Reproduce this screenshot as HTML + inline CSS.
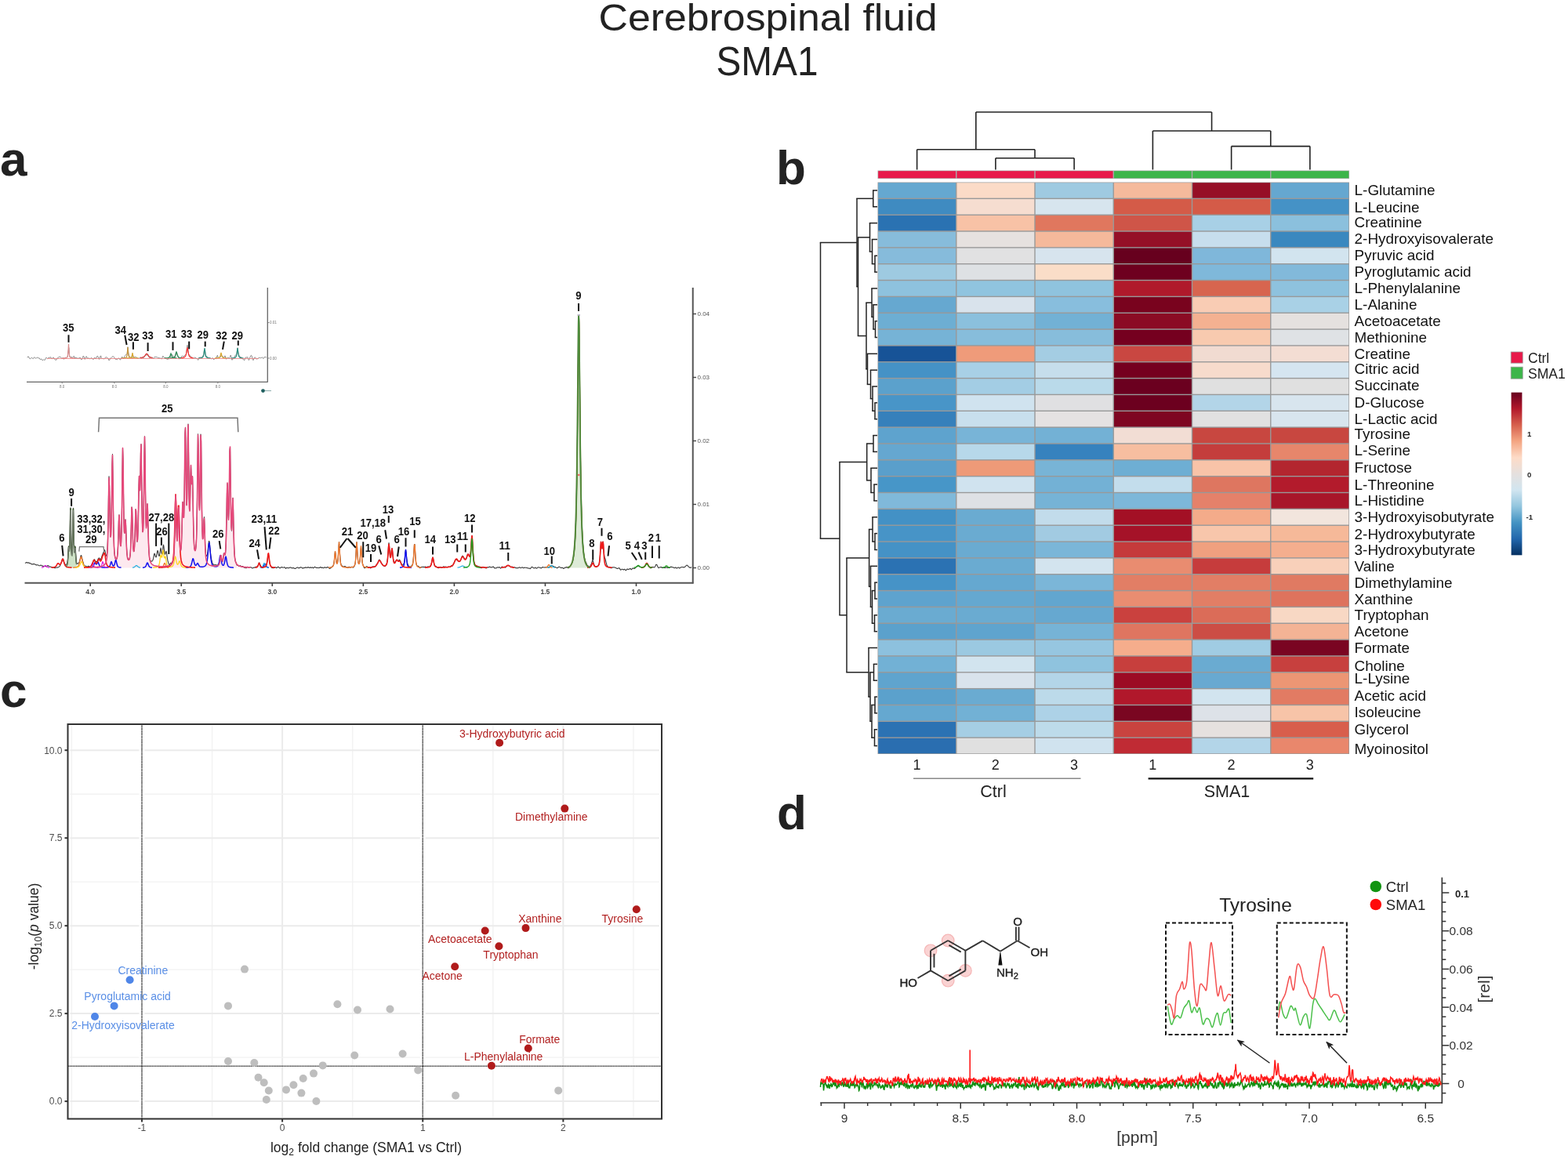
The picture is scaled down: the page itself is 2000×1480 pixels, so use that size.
<!DOCTYPE html>
<html><head><meta charset="utf-8"><title>Cerebrospinal fluid SMA1</title>
<style>html,body{margin:0;padding:0;background:#fff;}svg{display:block;}text{font-family:'Liberation Sans', Arial, Helvetica, sans-serif;}</style>
</head><body>
<svg width="2000" height="1480" viewBox="0 0 2000 1480">
<rect x="0" y="0" width="2000" height="1480" fill="#ffffff"/>
<text x="979.5" y="39" font-size="49" fill="#222" text-anchor="middle" textLength="432" lengthAdjust="spacingAndGlyphs">Cerebrospinal fluid</text>
<text x="978.5" y="95.5" font-size="51" fill="#222" text-anchor="middle" textLength="130" lengthAdjust="spacingAndGlyphs">SMA1</text>
<text x="0" y="224" font-size="62" fill="#222" font-weight="bold">a</text>
<text x="990" y="234.5" font-size="62" fill="#222" font-weight="bold">b</text>
<text x="0" y="902" font-size="62" fill="#222" font-weight="bold">c</text>
<text x="991" y="1057.5" font-size="62" fill="#222" font-weight="bold">d</text>
<rect x="1119.5" y="217.5" width="601.5" height="10.5" fill="#AAAAAA"/>
<rect x="1120.2" y="218.2" width="98.85" height="9.1" fill="#E8194A"/>
<rect x="1220.45" y="218.2" width="98.85" height="9.1" fill="#E8194A"/>
<rect x="1320.7" y="218.2" width="98.85" height="9.1" fill="#E8194A"/>
<rect x="1420.95" y="218.2" width="98.85" height="9.1" fill="#3DB54A"/>
<rect x="1521.2" y="218.2" width="98.85" height="9.1" fill="#3DB54A"/>
<rect x="1621.45" y="218.2" width="98.85" height="9.1" fill="#3DB54A"/>
<rect x="1119.5" y="232.5" width="601.5" height="729.5" fill="#999999"/>
<rect x="1120.2" y="233.2" width="98.85" height="19.44" fill="#65A8D0"/>
<rect x="1220.45" y="233.2" width="98.85" height="19.44" fill="#FBDBC7"/>
<rect x="1320.7" y="233.2" width="98.85" height="19.44" fill="#9FCAE1"/>
<rect x="1420.95" y="233.2" width="98.85" height="19.44" fill="#F5BA9C"/>
<rect x="1521.2" y="233.2" width="98.85" height="19.44" fill="#960F26"/>
<rect x="1621.45" y="233.2" width="98.85" height="19.44" fill="#65A7D0"/>
<rect x="1120.2" y="254.04" width="98.85" height="19.44" fill="#3F8BC1"/>
<rect x="1220.45" y="254.04" width="98.85" height="19.44" fill="#F6DDD0"/>
<rect x="1320.7" y="254.04" width="98.85" height="19.44" fill="#D7E5EE"/>
<rect x="1420.95" y="254.04" width="98.85" height="19.44" fill="#D45B48"/>
<rect x="1521.2" y="254.04" width="98.85" height="19.44" fill="#D45B48"/>
<rect x="1621.45" y="254.04" width="98.85" height="19.44" fill="#4592C6"/>
<rect x="1120.2" y="274.89" width="98.85" height="19.44" fill="#2A72B2"/>
<rect x="1220.45" y="274.89" width="98.85" height="19.44" fill="#F8C2A6"/>
<rect x="1320.7" y="274.89" width="98.85" height="19.44" fill="#E0775E"/>
<rect x="1420.95" y="274.89" width="98.85" height="19.44" fill="#CF5548"/>
<rect x="1521.2" y="274.89" width="98.85" height="19.44" fill="#A8D0E6"/>
<rect x="1621.45" y="274.89" width="98.85" height="19.44" fill="#8BC0DD"/>
<rect x="1120.2" y="295.73" width="98.85" height="19.44" fill="#87BCDB"/>
<rect x="1220.45" y="295.73" width="98.85" height="19.44" fill="#E6E1DF"/>
<rect x="1320.7" y="295.73" width="98.85" height="19.44" fill="#F5B99B"/>
<rect x="1420.95" y="295.73" width="98.85" height="19.44" fill="#951027"/>
<rect x="1521.2" y="295.73" width="98.85" height="19.44" fill="#C7DEED"/>
<rect x="1621.45" y="295.73" width="98.85" height="19.44" fill="#3A88BF"/>
<rect x="1120.2" y="316.57" width="98.85" height="19.44" fill="#86BBDB"/>
<rect x="1220.45" y="316.57" width="98.85" height="19.44" fill="#E1E1E2"/>
<rect x="1320.7" y="316.57" width="98.85" height="19.44" fill="#D7E4EE"/>
<rect x="1420.95" y="316.57" width="98.85" height="19.44" fill="#67001E"/>
<rect x="1521.2" y="316.57" width="98.85" height="19.44" fill="#7FB7DA"/>
<rect x="1621.45" y="316.57" width="98.85" height="19.44" fill="#D2E4EF"/>
<rect x="1120.2" y="337.41" width="98.85" height="19.44" fill="#9ECAE1"/>
<rect x="1220.45" y="337.41" width="98.85" height="19.44" fill="#DEE1E4"/>
<rect x="1320.7" y="337.41" width="98.85" height="19.44" fill="#FADDC8"/>
<rect x="1420.95" y="337.41" width="98.85" height="19.44" fill="#6E001F"/>
<rect x="1521.2" y="337.41" width="98.85" height="19.44" fill="#7FB8DA"/>
<rect x="1621.45" y="337.41" width="98.85" height="19.44" fill="#82B9DA"/>
<rect x="1120.2" y="358.26" width="98.85" height="19.44" fill="#8EC2DE"/>
<rect x="1220.45" y="358.26" width="98.85" height="19.44" fill="#90C4DF"/>
<rect x="1320.7" y="358.26" width="98.85" height="19.44" fill="#8FC3DE"/>
<rect x="1420.95" y="358.26" width="98.85" height="19.44" fill="#B0192B"/>
<rect x="1521.2" y="358.26" width="98.85" height="19.44" fill="#D7654F"/>
<rect x="1621.45" y="358.26" width="98.85" height="19.44" fill="#8EC2DE"/>
<rect x="1120.2" y="379.1" width="98.85" height="19.44" fill="#66A8D0"/>
<rect x="1220.45" y="379.1" width="98.85" height="19.44" fill="#D9E3EC"/>
<rect x="1320.7" y="379.1" width="98.85" height="19.44" fill="#88BEDD"/>
<rect x="1420.95" y="379.1" width="98.85" height="19.44" fill="#79031E"/>
<rect x="1521.2" y="379.1" width="98.85" height="19.44" fill="#F9CCB4"/>
<rect x="1621.45" y="379.1" width="98.85" height="19.44" fill="#A9D1E6"/>
<rect x="1120.2" y="399.94" width="98.85" height="19.44" fill="#6DAED3"/>
<rect x="1220.45" y="399.94" width="98.85" height="19.44" fill="#8BC0DD"/>
<rect x="1320.7" y="399.94" width="98.85" height="19.44" fill="#72B1D5"/>
<rect x="1420.95" y="399.94" width="98.85" height="19.44" fill="#8B0B24"/>
<rect x="1521.2" y="399.94" width="98.85" height="19.44" fill="#F4B191"/>
<rect x="1621.45" y="399.94" width="98.85" height="19.44" fill="#E5E1DF"/>
<rect x="1120.2" y="420.79" width="98.85" height="19.44" fill="#76B3D6"/>
<rect x="1220.45" y="420.79" width="98.85" height="19.44" fill="#87BDDB"/>
<rect x="1320.7" y="420.79" width="98.85" height="19.44" fill="#87BDDB"/>
<rect x="1420.95" y="420.79" width="98.85" height="19.44" fill="#75001F"/>
<rect x="1521.2" y="420.79" width="98.85" height="19.44" fill="#F8CAAF"/>
<rect x="1621.45" y="420.79" width="98.85" height="19.44" fill="#DFE2E5"/>
<rect x="1120.2" y="441.63" width="98.85" height="19.44" fill="#175397"/>
<rect x="1220.45" y="441.63" width="98.85" height="19.44" fill="#EF9B7A"/>
<rect x="1320.7" y="441.63" width="98.85" height="19.44" fill="#A4CDE3"/>
<rect x="1420.95" y="441.63" width="98.85" height="19.44" fill="#C94741"/>
<rect x="1521.2" y="441.63" width="98.85" height="19.44" fill="#F1DBD1"/>
<rect x="1621.45" y="441.63" width="98.85" height="19.44" fill="#F3DDD3"/>
<rect x="1120.2" y="462.47" width="98.85" height="19.44" fill="#4592C6"/>
<rect x="1220.45" y="462.47" width="98.85" height="19.44" fill="#A8D0E6"/>
<rect x="1320.7" y="462.47" width="98.85" height="19.44" fill="#C6DEEC"/>
<rect x="1420.95" y="462.47" width="98.85" height="19.44" fill="#75001F"/>
<rect x="1521.2" y="462.47" width="98.85" height="19.44" fill="#F7DBCC"/>
<rect x="1621.45" y="462.47" width="98.85" height="19.44" fill="#D5E5F0"/>
<rect x="1120.2" y="483.31" width="98.85" height="19.44" fill="#5BA1CC"/>
<rect x="1220.45" y="483.31" width="98.85" height="19.44" fill="#A3CDE4"/>
<rect x="1320.7" y="483.31" width="98.85" height="19.44" fill="#BADAEA"/>
<rect x="1420.95" y="483.31" width="98.85" height="19.44" fill="#6B001F"/>
<rect x="1521.2" y="483.31" width="98.85" height="19.44" fill="#E0E0E0"/>
<rect x="1621.45" y="483.31" width="98.85" height="19.44" fill="#E0E0E0"/>
<rect x="1120.2" y="504.16" width="98.85" height="19.44" fill="#4895C8"/>
<rect x="1220.45" y="504.16" width="98.85" height="19.44" fill="#D0E3EF"/>
<rect x="1320.7" y="504.16" width="98.85" height="19.44" fill="#E0E0E2"/>
<rect x="1420.95" y="504.16" width="98.85" height="19.44" fill="#6C001F"/>
<rect x="1521.2" y="504.16" width="98.85" height="19.44" fill="#B3D5E8"/>
<rect x="1621.45" y="504.16" width="98.85" height="19.44" fill="#D8E5EE"/>
<rect x="1120.2" y="525" width="98.85" height="19.44" fill="#3680BB"/>
<rect x="1220.45" y="525" width="98.85" height="19.44" fill="#C8DFED"/>
<rect x="1320.7" y="525" width="98.85" height="19.44" fill="#E5E2E2"/>
<rect x="1420.95" y="525" width="98.85" height="19.44" fill="#7E0621"/>
<rect x="1521.2" y="525" width="98.85" height="19.44" fill="#E1E1E1"/>
<rect x="1621.45" y="525" width="98.85" height="19.44" fill="#D8E5EE"/>
<rect x="1120.2" y="545.84" width="98.85" height="19.44" fill="#5EA3CE"/>
<rect x="1220.45" y="545.84" width="98.85" height="19.44" fill="#78B4D7"/>
<rect x="1320.7" y="545.84" width="98.85" height="19.44" fill="#73B1D5"/>
<rect x="1420.95" y="545.84" width="98.85" height="19.44" fill="#F2DDD4"/>
<rect x="1521.2" y="545.84" width="98.85" height="19.44" fill="#C84740"/>
<rect x="1621.45" y="545.84" width="98.85" height="19.44" fill="#C84740"/>
<rect x="1120.2" y="566.69" width="98.85" height="19.44" fill="#65A7D0"/>
<rect x="1220.45" y="566.69" width="98.85" height="19.44" fill="#B7D8EA"/>
<rect x="1320.7" y="566.69" width="98.85" height="19.44" fill="#3682BE"/>
<rect x="1420.95" y="566.69" width="98.85" height="19.44" fill="#F7BEA0"/>
<rect x="1521.2" y="566.69" width="98.85" height="19.44" fill="#C43D3C"/>
<rect x="1621.45" y="566.69" width="98.85" height="19.44" fill="#E7866B"/>
<rect x="1120.2" y="587.53" width="98.85" height="19.44" fill="#5A9FCB"/>
<rect x="1220.45" y="587.53" width="98.85" height="19.44" fill="#EE9A78"/>
<rect x="1320.7" y="587.53" width="98.85" height="19.44" fill="#78B4D6"/>
<rect x="1420.95" y="587.53" width="98.85" height="19.44" fill="#6EAED3"/>
<rect x="1521.2" y="587.53" width="98.85" height="19.44" fill="#F8C3A8"/>
<rect x="1621.45" y="587.53" width="98.85" height="19.44" fill="#B3262F"/>
<rect x="1120.2" y="608.37" width="98.85" height="19.44" fill="#4796C8"/>
<rect x="1220.45" y="608.37" width="98.85" height="19.44" fill="#D0E3EF"/>
<rect x="1320.7" y="608.37" width="98.85" height="19.44" fill="#73B1D5"/>
<rect x="1420.95" y="608.37" width="98.85" height="19.44" fill="#C3DDEC"/>
<rect x="1521.2" y="608.37" width="98.85" height="19.44" fill="#DE7660"/>
<rect x="1621.45" y="608.37" width="98.85" height="19.44" fill="#B31B2C"/>
<rect x="1120.2" y="629.21" width="98.85" height="19.44" fill="#80B9DA"/>
<rect x="1220.45" y="629.21" width="98.85" height="19.44" fill="#DEE1E5"/>
<rect x="1320.7" y="629.21" width="98.85" height="19.44" fill="#76B3D6"/>
<rect x="1420.95" y="629.21" width="98.85" height="19.44" fill="#7DB7D9"/>
<rect x="1521.2" y="629.21" width="98.85" height="19.44" fill="#E5816A"/>
<rect x="1621.45" y="629.21" width="98.85" height="19.44" fill="#A8162A"/>
<rect x="1120.2" y="650.06" width="98.85" height="19.44" fill="#4391C5"/>
<rect x="1220.45" y="650.06" width="98.85" height="19.44" fill="#6AABD1"/>
<rect x="1320.7" y="650.06" width="98.85" height="19.44" fill="#C2DCEB"/>
<rect x="1420.95" y="650.06" width="98.85" height="19.44" fill="#A31025"/>
<rect x="1521.2" y="650.06" width="98.85" height="19.44" fill="#F4AB8A"/>
<rect x="1621.45" y="650.06" width="98.85" height="19.44" fill="#F2E5DD"/>
<rect x="1120.2" y="670.9" width="98.85" height="19.44" fill="#4794C7"/>
<rect x="1220.45" y="670.9" width="98.85" height="19.44" fill="#6AABD1"/>
<rect x="1320.7" y="670.9" width="98.85" height="19.44" fill="#A2CBE2"/>
<rect x="1420.95" y="670.9" width="98.85" height="19.44" fill="#A51228"/>
<rect x="1521.2" y="670.9" width="98.85" height="19.44" fill="#F8C6AB"/>
<rect x="1621.45" y="670.9" width="98.85" height="19.44" fill="#F6B999"/>
<rect x="1120.2" y="691.74" width="98.85" height="19.44" fill="#4592C6"/>
<rect x="1220.45" y="691.74" width="98.85" height="19.44" fill="#6AABD1"/>
<rect x="1320.7" y="691.74" width="98.85" height="19.44" fill="#7BB6D8"/>
<rect x="1420.95" y="691.74" width="98.85" height="19.44" fill="#C53A3B"/>
<rect x="1521.2" y="691.74" width="98.85" height="19.44" fill="#F0A07F"/>
<rect x="1621.45" y="691.74" width="98.85" height="19.44" fill="#F4AE8E"/>
<rect x="1120.2" y="712.59" width="98.85" height="19.44" fill="#2B72B3"/>
<rect x="1220.45" y="712.59" width="98.85" height="19.44" fill="#6AABD1"/>
<rect x="1320.7" y="712.59" width="98.85" height="19.44" fill="#D3E4EF"/>
<rect x="1420.95" y="712.59" width="98.85" height="19.44" fill="#E98C70"/>
<rect x="1521.2" y="712.59" width="98.85" height="19.44" fill="#C63C3C"/>
<rect x="1621.45" y="712.59" width="98.85" height="19.44" fill="#F8D0BA"/>
<rect x="1120.2" y="733.43" width="98.85" height="19.44" fill="#4693C7"/>
<rect x="1220.45" y="733.43" width="98.85" height="19.44" fill="#65A8D0"/>
<rect x="1320.7" y="733.43" width="98.85" height="19.44" fill="#7BB6D8"/>
<rect x="1420.95" y="733.43" width="98.85" height="19.44" fill="#E27E65"/>
<rect x="1521.2" y="733.43" width="98.85" height="19.44" fill="#E27E65"/>
<rect x="1621.45" y="733.43" width="98.85" height="19.44" fill="#E07A62"/>
<rect x="1120.2" y="754.27" width="98.85" height="19.44" fill="#5EA3CE"/>
<rect x="1220.45" y="754.27" width="98.85" height="19.44" fill="#65A8D0"/>
<rect x="1320.7" y="754.27" width="98.85" height="19.44" fill="#62A6CF"/>
<rect x="1420.95" y="754.27" width="98.85" height="19.44" fill="#E98D71"/>
<rect x="1521.2" y="754.27" width="98.85" height="19.44" fill="#E27E65"/>
<rect x="1621.45" y="754.27" width="98.85" height="19.44" fill="#DE735D"/>
<rect x="1120.2" y="775.11" width="98.85" height="19.44" fill="#6AABD1"/>
<rect x="1220.45" y="775.11" width="98.85" height="19.44" fill="#6AABD1"/>
<rect x="1320.7" y="775.11" width="98.85" height="19.44" fill="#66A8D0"/>
<rect x="1420.95" y="775.11" width="98.85" height="19.44" fill="#CA413E"/>
<rect x="1521.2" y="775.11" width="98.85" height="19.44" fill="#DB6C58"/>
<rect x="1621.45" y="775.11" width="98.85" height="19.44" fill="#F8D8C4"/>
<rect x="1120.2" y="795.96" width="98.85" height="19.44" fill="#5BA1CC"/>
<rect x="1220.45" y="795.96" width="98.85" height="19.44" fill="#5FA4CE"/>
<rect x="1320.7" y="795.96" width="98.85" height="19.44" fill="#76B3D6"/>
<rect x="1420.95" y="795.96" width="98.85" height="19.44" fill="#DF7560"/>
<rect x="1521.2" y="795.96" width="98.85" height="19.44" fill="#CC4D45"/>
<rect x="1621.45" y="795.96" width="98.85" height="19.44" fill="#F4B395"/>
<rect x="1120.2" y="816.8" width="98.85" height="19.44" fill="#8DC1DE"/>
<rect x="1220.45" y="816.8" width="98.85" height="19.44" fill="#9BC9E1"/>
<rect x="1320.7" y="816.8" width="98.85" height="19.44" fill="#96C6E0"/>
<rect x="1420.95" y="816.8" width="98.85" height="19.44" fill="#F5AD8C"/>
<rect x="1521.2" y="816.8" width="98.85" height="19.44" fill="#A0CCE3"/>
<rect x="1621.45" y="816.8" width="98.85" height="19.44" fill="#7A0522"/>
<rect x="1120.2" y="837.64" width="98.85" height="19.44" fill="#72B1D5"/>
<rect x="1220.45" y="837.64" width="98.85" height="19.44" fill="#D2E4EF"/>
<rect x="1320.7" y="837.64" width="98.85" height="19.44" fill="#8FC3DE"/>
<rect x="1420.95" y="837.64" width="98.85" height="19.44" fill="#C73F3D"/>
<rect x="1521.2" y="837.64" width="98.85" height="19.44" fill="#6AABD1"/>
<rect x="1621.45" y="837.64" width="98.85" height="19.44" fill="#C7403E"/>
<rect x="1120.2" y="858.49" width="98.85" height="19.44" fill="#5FA4CE"/>
<rect x="1220.45" y="858.49" width="98.85" height="19.44" fill="#D9E3EC"/>
<rect x="1320.7" y="858.49" width="98.85" height="19.44" fill="#B3D5E8"/>
<rect x="1420.95" y="858.49" width="98.85" height="19.44" fill="#9C0B24"/>
<rect x="1521.2" y="858.49" width="98.85" height="19.44" fill="#68A9D1"/>
<rect x="1621.45" y="858.49" width="98.85" height="19.44" fill="#EC9674"/>
<rect x="1120.2" y="879.33" width="98.85" height="19.44" fill="#5BA1CC"/>
<rect x="1220.45" y="879.33" width="98.85" height="19.44" fill="#6AABD1"/>
<rect x="1320.7" y="879.33" width="98.85" height="19.44" fill="#BCDAEA"/>
<rect x="1420.95" y="879.33" width="98.85" height="19.44" fill="#B1182B"/>
<rect x="1521.2" y="879.33" width="98.85" height="19.44" fill="#D2E4EF"/>
<rect x="1621.45" y="879.33" width="98.85" height="19.44" fill="#E27B63"/>
<rect x="1120.2" y="900.17" width="98.85" height="19.44" fill="#65A8D0"/>
<rect x="1220.45" y="900.17" width="98.85" height="19.44" fill="#72B1D5"/>
<rect x="1320.7" y="900.17" width="98.85" height="19.44" fill="#ADD2E7"/>
<rect x="1420.95" y="900.17" width="98.85" height="19.44" fill="#7A0621"/>
<rect x="1521.2" y="900.17" width="98.85" height="19.44" fill="#DDE2E8"/>
<rect x="1621.45" y="900.17" width="98.85" height="19.44" fill="#F7C4A8"/>
<rect x="1120.2" y="921.01" width="98.85" height="19.44" fill="#2B72B3"/>
<rect x="1220.45" y="921.01" width="98.85" height="19.44" fill="#A5CEE4"/>
<rect x="1320.7" y="921.01" width="98.85" height="19.44" fill="#BDDBEA"/>
<rect x="1420.95" y="921.01" width="98.85" height="19.44" fill="#C9433F"/>
<rect x="1521.2" y="921.01" width="98.85" height="19.44" fill="#E6E1DF"/>
<rect x="1621.45" y="921.01" width="98.85" height="19.44" fill="#D85E4C"/>
<rect x="1120.2" y="941.86" width="98.85" height="19.44" fill="#2A6EB0"/>
<rect x="1220.45" y="941.86" width="98.85" height="19.44" fill="#E0E0E0"/>
<rect x="1320.7" y="941.86" width="98.85" height="19.44" fill="#D0E3EF"/>
<rect x="1420.95" y="941.86" width="98.85" height="19.44" fill="#C02B34"/>
<rect x="1521.2" y="941.86" width="98.85" height="19.44" fill="#B3D5E8"/>
<rect x="1621.45" y="941.86" width="98.85" height="19.44" fill="#E9876C"/>
<g transform="translate(1727.6,0) scale(1.05,1)">
<text x="0" y="248.6" font-size="18" fill="#111">L-Glutamine</text>
<text x="0" y="270.8" font-size="18" fill="#111">L-Leucine</text>
<text x="0" y="290.1" font-size="18" fill="#111">Creatinine</text>
<text x="0" y="310.9" font-size="18" fill="#111">2-Hydroxyisovalerate</text>
<text x="0" y="331.8" font-size="18" fill="#111">Pyruvic acid</text>
<text x="0" y="353.5" font-size="18" fill="#111">Pyroglutamic acid</text>
<text x="0" y="374.4" font-size="18" fill="#111">L-Phenylalanine</text>
<text x="0" y="395.3" font-size="18" fill="#111">L-Alanine</text>
<text x="0" y="416" font-size="18" fill="#111">Acetoacetate</text>
<text x="0" y="437" font-size="18" fill="#111">Methionine</text>
<text x="0" y="457.8" font-size="18" fill="#111">Creatine</text>
<text x="0" y="477" font-size="18" fill="#111">Citric acid</text>
<text x="0" y="497.9" font-size="18" fill="#111">Succinate</text>
<text x="0" y="520" font-size="18" fill="#111">D-Glucose</text>
<text x="0" y="540.9" font-size="18" fill="#111">L-Lactic acid</text>
<text x="0" y="559.9" font-size="18" fill="#111">Tyrosine</text>
<text x="0" y="581.1" font-size="18" fill="#111">L-Serine</text>
<text x="0" y="603.2" font-size="18" fill="#111">Fructose</text>
<text x="0" y="625.4" font-size="18" fill="#111">L-Threonine</text>
<text x="0" y="644.7" font-size="18" fill="#111">L-Histidine</text>
<text x="0" y="666.5" font-size="18" fill="#111">3-Hydroxyisobutyrate</text>
<text x="0" y="687.6" font-size="18" fill="#111">2-Hydroxybutyrate</text>
<text x="0" y="708.4" font-size="18" fill="#111">3-Hydroxybutyrate</text>
<text x="0" y="729.1" font-size="18" fill="#111">Valine</text>
<text x="0" y="749.8" font-size="18" fill="#111">Dimethylamine</text>
<text x="0" y="770.6" font-size="18" fill="#111">Xanthine</text>
<text x="0" y="791.2" font-size="18" fill="#111">Tryptophan</text>
<text x="0" y="811.9" font-size="18" fill="#111">Acetone</text>
<text x="0" y="833.3" font-size="18" fill="#111">Formate</text>
<text x="0" y="855.7" font-size="18" fill="#111">Choline</text>
<text x="0" y="872.4" font-size="18" fill="#111">L-Lysine</text>
<text x="0" y="894.2" font-size="18" fill="#111">Acetic acid</text>
<text x="0" y="914.9" font-size="18" fill="#111">Isoleucine</text>
<text x="0" y="937.3" font-size="18" fill="#111">Glycerol</text>
<text x="0" y="962" font-size="18" fill="#111">Myoinositol</text>
</g>
<text x="1169.62" y="981.5" font-size="18" fill="#222" text-anchor="middle">1</text>
<text x="1269.88" y="981.5" font-size="18" fill="#222" text-anchor="middle">2</text>
<text x="1370.12" y="981.5" font-size="18" fill="#222" text-anchor="middle">3</text>
<text x="1470.38" y="981.5" font-size="18" fill="#222" text-anchor="middle">1</text>
<text x="1570.62" y="981.5" font-size="18" fill="#222" text-anchor="middle">2</text>
<text x="1670.88" y="981.5" font-size="18" fill="#222" text-anchor="middle">3</text>
<line x1="1165" y1="993.3" x2="1378.5" y2="993.3" stroke="#888" stroke-width="1.6"/>
<line x1="1464.6" y1="993.3" x2="1675.2" y2="993.3" stroke="#111" stroke-width="2.2"/>
<text x="1267" y="1017" font-size="21.5" fill="#222" text-anchor="middle">Ctrl</text>
<text x="1565" y="1017" font-size="21.5" fill="#222" text-anchor="middle">SMA1</text>
<rect x="1927.2" y="449" width="15" height="14.2" fill="#E8194A" stroke="#9a9a9a" stroke-width="0.8"/>
<rect x="1927.2" y="468.2" width="15" height="15" fill="#3DB54A" stroke="#9a9a9a" stroke-width="0.8"/>
<text x="1949" y="463" font-size="17.5" fill="#222">Ctrl</text>
<text x="1949" y="483" font-size="17.5" fill="#222">SMA1</text>
<defs><linearGradient id="cb" x1="0" y1="1" x2="0" y2="0"><stop offset="0" stop-color="#053061"/><stop offset="0.1" stop-color="#2166AC"/><stop offset="0.2" stop-color="#4393C3"/><stop offset="0.3" stop-color="#92C5DE"/><stop offset="0.4" stop-color="#D1E5F0"/><stop offset="0.5" stop-color="#E5E0DE"/><stop offset="0.6" stop-color="#FDDBC7"/><stop offset="0.7" stop-color="#F4A582"/><stop offset="0.8" stop-color="#D6604D"/><stop offset="0.9" stop-color="#B2182B"/><stop offset="1" stop-color="#67001F"/></linearGradient></defs>
<rect x="1927.6" y="500.7" width="13.8" height="207.6" fill="url(#cb)"/>
<text x="1948" y="556.5" font-size="9.5" fill="#222" font-weight="bold">1</text>
<text x="1948" y="608.5" font-size="9.5" fill="#222" font-weight="bold">0</text>
<text x="1946.5" y="662.5" font-size="9.5" fill="#222" font-weight="bold">-1</text>
<line x1="1269.88" y1="201.75" x2="1370.12" y2="201.75" stroke="#222" stroke-width="1.6"/>
<line x1="1269.88" y1="201.75" x2="1269.88" y2="216.5" stroke="#222" stroke-width="1.6"/>
<line x1="1370.12" y1="201.75" x2="1370.12" y2="216.5" stroke="#222" stroke-width="1.6"/>
<line x1="1169.62" y1="190.75" x2="1320" y2="190.75" stroke="#222" stroke-width="1.6"/>
<line x1="1169.62" y1="190.75" x2="1169.62" y2="216.5" stroke="#222" stroke-width="1.6"/>
<line x1="1320" y1="190.75" x2="1320" y2="201.75" stroke="#222" stroke-width="1.6"/>
<line x1="1570.62" y1="186.6" x2="1670.88" y2="186.6" stroke="#222" stroke-width="1.6"/>
<line x1="1570.62" y1="186.6" x2="1570.62" y2="216.5" stroke="#222" stroke-width="1.6"/>
<line x1="1670.88" y1="186.6" x2="1670.88" y2="216.5" stroke="#222" stroke-width="1.6"/>
<line x1="1470.38" y1="167" x2="1620.75" y2="167" stroke="#222" stroke-width="1.6"/>
<line x1="1470.38" y1="167" x2="1470.38" y2="216.5" stroke="#222" stroke-width="1.6"/>
<line x1="1620.75" y1="167" x2="1620.75" y2="186.6" stroke="#222" stroke-width="1.6"/>
<line x1="1244.81" y1="143" x2="1545.56" y2="143" stroke="#222" stroke-width="1.6"/>
<line x1="1244.81" y1="143" x2="1244.81" y2="190.75" stroke="#222" stroke-width="1.6"/>
<line x1="1545.56" y1="143" x2="1545.56" y2="167" stroke="#222" stroke-width="1.6"/>
<line x1="1113.75" y1="242.92" x2="1113.75" y2="263.76" stroke="#222" stroke-width="1.5"/>
<line x1="1113" y1="242.92" x2="1119" y2="242.92" stroke="#222" stroke-width="1.5"/>
<line x1="1113" y1="263.76" x2="1119" y2="263.76" stroke="#222" stroke-width="1.5"/>
<line x1="1116" y1="326.29" x2="1116" y2="347.14" stroke="#222" stroke-width="1.5"/>
<line x1="1115.25" y1="326.29" x2="1119" y2="326.29" stroke="#222" stroke-width="1.5"/>
<line x1="1115.25" y1="347.14" x2="1119" y2="347.14" stroke="#222" stroke-width="1.5"/>
<line x1="1112.5" y1="305.45" x2="1112.5" y2="336.71" stroke="#222" stroke-width="1.5"/>
<line x1="1111.75" y1="305.45" x2="1119" y2="305.45" stroke="#222" stroke-width="1.5"/>
<line x1="1111.75" y1="336.71" x2="1116" y2="336.71" stroke="#222" stroke-width="1.5"/>
<line x1="1109.5" y1="284.61" x2="1109.5" y2="321.08" stroke="#222" stroke-width="1.5"/>
<line x1="1108.75" y1="284.61" x2="1119" y2="284.61" stroke="#222" stroke-width="1.5"/>
<line x1="1108.75" y1="321.08" x2="1112.5" y2="321.08" stroke="#222" stroke-width="1.5"/>
<line x1="1116.5" y1="409.66" x2="1116.5" y2="430.51" stroke="#222" stroke-width="1.5"/>
<line x1="1115.75" y1="409.66" x2="1119" y2="409.66" stroke="#222" stroke-width="1.5"/>
<line x1="1115.75" y1="430.51" x2="1119" y2="430.51" stroke="#222" stroke-width="1.5"/>
<line x1="1114" y1="388.82" x2="1114" y2="420.09" stroke="#222" stroke-width="1.5"/>
<line x1="1113.25" y1="388.82" x2="1119" y2="388.82" stroke="#222" stroke-width="1.5"/>
<line x1="1113.25" y1="420.09" x2="1116.5" y2="420.09" stroke="#222" stroke-width="1.5"/>
<line x1="1112" y1="367.98" x2="1112" y2="404.45" stroke="#222" stroke-width="1.5"/>
<line x1="1111.25" y1="367.98" x2="1119" y2="367.98" stroke="#222" stroke-width="1.5"/>
<line x1="1111.25" y1="404.45" x2="1114" y2="404.45" stroke="#222" stroke-width="1.5"/>
<line x1="1116" y1="513.88" x2="1116" y2="534.72" stroke="#222" stroke-width="1.5"/>
<line x1="1115.25" y1="513.88" x2="1119" y2="513.88" stroke="#222" stroke-width="1.5"/>
<line x1="1115.25" y1="534.72" x2="1119" y2="534.72" stroke="#222" stroke-width="1.5"/>
<line x1="1113" y1="493.04" x2="1113" y2="524.3" stroke="#222" stroke-width="1.5"/>
<line x1="1112.25" y1="493.04" x2="1119" y2="493.04" stroke="#222" stroke-width="1.5"/>
<line x1="1112.25" y1="524.3" x2="1116" y2="524.3" stroke="#222" stroke-width="1.5"/>
<line x1="1110.5" y1="472.19" x2="1110.5" y2="508.67" stroke="#222" stroke-width="1.5"/>
<line x1="1109.75" y1="472.19" x2="1119" y2="472.19" stroke="#222" stroke-width="1.5"/>
<line x1="1109.75" y1="508.67" x2="1113" y2="508.67" stroke="#222" stroke-width="1.5"/>
<line x1="1106.5" y1="451.35" x2="1106.5" y2="490.43" stroke="#222" stroke-width="1.5"/>
<line x1="1105.75" y1="451.35" x2="1119" y2="451.35" stroke="#222" stroke-width="1.5"/>
<line x1="1105.75" y1="490.43" x2="1110.5" y2="490.43" stroke="#222" stroke-width="1.5"/>
<line x1="1105" y1="386.22" x2="1105" y2="470.89" stroke="#222" stroke-width="1.5"/>
<line x1="1104.25" y1="386.22" x2="1112" y2="386.22" stroke="#222" stroke-width="1.5"/>
<line x1="1104.25" y1="470.89" x2="1106.5" y2="470.89" stroke="#222" stroke-width="1.5"/>
<line x1="1094.5" y1="302.84" x2="1094.5" y2="428.55" stroke="#222" stroke-width="1.5"/>
<line x1="1093.75" y1="302.84" x2="1109.5" y2="302.84" stroke="#222" stroke-width="1.5"/>
<line x1="1093.75" y1="428.55" x2="1105" y2="428.55" stroke="#222" stroke-width="1.5"/>
<line x1="1093" y1="253.34" x2="1093" y2="365.7" stroke="#222" stroke-width="1.5"/>
<line x1="1092.25" y1="253.34" x2="1113.75" y2="253.34" stroke="#222" stroke-width="1.5"/>
<line x1="1092.25" y1="365.7" x2="1094.5" y2="365.7" stroke="#222" stroke-width="1.5"/>
<line x1="1114" y1="555.56" x2="1114" y2="576.41" stroke="#222" stroke-width="1.5"/>
<line x1="1113.25" y1="555.56" x2="1119" y2="555.56" stroke="#222" stroke-width="1.5"/>
<line x1="1113.25" y1="576.41" x2="1119" y2="576.41" stroke="#222" stroke-width="1.5"/>
<line x1="1115" y1="618.09" x2="1115" y2="638.94" stroke="#222" stroke-width="1.5"/>
<line x1="1114.25" y1="618.09" x2="1119" y2="618.09" stroke="#222" stroke-width="1.5"/>
<line x1="1114.25" y1="638.94" x2="1119" y2="638.94" stroke="#222" stroke-width="1.5"/>
<line x1="1111" y1="597.25" x2="1111" y2="628.51" stroke="#222" stroke-width="1.5"/>
<line x1="1110.25" y1="597.25" x2="1119" y2="597.25" stroke="#222" stroke-width="1.5"/>
<line x1="1110.25" y1="628.51" x2="1115" y2="628.51" stroke="#222" stroke-width="1.5"/>
<line x1="1105.7" y1="565.99" x2="1105.7" y2="612.88" stroke="#222" stroke-width="1.5"/>
<line x1="1104.95" y1="565.99" x2="1114" y2="565.99" stroke="#222" stroke-width="1.5"/>
<line x1="1104.95" y1="612.88" x2="1111" y2="612.88" stroke="#222" stroke-width="1.5"/>
<line x1="1116" y1="680.62" x2="1116" y2="701.46" stroke="#222" stroke-width="1.5"/>
<line x1="1115.25" y1="680.62" x2="1119" y2="680.62" stroke="#222" stroke-width="1.5"/>
<line x1="1115.25" y1="701.46" x2="1119" y2="701.46" stroke="#222" stroke-width="1.5"/>
<line x1="1113" y1="659.78" x2="1113" y2="691.04" stroke="#222" stroke-width="1.5"/>
<line x1="1112.25" y1="659.78" x2="1119" y2="659.78" stroke="#222" stroke-width="1.5"/>
<line x1="1112.25" y1="691.04" x2="1116" y2="691.04" stroke="#222" stroke-width="1.5"/>
<line x1="1116" y1="743.15" x2="1116" y2="763.99" stroke="#222" stroke-width="1.5"/>
<line x1="1115.25" y1="743.15" x2="1119" y2="743.15" stroke="#222" stroke-width="1.5"/>
<line x1="1115.25" y1="763.99" x2="1119" y2="763.99" stroke="#222" stroke-width="1.5"/>
<line x1="1115.5" y1="784.84" x2="1115.5" y2="805.68" stroke="#222" stroke-width="1.5"/>
<line x1="1114.75" y1="784.84" x2="1119" y2="784.84" stroke="#222" stroke-width="1.5"/>
<line x1="1114.75" y1="805.68" x2="1119" y2="805.68" stroke="#222" stroke-width="1.5"/>
<line x1="1112.5" y1="753.57" x2="1112.5" y2="795.26" stroke="#222" stroke-width="1.5"/>
<line x1="1111.75" y1="753.57" x2="1116" y2="753.57" stroke="#222" stroke-width="1.5"/>
<line x1="1111.75" y1="795.26" x2="1115.5" y2="795.26" stroke="#222" stroke-width="1.5"/>
<line x1="1110.5" y1="722.31" x2="1110.5" y2="774.41" stroke="#222" stroke-width="1.5"/>
<line x1="1109.75" y1="722.31" x2="1119" y2="722.31" stroke="#222" stroke-width="1.5"/>
<line x1="1109.75" y1="774.41" x2="1112.5" y2="774.41" stroke="#222" stroke-width="1.5"/>
<line x1="1108.6" y1="675.41" x2="1108.6" y2="748.36" stroke="#222" stroke-width="1.5"/>
<line x1="1107.85" y1="675.41" x2="1113" y2="675.41" stroke="#222" stroke-width="1.5"/>
<line x1="1107.85" y1="748.36" x2="1110.5" y2="748.36" stroke="#222" stroke-width="1.5"/>
<line x1="1114.5" y1="847.36" x2="1114.5" y2="868.21" stroke="#222" stroke-width="1.5"/>
<line x1="1113.75" y1="847.36" x2="1119" y2="847.36" stroke="#222" stroke-width="1.5"/>
<line x1="1113.75" y1="868.21" x2="1119" y2="868.21" stroke="#222" stroke-width="1.5"/>
<line x1="1116" y1="889.05" x2="1116" y2="909.89" stroke="#222" stroke-width="1.5"/>
<line x1="1115.25" y1="889.05" x2="1119" y2="889.05" stroke="#222" stroke-width="1.5"/>
<line x1="1115.25" y1="909.89" x2="1119" y2="909.89" stroke="#222" stroke-width="1.5"/>
<line x1="1115.5" y1="930.74" x2="1115.5" y2="951.58" stroke="#222" stroke-width="1.5"/>
<line x1="1114.75" y1="930.74" x2="1119" y2="930.74" stroke="#222" stroke-width="1.5"/>
<line x1="1114.75" y1="951.58" x2="1119" y2="951.58" stroke="#222" stroke-width="1.5"/>
<line x1="1112" y1="899.47" x2="1112" y2="941.16" stroke="#222" stroke-width="1.5"/>
<line x1="1111.25" y1="899.47" x2="1116" y2="899.47" stroke="#222" stroke-width="1.5"/>
<line x1="1111.25" y1="941.16" x2="1115.5" y2="941.16" stroke="#222" stroke-width="1.5"/>
<line x1="1110" y1="857.79" x2="1110" y2="920.31" stroke="#222" stroke-width="1.5"/>
<line x1="1109.25" y1="857.79" x2="1114.5" y2="857.79" stroke="#222" stroke-width="1.5"/>
<line x1="1109.25" y1="920.31" x2="1112" y2="920.31" stroke="#222" stroke-width="1.5"/>
<line x1="1108" y1="826.52" x2="1108" y2="889.05" stroke="#222" stroke-width="1.5"/>
<line x1="1107.25" y1="826.52" x2="1119" y2="826.52" stroke="#222" stroke-width="1.5"/>
<line x1="1107.25" y1="889.05" x2="1110" y2="889.05" stroke="#222" stroke-width="1.5"/>
<line x1="1080" y1="711.89" x2="1080" y2="857.79" stroke="#222" stroke-width="1.5"/>
<line x1="1079.25" y1="711.89" x2="1108.6" y2="711.89" stroke="#222" stroke-width="1.5"/>
<line x1="1079.25" y1="857.79" x2="1108" y2="857.79" stroke="#222" stroke-width="1.5"/>
<line x1="1071" y1="589.43" x2="1071" y2="784.84" stroke="#222" stroke-width="1.5"/>
<line x1="1070.25" y1="589.43" x2="1105.7" y2="589.43" stroke="#222" stroke-width="1.5"/>
<line x1="1070.25" y1="784.84" x2="1080" y2="784.84" stroke="#222" stroke-width="1.5"/>
<line x1="1046.5" y1="309.52" x2="1046.5" y2="687.13" stroke="#222" stroke-width="1.5"/>
<line x1="1045.75" y1="309.52" x2="1093" y2="309.52" stroke="#222" stroke-width="1.5"/>
<line x1="1045.75" y1="687.13" x2="1071" y2="687.13" stroke="#222" stroke-width="1.5"/>
<line x1="91.41" y1="926" x2="91.41" y2="1425.5" stroke="#F2F2F2" stroke-width="1.4"/>
<line x1="270.54" y1="926" x2="270.54" y2="1425.5" stroke="#F2F2F2" stroke-width="1.4"/>
<line x1="449.67" y1="926" x2="449.67" y2="1425.5" stroke="#F2F2F2" stroke-width="1.4"/>
<line x1="628.8" y1="926" x2="628.8" y2="1425.5" stroke="#F2F2F2" stroke-width="1.4"/>
<line x1="807.92" y1="926" x2="807.92" y2="1425.5" stroke="#F2F2F2" stroke-width="1.4"/>
<line x1="180.97" y1="926" x2="180.97" y2="1425.5" stroke="#EBEBEB" stroke-width="2"/>
<line x1="360.1" y1="926" x2="360.1" y2="1425.5" stroke="#EBEBEB" stroke-width="2"/>
<line x1="539.23" y1="926" x2="539.23" y2="1425.5" stroke="#EBEBEB" stroke-width="2"/>
<line x1="718.36" y1="926" x2="718.36" y2="1425.5" stroke="#EBEBEB" stroke-width="2"/>
<line x1="89.5" y1="1349.11" x2="841" y2="1349.11" stroke="#F2F2F2" stroke-width="1.4"/>
<line x1="89.5" y1="1237.14" x2="841" y2="1237.14" stroke="#F2F2F2" stroke-width="1.4"/>
<line x1="89.5" y1="1125.16" x2="841" y2="1125.16" stroke="#F2F2F2" stroke-width="1.4"/>
<line x1="89.5" y1="1013.19" x2="841" y2="1013.19" stroke="#F2F2F2" stroke-width="1.4"/>
<line x1="89.5" y1="1405.1" x2="841" y2="1405.1" stroke="#EBEBEB" stroke-width="2"/>
<line x1="89.5" y1="1293.12" x2="841" y2="1293.12" stroke="#EBEBEB" stroke-width="2"/>
<line x1="89.5" y1="1181.15" x2="841" y2="1181.15" stroke="#EBEBEB" stroke-width="2"/>
<line x1="89.5" y1="1069.17" x2="841" y2="1069.17" stroke="#EBEBEB" stroke-width="2"/>
<line x1="89.5" y1="957.2" x2="841" y2="957.2" stroke="#EBEBEB" stroke-width="2"/>
<line x1="180.97" y1="926" x2="180.97" y2="1425.5" stroke="#FFFFFF" stroke-width="7"/>
<line x1="539.23" y1="926" x2="539.23" y2="1425.5" stroke="#FFFFFF" stroke-width="7"/>
<line x1="180.97" y1="924" x2="180.97" y2="1427.5" stroke="#444" stroke-width="1.6" stroke-dasharray="1.5 0.6"/>
<line x1="539.23" y1="924" x2="539.23" y2="1427.5" stroke="#444" stroke-width="1.6" stroke-dasharray="1.5 0.6"/>
<line x1="86.5" y1="1360.31" x2="844" y2="1360.31" stroke="#444" stroke-width="1.6" stroke-dasharray="1.5 0.6"/>
<rect x="86.5" y="924" width="757.5" height="503.5" fill="none" stroke="#333" stroke-width="2"/>
<line x1="82.5" y1="1405.1" x2="86.5" y2="1405.1" stroke="#333" stroke-width="2"/>
<text x="79.5" y="1409.4" font-size="12" fill="#4d4d4d" text-anchor="end">0.0</text>
<line x1="82.5" y1="1293.12" x2="86.5" y2="1293.12" stroke="#333" stroke-width="2"/>
<text x="79.5" y="1297.42" font-size="12" fill="#4d4d4d" text-anchor="end">2.5</text>
<line x1="82.5" y1="1181.15" x2="86.5" y2="1181.15" stroke="#333" stroke-width="2"/>
<text x="79.5" y="1185.45" font-size="12" fill="#4d4d4d" text-anchor="end">5.0</text>
<line x1="82.5" y1="1069.17" x2="86.5" y2="1069.17" stroke="#333" stroke-width="2"/>
<text x="79.5" y="1073.47" font-size="12" fill="#4d4d4d" text-anchor="end">7.5</text>
<line x1="82.5" y1="957.2" x2="86.5" y2="957.2" stroke="#333" stroke-width="2"/>
<text x="79.5" y="961.5" font-size="12" fill="#4d4d4d" text-anchor="end">10.0</text>
<line x1="180.97" y1="1427.5" x2="180.97" y2="1431.5" stroke="#333" stroke-width="2"/>
<text x="180.97" y="1443" font-size="12" fill="#4d4d4d" text-anchor="middle">-1</text>
<line x1="360.1" y1="1427.5" x2="360.1" y2="1431.5" stroke="#333" stroke-width="2"/>
<text x="360.1" y="1443" font-size="12" fill="#4d4d4d" text-anchor="middle">0</text>
<line x1="539.23" y1="1427.5" x2="539.23" y2="1431.5" stroke="#333" stroke-width="2"/>
<text x="539.23" y="1443" font-size="12" fill="#4d4d4d" text-anchor="middle">1</text>
<line x1="718.36" y1="1427.5" x2="718.36" y2="1431.5" stroke="#333" stroke-width="2"/>
<text x="718.36" y="1443" font-size="12" fill="#4d4d4d" text-anchor="middle">2</text>
<text x="467" y="1469.5" font-size="17.5" fill="#222" text-anchor="middle">log<tspan font-size="12" dy="4">2</tspan><tspan dy="-4"> fold change (SMA1 vs Ctrl)</tspan></text>
<text transform="translate(48.5,1182) rotate(-90)" font-size="17.5" fill="#222" text-anchor="middle">-log<tspan font-size="12" dy="4">10</tspan><tspan dy="-4">(</tspan><tspan font-style="italic">p</tspan> value)</text>
<circle cx="312" cy="1236.6" r="5" fill="#BEBEBE"/>
<circle cx="291" cy="1283.4" r="5" fill="#BEBEBE"/>
<circle cx="430.4" cy="1281.3" r="5" fill="#BEBEBE"/>
<circle cx="456" cy="1288.5" r="5" fill="#BEBEBE"/>
<circle cx="497.5" cy="1287.5" r="5" fill="#BEBEBE"/>
<circle cx="291" cy="1354" r="5" fill="#BEBEBE"/>
<circle cx="324.3" cy="1356" r="5" fill="#BEBEBE"/>
<circle cx="452.2" cy="1346.5" r="5" fill="#BEBEBE"/>
<circle cx="411.7" cy="1359.4" r="5" fill="#BEBEBE"/>
<circle cx="329.5" cy="1374.8" r="5" fill="#BEBEBE"/>
<circle cx="336.7" cy="1381.2" r="5" fill="#BEBEBE"/>
<circle cx="342.8" cy="1391.5" r="5" fill="#BEBEBE"/>
<circle cx="339.8" cy="1403" r="5" fill="#BEBEBE"/>
<circle cx="365" cy="1390.4" r="5" fill="#BEBEBE"/>
<circle cx="374.4" cy="1384.3" r="5" fill="#BEBEBE"/>
<circle cx="386.7" cy="1376" r="5" fill="#BEBEBE"/>
<circle cx="400" cy="1369.6" r="5" fill="#BEBEBE"/>
<circle cx="384.4" cy="1394.6" r="5" fill="#BEBEBE"/>
<circle cx="403.4" cy="1405" r="5" fill="#BEBEBE"/>
<circle cx="513.6" cy="1344.5" r="5" fill="#BEBEBE"/>
<circle cx="533.2" cy="1365.4" r="5" fill="#BEBEBE"/>
<circle cx="581.1" cy="1397.7" r="5" fill="#BEBEBE"/>
<circle cx="712.2" cy="1391.4" r="5" fill="#BEBEBE"/>
<circle cx="165.6" cy="1250.2" r="5" fill="#4F86E8"/>
<circle cx="145.6" cy="1283.4" r="5" fill="#4F86E8"/>
<circle cx="121" cy="1297" r="5" fill="#4F86E8"/>
<circle cx="637.1" cy="947.7" r="5" fill="#B01B1B"/>
<circle cx="720.3" cy="1031.6" r="5" fill="#B01B1B"/>
<circle cx="811.8" cy="1160.3" r="5" fill="#B01B1B"/>
<circle cx="670.5" cy="1184.1" r="5" fill="#B01B1B"/>
<circle cx="618.7" cy="1187.5" r="5" fill="#B01B1B"/>
<circle cx="636.4" cy="1207.2" r="5" fill="#B01B1B"/>
<circle cx="580.2" cy="1233.3" r="5" fill="#B01B1B"/>
<circle cx="673.8" cy="1337.5" r="5" fill="#B01B1B"/>
<circle cx="626.9" cy="1359.7" r="5" fill="#B01B1B"/>
<text x="182.3" y="1243" font-size="14" fill="#5A8FE6" text-anchor="middle">Creatinine</text>
<text x="162.6" y="1276.3" font-size="14" fill="#5A8FE6" text-anchor="middle">Pyroglutamic acid</text>
<text x="157" y="1313" font-size="14" fill="#5A8FE6" text-anchor="middle">2-Hydroxyisovalerate</text>
<text x="653.3" y="941" font-size="14" fill="#B22222" text-anchor="middle">3-Hydroxybutyric acid</text>
<text x="703.3" y="1047" font-size="14" fill="#B22222" text-anchor="middle">Dimethylamine</text>
<text x="793.9" y="1176.5" font-size="14" fill="#B22222" text-anchor="middle">Tyrosine</text>
<text x="688.8" y="1177" font-size="14" fill="#B22222" text-anchor="middle">Xanthine</text>
<text x="586.8" y="1203" font-size="14" fill="#B22222" text-anchor="middle">Acetoacetate</text>
<text x="651.5" y="1222.5" font-size="14" fill="#B22222" text-anchor="middle">Tryptophan</text>
<text x="564.2" y="1249.5" font-size="14" fill="#B22222" text-anchor="middle">Acetone</text>
<text x="688.2" y="1331" font-size="14" fill="#B22222" text-anchor="middle">Formate</text>
<text x="642.2" y="1352.5" font-size="14" fill="#B22222" text-anchor="middle">L-Phenylalanine</text>
<polyline points="35,456.21 35.8,454.81 36.6,455.18 37.4,457.05 38.2,457.89 39,457.43 39.8,456.69 40.6,456.33 41.4,457.22 42.2,457.75 43,456.34 43.8,455.86 44.6,456.37 45.4,456.98 46.2,457.23 47,456.24 47.8,455.94 48.6,456.85 49.4,456.9 50.2,456.8 51,458.41 51.8,458.92 52.6,457.76 53.4,458.57 54.2,459.92 55,459.2 55.8,458.61 56.6,459.38 57.4,459.27 58.2,457.28 59,456.11 59.8,457.16 60.6,457.72 61.4,456.58 62.2,456.15 63,456.62 63.8,455.98 64.6,455.65 65.4,457.09 66.2,457.8 67,456.91 67.8,455.92 68.6,456.34 69.4,458.15 70.2,458.87 71,459.22 71.8,459.28 72.6,457.5 73.4,456.73 74.2,456.73 75,455.4 75.8,454.95 76.6,455.59 77.4,455.64 78.2,456.4 79,457.53 79.8,456.64 80.6,456.87 81.4,458.3 82.2,457.56 83,456.43 83.8,456.19 84.6,456.54 85.4,456.1 86.2,454.79 87,448.44 87.8,443.64 88.6,453.43 89.4,455.63 90.2,456.1 91,455.39 91.8,455.59 92.6,456.34 93.4,455.57 94.2,454.17 95,455.11 95.8,457.19 96.6,456.58 97.4,456 98.2,457.35 99,457.42 99.8,456.83 100.6,457.35 101.4,456.32 102.2,456.11 103,458.18 103.8,458.91 104.6,458.45 105.4,456.59 106.2,454.06 107,454.9 107.8,458.14 108.6,458.2 109.4,455.65 110.2,454.62 111,456.06 111.8,457.41 112.6,457.07 113.4,456.95 114.2,457.62 115,457.69 115.8,456.79 116.6,456.48 117.4,457.04 118.2,457.98 119,458.78 119.8,457.56 120.6,456.03 121.4,457.32 122.2,457.93 123,456.01 123.8,454.5 124.6,454.33 125.4,456 126.2,458.25 127,458.1 127.8,454.9 128.6,453.87 129.4,456.82 130.2,457.81 131,457.13 131.8,457.71 132.6,457.92 133.4,457.4 134.2,456.35 135,455.65 135.8,455.84 136.6,456.18 137.4,456.74 138.2,458.01 139,459.94 139.8,459.3 140.6,457.21 141.4,456.85 142.2,456.35 143,455.32 143.8,454.76 144.6,454.77 145.4,455.45 146.2,456.9 147,458.18 147.8,458.4 148.6,458.5 149.4,458.75 150.2,458.2 151,457.19 151.8,456.88 152.6,458.2 153.4,459.24 154.2,457.9 155,456.06 155.8,455.21 156.6,455.94 157.4,457.56 158.2,456.76 159,454.38 159.8,453.49 160.6,452.48 161.4,452.27 162.2,451.36 163,442.63 163.8,450.77 164.6,453.9 165.4,454.89 166.2,455.51 167,456.54 167.8,456.93 168.6,453.3 169.4,452.75 170.2,455.9 171,456.3 171.8,455.59 172.6,455.17 173.4,455.66 174.2,456.08 175,456.62 175.8,457.17 176.6,457.31 177.4,456.99 178.2,456.35 179,455.89 179.8,456.42 180.6,456.86 181.4,456.19 182.2,456.51 183,456.72 183.8,455.76 184.6,454.61 185.4,453.29 186.2,452.94 187,453.32 187.8,452.68 188.6,451.98 189.4,453.92 190.2,456.09 191,456.87 191.8,456.49 192.6,455.75 193.4,456.64 194.2,456.37 195,456.39 195.8,457.66 196.6,456.51 197.4,455.12 198.2,455.47 199,455.64 199.8,455.46 200.6,455.87 201.4,456.38 202.2,456.39 203,456.68 203.8,457.05 204.6,456.73 205.4,457.52 206.2,458.08 207,456.07 207.8,454.2 208.6,455.08 209.4,456.43 210.2,456.52 211,456.91 211.8,457.03 212.6,457.88 213.4,458.95 214.2,458.06 215,457.61 215.8,457.9 216.6,457.56 217.4,455.3 218.2,452.32 219,452.29 219.8,452.81 220.6,454.09 221.4,454.58 222.2,456.07 223,456.7 223.8,453.35 224.6,449.2 225.4,449.61 226.2,452.35 227,454.32 227.8,456.96 228.6,458.16 229.4,457.33 230.2,456.82 231,456.29 231.8,454.49 232.6,454.07 233.4,455.31 234.2,454.96 235,453.91 235.8,453.31 236.6,452.83 237.4,451.46 238.2,445.83 239,440.32 239.8,445.9 240.6,451.95 241.4,453.18 242.2,453.32 243,455.01 243.8,455.69 244.6,455.62 245.4,456.7 246.2,456.69 247,457.01 247.8,457.31 248.6,455.82 249.4,456.31 250.2,457.5 251,456.96 251.8,457.94 252.6,459.45 253.4,458.39 254.2,456.44 255,455.73 255.8,456.04 256.6,456.09 257.4,455.87 258.2,455.26 259,453.86 259.8,451.95 260.6,445.82 261.4,446.35 262.2,454.18 263,455.66 263.8,454.48 264.6,455.27 265.4,456.46 266.2,456.68 267,456.9 267.8,457.08 268.6,457.22 269.4,457.74 270.2,457.68 271,456.53 271.8,457.55 272.6,458.99 273.4,458.17 274.2,457.29 275,457.5 275.8,457.77 276.6,454.98 277.4,453.23 278.2,455.87 279,456.98 279.8,456.17 280.6,456.17 281.4,454.98 282.2,452.36 283,454.36 283.8,454.68 284.6,454.95 285.4,456.35 286.2,455.29 287,453.88 287.8,456.54 288.6,458.27 289.4,457.41 290.2,456.46 291,455.89 291.8,456.67 292.6,457.51 293.4,455.59 294.2,453.12 295,455.5 295.8,459.24 296.6,458.93 297.4,457.4 298.2,456.51 299,455.25 299.8,453.66 300.6,453.09 301.4,452.78 302.2,449.8 303,443.73 303.8,449.41 304.6,452.47 305.4,454.57 306.2,455.6 307,455.16 307.8,455.76 308.6,457.14 309.4,458.01 310.2,458.23 311,459.4 311.8,459.74 312.6,457 313.4,455.84 314.2,456.27 315,455.65 315.8,455.67 316.6,457.65 317.4,459.59 318.2,458.28 319,455.61 319.8,453.88 320.6,453.27 321.4,455.02 322.2,458.67 323,459.71 323.8,457.54 324.6,456.1 325.4,455.97 326.2,456.46 327,457.63 327.8,458.26 328.6,457.55 329.4,457.03 330.2,456.59 331,456.35 331.8,456.68 332.6,456.7 333.4,456.41 334.2,455.88 335,456.31 335.8,457.63 336.6,456.97 337.4,455.45 338.2,455.59 339,455.73 339.8,456.01" fill="none" stroke="#8a8a8a" stroke-width="1"/>
<polyline points="79.5,456.93 80,456.92 80.5,456.91 81,456.89 81.5,456.88 82,456.85 82.5,456.82 83,456.78 83.5,456.72 84,456.64 84.5,456.51 85,456.31 85.5,455.94 86,455.2 86.5,453.4 87,448 87.5,439 88,448 88.5,453.4 89,455.2 89.5,455.94 90,456.31 90.5,456.51 91,456.64 91.5,456.72 92,456.78 92.5,456.82 93,456.85 93.5,456.88 94,456.89 94.5,456.91 95,456.92" fill="none" stroke="#d98c8c" stroke-width="1.2"/>
<polyline points="155,456.92 155.5,456.91 156,456.9 156.5,456.88 157,456.86 157.5,456.84 158,456.8 158.5,456.76 159,456.69 159.5,456.6 160,456.46 160.5,456.24 161,455.84 161.5,455.07 162,453.29 162.5,448.74 163,443 163.5,448.74 164,453.29 164.5,455.07 165,455.84 165.5,456.24 166,456.46 166.5,456.6 167,456.69 167.5,456.76 168,456.8 168.5,456.84 169,456.86 169.5,456.88 170,456.9 170.5,456.91" fill="none" stroke="#c8963c" stroke-width="1.2"/>
<polyline points="161,456.96 161.5,456.96 162,456.95 162.5,456.94 163,456.93 163.5,456.92 164,456.9 164.5,456.88 165,456.85 165.5,456.8 166,456.73 166.5,456.62 167,456.42 167.5,456.03 168,455.15 168.5,452.87 169,450 169.5,452.87 170,455.15 170.5,456.03 171,456.42 171.5,456.62 172,456.73 172.5,456.8 173,456.85 173.5,456.88 174,456.9 174.5,456.92 175,456.93 175.5,456.94 176,456.95 176.5,456.96" fill="none" stroke="#d8a830" stroke-width="1.2"/>
<polyline points="179,456.5 179.5,456.44 180,456.37 180.5,456.28 181,456.17 181.5,456.04 182,455.88 182.5,455.68 183,455.43 183.5,455.11 184,454.7 184.5,454.2 185,453.59 185.5,452.88 186,452.17 186.5,451.62 187,451.4 187.5,451.62 188,452.17 188.5,452.88 189,453.59 189.5,454.2 190,454.7 190.5,455.11 191,455.43 191.5,455.68 192,455.88 192.5,456.04 193,456.17 193.5,456.28 194,456.37 194.5,456.44" fill="none" stroke="#e03030" stroke-width="1.2"/>
<polyline points="210,456.91 210.5,456.9 211,456.88 211.5,456.86 212,456.84 212.5,456.81 213,456.77 213.5,456.72 214,456.65 214.5,456.55 215,456.4 215.5,456.17 216,455.8 216.5,455.15 217,454 217.5,452.2 218,451 218.5,452.2 219,454 219.5,455.15 220,455.8 220.5,456.17 221,456.4 221.5,456.55 222,456.65 222.5,456.72 223,456.77 223.5,456.81 224,456.84 224.5,456.86 225,456.88 225.5,456.9" fill="none" stroke="#2e8b57" stroke-width="1.2"/>
<polyline points="217,456.82 217.5,456.8 218,456.77 218.5,456.74 219,456.69 219.5,456.64 220,456.56 220.5,456.47 221,456.34 221.5,456.16 222,455.9 222.5,455.5 223,454.88 223.5,453.88 224,452.28 224.5,450.18 225,449 225.5,450.18 226,452.28 226.5,453.88 227,454.88 227.5,455.5 228,455.9 228.5,456.16 229,456.34 229.5,456.47 230,456.56 230.5,456.64 231,456.69 231.5,456.74 232,456.77 232.5,456.8" fill="none" stroke="#2e8b57" stroke-width="1.2"/>
<polyline points="231,456.7 231.5,456.66 232,456.61 232.5,456.56 233,456.48 233.5,456.39 234,456.26 234.5,456.1 235,455.89 235.5,455.58 236,455.14 236.5,454.47 237,453.43 237.5,451.73 238,449.03 238.5,445.5 239,443.5 239.5,445.5 240,449.03 240.5,451.73 241,453.43 241.5,454.47 242,455.14 242.5,455.58 243,455.89 243.5,456.1 244,456.26 244.5,456.39 245,456.48 245.5,456.56 246,456.61 246.5,456.66" fill="none" stroke="#ff3030" stroke-width="1.2"/>
<polyline points="253,456.87 253.5,456.85 254,456.83 254.5,456.81 255,456.77 255.5,456.73 256,456.68 256.5,456.6 257,456.5 257.5,456.35 258,456.14 258.5,455.79 259,455.21 259.5,454.12 260,451.93 260.5,447.65 261,444 261.5,447.65 262,451.93 262.5,454.12 263,455.21 263.5,455.79 264,456.14 264.5,456.35 265,456.5 265.5,456.6 266,456.68 266.5,456.73 267,456.77 267.5,456.81 268,456.83 268.5,456.85" fill="none" stroke="#2a9080" stroke-width="1.2"/>
<polyline points="274,456.93 274.5,456.92 275,456.91 275.5,456.9 276,456.88 276.5,456.85 277,456.83 277.5,456.79 278,456.73 278.5,456.65 279,456.54 279.5,456.35 280,456.03 280.5,455.45 281,454.27 281.5,451.97 282,450 282.5,451.97 283,454.27 283.5,455.45 284,456.03 284.5,456.35 285,456.54 285.5,456.65 286,456.73 286.5,456.79 287,456.83 287.5,456.85 288,456.88 288.5,456.9 289,456.91 289.5,456.92" fill="none" stroke="#d8a830" stroke-width="1.2"/>
<polyline points="295,456.87 295.5,456.85 296,456.83 296.5,456.81 297,456.77 297.5,456.73 298,456.68 298.5,456.6 299,456.5 299.5,456.35 300,456.14 300.5,455.79 301,455.21 301.5,454.12 302,451.93 302.5,447.65 303,444 303.5,447.65 304,451.93 304.5,454.12 305,455.21 305.5,455.79 306,456.14 306.5,456.35 307,456.5 307.5,456.6 308,456.68 308.5,456.73 309,456.77 309.5,456.81 310,456.83 310.5,456.85" fill="none" stroke="#2a9080" stroke-width="1.2"/>
<line x1="60" y1="457.5" x2="330" y2="457.5" stroke="#f08080" stroke-width="0.8"/>
<line x1="341.3" y1="367" x2="341.3" y2="487.8" stroke="#666" stroke-width="1.3"/>
<line x1="34" y1="487.4" x2="341.3" y2="487.4" stroke="#666" stroke-width="1.3"/>
<line x1="341.3" y1="411.6" x2="343.5" y2="411.6" stroke="#666" stroke-width="0.8"/>
<text x="344" y="413.1" font-size="4.5" fill="#777">0.01</text>
<line x1="341.3" y1="457" x2="343.5" y2="457" stroke="#666" stroke-width="0.8"/>
<text x="344" y="458.5" font-size="4.5" fill="#777">0.00</text>
<line x1="79.2" y1="487.4" x2="79.2" y2="489.5" stroke="#666" stroke-width="0.8"/>
<text x="79.2" y="494.5" font-size="4.5" fill="#777" text-anchor="middle">8.0</text>
<line x1="145.8" y1="487.4" x2="145.8" y2="489.5" stroke="#666" stroke-width="0.8"/>
<text x="145.8" y="494.5" font-size="4.5" fill="#777" text-anchor="middle">8.0</text>
<line x1="211.5" y1="487.4" x2="211.5" y2="489.5" stroke="#666" stroke-width="0.8"/>
<text x="211.5" y="494.5" font-size="4.5" fill="#777" text-anchor="middle">8.0</text>
<line x1="277.9" y1="487.4" x2="277.9" y2="489.5" stroke="#666" stroke-width="0.8"/>
<text x="277.9" y="494.5" font-size="4.5" fill="#777" text-anchor="middle">8.0</text>
<circle cx="335.5" cy="498.6" r="2.4" fill="#1f5f5f"/>
<line x1="338" y1="498.6" x2="346" y2="498.6" stroke="#8aa" stroke-width="1"/>
<line x1="31.5" y1="743.8" x2="884.5" y2="743.8" stroke="#555" stroke-width="2"/>
<line x1="883.75" y1="367" x2="883.75" y2="744.5" stroke="#555" stroke-width="2"/>
<line x1="883.75" y1="724.5" x2="888" y2="724.5" stroke="#444" stroke-width="1.4"/>
<text x="889.5" y="727.3" font-size="8" fill="#555">0.00</text>
<line x1="883.75" y1="643.5" x2="888" y2="643.5" stroke="#444" stroke-width="1.4"/>
<text x="889.5" y="646.3" font-size="8" fill="#555">0.01</text>
<line x1="883.75" y1="562.5" x2="888" y2="562.5" stroke="#444" stroke-width="1.4"/>
<text x="889.5" y="565.3" font-size="8" fill="#555">0.02</text>
<line x1="883.75" y1="481.5" x2="888" y2="481.5" stroke="#444" stroke-width="1.4"/>
<text x="889.5" y="484.3" font-size="8" fill="#555">0.03</text>
<line x1="883.75" y1="400.5" x2="888" y2="400.5" stroke="#444" stroke-width="1.4"/>
<text x="889.5" y="403.3" font-size="8" fill="#555">0.04</text>
<line x1="115.2" y1="743.8" x2="115.2" y2="748" stroke="#444" stroke-width="1.6"/>
<text x="115.2" y="757.5" font-size="8.5" fill="#444" text-anchor="middle" font-weight="bold">4.0</text>
<line x1="231.25" y1="743.8" x2="231.25" y2="748" stroke="#444" stroke-width="1.6"/>
<text x="231.25" y="757.5" font-size="8.5" fill="#444" text-anchor="middle" font-weight="bold">3.5</text>
<line x1="347.3" y1="743.8" x2="347.3" y2="748" stroke="#444" stroke-width="1.6"/>
<text x="347.3" y="757.5" font-size="8.5" fill="#444" text-anchor="middle" font-weight="bold">3.0</text>
<line x1="463.35" y1="743.8" x2="463.35" y2="748" stroke="#444" stroke-width="1.6"/>
<text x="463.35" y="757.5" font-size="8.5" fill="#444" text-anchor="middle" font-weight="bold">2.5</text>
<line x1="579.4" y1="743.8" x2="579.4" y2="748" stroke="#444" stroke-width="1.6"/>
<text x="579.4" y="757.5" font-size="8.5" fill="#444" text-anchor="middle" font-weight="bold">2.0</text>
<line x1="695.45" y1="743.8" x2="695.45" y2="748" stroke="#444" stroke-width="1.6"/>
<text x="695.45" y="757.5" font-size="8.5" fill="#444" text-anchor="middle" font-weight="bold">1.5</text>
<line x1="811.5" y1="743.8" x2="811.5" y2="748" stroke="#444" stroke-width="1.6"/>
<text x="811.5" y="757.5" font-size="8.5" fill="#444" text-anchor="middle" font-weight="bold">1.0</text>
<path d="M133.5,724.5 L133.5,720.11 L134,719.45 L134.5,718.61 L135,717.5 L135.5,715.98 L136,713.78 L136.5,710.22 L137,703.68 L137.5,690.98 L138,668.19 L138.5,635.42 L139,609.84 L139.5,620.38 L140,651.02 L140.5,674.65 L141,685.13 L141.5,682.86 L142,666.82 L142.5,635.17 L143,595.13 L143.5,580.89 L144,612.69 L144.5,653.71 L145,682.12 L145.5,697.74 L146,705.53 L146.5,709.49 L147,711.68 L147.5,712.89 L148,713.42 L148.5,713.33 L149,712.53 L149.5,710.54 L150,706.2 L150.5,697.5 L151,682.71 L151.5,664.47 L152,657.2 L152.5,669.38 L153,685.05 L153.5,694.47 L154,696.69 L154.5,691.63 L155,676.73 L155.5,647.62 L156,604.83 L156.5,571.67 L157,587.21 L157.5,629.93 L158,663.26 L158.5,679.13 L159,680.08 L159.5,671.2 L160,663.24 L160.5,670.6 L161,686.65 L161.5,699.58 L162,707.27 L162.5,711.25 L163,713.2 L163.5,714.13 L164,714.44 L164.5,714.24 L165,713.46 L165.5,711.78 L166,708.31 L166.5,701.16 L167,687.67 L167.5,666.91 L168,647.3 L168.5,649.62 L169,670.12 L169.5,688.61 L170,699.33 L170.5,703.58 L171,703.15 L171.5,697.98 L172,686.43 L172.5,667.92 L173,650.11 L173.5,651.68 L174,669.16 L174.5,684.15 L175,690.73 L175.5,688.43 L176,676.29 L176.5,652.87 L177,622.61 L177.5,607.48 L178,618.34 L178.5,625.48 L179,610 L179.5,578.05 L180,567.13 L180.5,600.13 L181,640.91 L181.5,667.45 L182,678.64 L182.5,676.88 L183,661.35 L183.5,628.91 L184,583.55 L184.5,557.2 L185,584.03 L185.5,629.56 L186,661.2 L186.5,673.8 L187,670.09 L187.5,655.15 L188,642.75 L188.5,652.66 L189,675.2 L189.5,693.52 L190,704.59 L190.5,710.53 L191,713.77 L191.5,715.76 L192,717.13 L192.5,718.14 L193,718.91 L193.5,719.52 L194,720.01 L194.5,720.42 L195,720.75 L195.5,721.03 L196,721.27 L196.5,721.47 L197,721.65 L197.5,721.8 L198,721.93 L198.5,722.05 L199,722.15 L199.5,722.24 L200,722.32 L200.5,722.39 L201,722.45 L201.5,722.5 L202,722.55 L202.5,722.59 L203,722.62 L203.5,722.65 L204,722.67 L204.5,722.69 L205,722.71 L205.5,722.72 L206,722.72 L206.5,722.72 L207,722.72 L207.5,722.71 L208,722.7 L208.5,722.68 L209,722.66 L209.5,722.63 L210,722.6 L210.5,722.56 L211,722.52 L211.5,722.47 L212,722.41 L212.5,722.35 L213,722.27 L213.5,722.18 L214,722.08 L214.5,721.97 L215,721.84 L215.5,721.69 L216,721.51 L216.5,721.3 L217,721.05 L217.5,720.76 L218,720.4 L218.5,719.96 L219,719.4 L219.5,718.68 L220,717.74 L220.5,716.43 L221,714.52 L221.5,711.36 L222,705.46 L222.5,694.06 L223,674.27 L223.5,647.78 L224,632 L224.5,645.64 L225,669.56 L225.5,685.56 L226,690.28 L226.5,684.1 L227,668.16 L227.5,649.29 L228,647.15 L228.5,665.47 L229,684.57 L229.5,696.39 L230,701.65 L230.5,702.39 L231,699.25 L231.5,690.96 L232,675.58 L232.5,654.42 L233,640.6 L233.5,647.9 L234,660.17 L234.5,660.22 L235,640.79 L235.5,600.27 L236,553.29 L236.5,545.92 L237,586.43 L237.5,626.76 L238,644.73 L238.5,636.87 L239,604.36 L239.5,558.8 L240,542.01 L240.5,578.07 L241,622.92 L241.5,648.81 L242,652.06 L242.5,635.35 L243,607.38 L243.5,593.63 L244,606.83 L244.5,617.51 L245,611.79 L245.5,608 L246,629.65 L246.5,659.86 L247,681.72 L247.5,693.98 L248,699.85 L248.5,702.22 L249,702.54 L249.5,701.11 L250,697.26 L250.5,688.79 L251,671.18 L251.5,638.8 L252,591.82 L252.5,554.97 L253,569.85 L253.5,612.89 L254,643.64 L254.5,650.83 L255,633.22 L255.5,594.16 L256,555.18 L256.5,562.97 L257,609.89 L257.5,652.18 L258,677.22 L258.5,687.62 L259,687.3 L259.5,678.41 L260,665.1 L260.5,661.19 L261,674.77 L261.5,691.68 L262,703.5 L262.5,710.24 L263,713.84 L263.5,715.91 L264,717.26 L264.5,718.23 L265,718.97 L265.5,719.54 L266,720 L266.5,720.38 L267,720.69 L267.5,720.95 L268,721.16 L268.5,721.35 L269,721.51 L269.5,721.64 L270,721.76 L270.5,721.85 L271,721.94 L271.5,722 L272,722.06 L272.5,722.1 L273,722.13 L273.5,722.14 L274,722.15 L274.5,722.14 L275,722.12 L275.5,722.08 L276,722.02 L276.5,721.94 L277,721.83 L277.5,721.68 L278,721.48 L278.5,721.2 L279,720.76 L279.5,720.01 L280,718.6 L280.5,716.06 L281,712.21 L281.5,708.54 L282,708.7 L282.5,712.01 L283,714.85 L283.5,716.07 L284,715.66 L284.5,713.65 L285,710.16 L285.5,706.54 L286,705.87 L286.5,707.44 L287,707.9 L287.5,705.53 L288,698.59 L288.5,684.11 L289,659.4 L289.5,628.84 L290,615.97 L290.5,634.25 L291,656.24 L291.5,663.12 L292,649.43 L292.5,615.28 L293,574.82 L293.5,570.01 L294,608.75 L294.5,648.6 L295,671.28 L295.5,676.2 L296,666.15 L296.5,646.64 L297,635.6 L297.5,651.14 L298,676.23 L298.5,694.97 L299,705.86 L299.5,711.59 L300,714.73 L300.5,716.68 L301,718.03 L301.5,719.02 L302,719.78 L302.5,720.38 L302.5,724.5Z" fill="#FDE9EF" stroke="none" stroke-width="1"/>
<path d="M726,724.5 L726,723.21 L726.25,723.06 L726.5,722.88 L726.75,722.69 L727,722.47 L727.25,722.23 L727.5,721.96 L727.75,721.66 L728,721.33 L728.25,720.96 L728.5,720.55 L728.75,720.1 L729,719.59 L729.25,719.03 L729.5,718.4 L729.75,717.7 L730,716.93 L730.25,716.06 L730.5,715.1 L730.75,714.02 L731,712.82 L731.25,711.47 L731.5,709.97 L731.75,708.28 L732,706.38 L732.25,704.25 L732.5,701.84 L732.75,699.12 L733,696.04 L733.25,692.54 L733.5,688.55 L733.75,683.99 L734,678.78 L734.25,672.78 L734.5,665.88 L734.75,657.89 L735,648.65 L735.25,637.91 L735.5,625.45 L735.75,610.97 L736,594.22 L736.25,574.95 L736.5,553.04 L736.75,528.6 L737,502.12 L737.25,474.71 L737.5,448.24 L737.75,425.33 L738,408.96 L738.25,401.71 L738.5,404.86 L738.75,417.83 L739,438.48 L739.25,463.88 L739.5,491.18 L739.75,518.21 L740,543.55 L740.25,566.51 L740.5,586.82 L740.75,604.56 L741,619.91 L741.25,633.15 L741.5,644.54 L741.75,654.36 L742,662.82 L742.25,670.14 L742.5,676.48 L742.75,681.99 L743,686.8 L743.25,691 L743.5,694.69 L743.75,697.93 L744,700.79 L744.25,703.32 L744.5,705.56 L744.75,707.55 L745,709.32 L745.25,710.89 L745.5,712.3 L745.75,713.56 L746,714.68 L746.25,715.69 L746.5,716.59 L746.75,717.4 L747,718.13 L747.25,718.79 L747.5,719.37 L747.75,719.9 L748,720.38 L748.25,720.81 L748.5,721.19 L748.75,721.54 L749,721.85 L749.25,722.13 L749.5,722.38 L749.75,722.6 L750,722.81 L750.25,722.99 L750.5,723.15 L750.75,723.3 L751,724.5Z" fill="#DDEBD7" stroke="none" stroke-width="1"/>
<path d="M84,724.5 L84,722.71 L84.25,722.52 L84.5,722.3 L84.75,722.03 L85,721.7 L85.25,721.28 L85.5,720.73 L85.75,719.97 L86,718.85 L86.25,717.16 L86.5,714.67 L86.75,711.15 L87,706.61 L87.25,701.65 L87.5,697.92 L87.75,697.29 L88,699.34 L88.25,701.63 L88.5,702.08 L88.75,699.27 L89,692.04 L89.25,679.82 L89.5,663.84 L89.75,649.95 L90,648.42 L90.25,660.78 L90.5,677.34 L90.75,691.12 L91,700.44 L91.25,705.81 L91.5,708.25 L91.75,708.46 L92,706.53 L92.25,701.84 L92.5,693.41 L92.75,680.52 L93,664.21 L93.25,650.2 L93.5,648.63 L93.75,660.98 L94,677.44 L94.25,690.98 L94.5,699.74 L94.75,704.09 L95,704.97 L95.25,703.4 L95.5,700.49 L95.75,698.11 L96,698.52 L96.25,702.12 L96.5,706.98 L96.75,711.45 L97,714.91 L97.25,717.37 L97.5,719.02 L97.75,720.11 L98,724.5Z" fill="#CFE3C8" stroke="none" stroke-width="1"/>
<polyline points="32,717.97 32.5,718.24 33,718.2 33.5,717.73 34,717.4 34.5,717.59 35,718.09 35.5,718.35 36,718.01 36.5,717.7 37,717.93 37.5,718.65 38,718.88 38.5,718.7 39,718.78 39.5,719.03 40,719.71 40.5,719.91 41,719.81 41.5,719.96 42,719.72 42.5,719.6 43,719.65 43.5,719.63 44,719.62 44.5,719.89 45,720.12 45.5,720.6 46,720.83 46.5,720.84 47,720.91 47.5,720.8 48,720.79 48.5,720.87 49,721.14 49.5,721.46 50,721.76 50.5,721.7 51,721.8 51.5,721.42 52,721 52.5,721.35 53,721.48 53.5,722.08 54,722.21 54.5,721.92 55,722.35 55.5,722.47 56,722.64 56.5,722.38 57,722.19 57.5,722.18 58,722.46 58.5,722.8 59,722.92 59.5,722.84 60,722.42 60.5,721.81 61,721.51 61.5,721.71 62,721.9 62.5,722.57 63,722.94 63.5,723.02 64,723.15 64.5,723.11 65,723.3 65.5,723.49 66,723.52 66.5,723.7 67,723.8 67.5,723.91 68,724.06 68.5,723.93 69,724.13 69.5,724.4 70,724.66 70.5,724.6 71,724.15 71.5,723.96 72,724.06 72.5,724.17 73,724.09 73.5,724.04 74,723.73 74.5,723.73 75,723.36 75.5,722.92 76,722.61 76.5,721.82 77,720.69 77.5,719.52 78,718.32 78.5,717.23 79,715.85 79.5,714.18 80,713.08 80.5,713.28 81,714.73 81.5,716.55 82,718.28 82.5,719.39 83,720.15 83.5,720.51 84,720.27 84.5,719.94 85,719.79 85.5,719.03 86,717.46 86.5,713.46 87,705.25 87.5,696.9 88,698.47 88.5,701.33 89,691.76 89.5,663.61 90,647.79 90.5,676.45 91,699.31 91.5,706.81 92,705.32 92.5,692.23 93,663.32 93.5,648.21 94,677.08 94.5,699.46 95,704.39 95.5,699.59 96,697.38 96.5,705.64 97,713.36 97.5,717.02 98,718.58 98.5,719.3 99,719.27 99.5,719.09 100,718.74 100.5,718.09 101,717.44 101.5,716.11 102,714.06 102.5,711.73 103,709.33 103.5,708.48 104,709.78 104.5,711.73 105,713.9 105.5,715.99 106,717.49 106.5,719.2 107,720.66 107.5,721.54 108,722.43 108.5,722.31 109,722.13 109.5,722.28 110,722.53 110.5,722.95 111,723.04 111.5,723.03 112,722.71 112.5,722.29 113,722.22 113.5,722.64 114,722.93 114.5,722.97 115,722.7 115.5,722.65 116,722.05 116.5,720.99 117,720.12 117.5,718.98 118,717.91 118.5,716.91 119,715.61 119.5,714.75 120,714.07 120.5,713.82 121,714.72 121.5,715.91 122,716.64 122.5,716.58 123,716.55 123.5,716.61 124,715.94 124.5,715.04 125,713.63 125.5,712.48 126,712.16 126.5,711.84 127,712.31 127.5,713.3 128,713.92 128.5,713.94 129,712.75 129.5,711.06 130,709.62 130.5,708.27 131,706.91 131.5,705.71 132,704.88 132.5,703.8 133,702.58 133.5,701.66 134,703.02 134.5,705.69 135,707.94 135.5,709.28 136,708.88 136.5,706.4 137,700.21 137.5,687.51 138,665.06 138.5,632.83 139,607.8 139.5,618.74 140,649.88 140.5,673.93 141,684.48 141.5,681.63 142,665.26 142.5,633.43 143,593.3 143.5,579.55 144,611.26 144.5,653.03 145,681.92 145.5,697.47 146,705.68 146.5,709.72 147,711.94 147.5,713.05 148,713.24 148.5,713.23 149,712.77 149.5,710.54 150,705.79 150.5,696.99 151,682.33 151.5,664.37 152,656.92 152.5,668.78 153,684.15 153.5,693.67 154,696.47 154.5,691.82 155,676.98 155.5,647.63 156,604.69 156.5,571.87 157,587.69 157.5,630.41 158,663.5 158.5,679.16 159,680.08 159.5,671.01 160,662.73 160.5,669.77 161,685.55 161.5,698.34 162,706.31 162.5,710.65 163,712.85 163.5,713.93 164,714.09 164.5,713.64 165,712.97 165.5,711.72 166,708.42 166.5,701.29 167,687.32 167.5,666.52 168,646.94 168.5,649.01 169,669.46 169.5,687.95 170,699.1 170.5,703.5 171,703.08 171.5,698.11 172,686.41 172.5,667.72 173,649.73 173.5,651.18 174,669.37 174.5,684.48 175,691.09 175.5,688.66 176,676.11 176.5,652.94 177,622.52 177.5,607.38 178,618.4 178.5,625.69 179,610.35 179.5,578 180,566.85 180.5,600.04 181,640.86 181.5,667.58 182,678.36 182.5,676.28 183,660.98 183.5,628.63 184,583.46 184.5,556.78 185,583.33 185.5,628.59 186,659.87 186.5,672.42 187,668.99 187.5,654.73 188,643.07 188.5,653.03 189,675.38 189.5,693.62 190,704.29 190.5,710.4 191,713.77 191.5,715.14 192,715.76 192.5,715.67 193,715.93 193.5,716.19 194,715.96 194.5,715.35 195,714.51 195.5,712.93 196,710.37 196.5,707.59 197,706.08 197.5,707.01 198,709.05 198.5,710.46 199,710.94 199.5,709.97 200,707.22 200.5,704.24 201,702.34 201.5,703.44 202,706.17 202.5,708.26 203,709.48 203.5,708.63 204,705.62 204.5,701.54 205,699.05 205.5,701.15 206,705.07 206.5,707.03 207,706.17 207.5,702.41 208,697.43 208.5,695.06 209,697.72 209.5,702.58 210,706.09 210.5,707.3 211,706.22 211.5,704.11 212,703.25 212.5,705.26 213,709.13 213.5,712.73 214,715.42 214.5,717.09 215,718.65 215.5,720.17 216,720.68 216.5,720.48 217,719.43 217.5,718.56 218,718.35 218.5,718.23 219,718.42 219.5,717.94 220,717.15 220.5,715.74 221,713.6 221.5,710.53 222,704.4 222.5,693.17 223,673.61 223.5,647.51 224,632.05 224.5,645.28 225,668.97 225.5,684.58 226,689.13 226.5,683.03 227,666.93 227.5,648.51 228,646.65 228.5,664.85 229,684 229.5,695.75 230,701.39 230.5,702.39 231,699.3 231.5,690.73 232,675.16 232.5,654.3 233,640.23 233.5,647.45 234,659.3 234.5,659.07 235,640.11 235.5,599.92 236,552.97 236.5,545.42 237,585.56 237.5,625.78 238,644.07 238.5,636.57 239,604.06 239.5,558.11 240,541.12 240.5,577.39 241,622.4 241.5,648.27 242,651.19 242.5,634.7 243,607.25 243.5,593.86 244,607.07 244.5,617.77 245,611.83 245.5,607.77 246,629.17 246.5,659.35 247,681.62 247.5,693.71 248,699.72 248.5,701.94 249,702.21 249.5,700.94 250,696.71 250.5,688.34 251,670.57 251.5,637.89 252,590.92 252.5,553.68 253,568.47 253.5,611.27 254,642.35 254.5,650.24 255,632.79 255.5,593.57 256,554.15 256.5,561.69 257,608.95 257.5,651.4 258,676.64 258.5,687.03 259,686.46 259.5,677.55 260,663.92 260.5,659.44 261,672.62 261.5,689.29 262,700.69 262.5,707.02 263,709.09 263.5,709.5 264,708.85 264.5,706.77 265,703.38 265.5,698.63 266,693.66 266.5,690.31 267,690.91 267.5,695.01 268,700.34 268.5,705.31 269,709.22 269.5,712.41 270,715.25 270.5,717.1 271,718.53 271.5,719.38 272,719.96 272.5,720.45 273,720.55 273.5,720.81 274,720.74 274.5,720.72 275,720.76 275.5,720.53 276,720.9 276.5,721.48 277,721.68 277.5,721.46 278,720.35 278.5,719.5 279,719.08 279.5,718.85 280,717.88 280.5,715.39 281,711.79 281.5,708.32 282,708.83 282.5,712.15 283,715.26 283.5,716.59 284,716.14 284.5,713.92 285,709.83 285.5,706.13 286,705.65 286.5,707.25 287,707.82 287.5,705.67 288,698.63 288.5,683.89 289,659.19 289.5,628.95 290,616.76 290.5,634.97 291,656.36 291.5,662.79 292,649.13 292.5,615.62 293,575.6 293.5,570.88 294,609.3 294.5,649.13 295,671.84 295.5,677.08 296,666.96 296.5,646.9 297,635.33 297.5,650.34 298,675.1 298.5,693.63 299,704.98 299.5,711.32 300,714.64 300.5,716.57 301,717.59 301.5,718.99 302,720.57 302.5,721.27 303,721.41 303.5,721.25 304,721.39 304.5,722.23 305,722.59 305.5,722.45 306,721.93 306.5,721.6 307,721.95 307.5,722.68 308,722.98 308.5,722.6 309,722.49 309.5,722.47 310,722.9 310.5,723.35 311,723.87 311.5,724.31 312,724.24 312.5,724.14 313,723.96 313.5,724.73 314,724.81 314.5,724.24 315,723.71 315.5,723.26 316,723.75 316.5,723.95 317,724.03 317.5,724.01 318,723.92 318.5,723.87 319,723.47 319.5,723.57 320,723.68 320.5,723.96 321,724.43 321.5,724.76 322,724.86 322.5,724.76 323,724.55 323.5,724.11 324,724.3 324.5,724.11 325,724 325.5,723.8 326,723.26 326.5,723.26 327,723.14 327.5,723.17 328,723 328.5,722.45 329,721.62 329.5,720.43 330,718.92 330.5,717.86 331,718.66 331.5,719.64 332,721.09 332.5,722.19 333,722.9 333.5,723.66 334,723.96 334.5,724.26 335,724.21 335.5,724.17 336,723.8 336.5,723.28 337,723.3 337.5,723.14 338,723.23 338.5,723.12 339,722.04 339.5,721.11 340,719.82 340.5,717.96 341,715.67 341.5,711.59 342,707.76 342.5,707.24 343,710.56 343.5,715.15 344,718.26 344.5,720.36 345,721.58 345.5,722.7 346,723.6 346.5,724 347,724.6 347.5,724.42 348,724.56 348.5,724.9 349,724.59 349.5,724.3 350,723.91 350.5,723.95 351,723.87 351.5,723.84 352,723.97 352.5,724.43 353,724.69 353.5,724.15 354,723.45 354.5,723.18 355,723.38 355.5,723.57 356,724.19 356.5,724.57 357,724.85 357.5,724.75 358,724.13 358.5,723.82 359,723.53 359.5,723.68 360,723.94 360.5,723.8 361,724 361.5,724.18 362,724.06 362.5,723.8 363,723.63 363.5,724.06 364,724.96 364.5,725.4 365,724.94 365.5,724.46 366,724.15 366.5,724.35 367,724.75 367.5,724.69 368,724.54 368.5,724.61 369,724.52 369.5,724.1 370,723.91 370.5,723.99 371,724.09 371.5,724.52 372,724.61 372.5,724.76 373,724.86 373.5,724.55 374,724.6 374.5,724.57 375,724.78 375.5,725.11 376,725.54 376.5,725.54 377,725.4 377.5,724.93 378,724.42 378.5,724.17 379,723.83 379.5,724.11 380,724.36 380.5,724.62 381,724.85 381.5,724.62 382,724.64 382.5,724.12 383,723.71 383.5,723.91 384,723.87 384.5,723.99 385,724.2 385.5,724.48 386,724.99 386.5,725.17 387,724.7 387.5,724.37 388,724.32 388.5,724.57 389,724.47 389.5,724.06 390,723.72 390.5,723.99 391,724.34 391.5,724.46 392,724.27 392.5,723.7 393,723.52 393.5,723.71 394,724.23 394.5,724.48 395,724.36 395.5,723.87 396,723.75 396.5,724.25 397,724.41 397.5,724.22 398,723.86 398.5,723.87 399,724.25 399.5,724.73 400,724.69 400.5,724.21 401,723.59 401.5,723.26 402,723.46 402.5,723.88 403,724.28 403.5,724.36 404,724.32 404.5,724.33 405,724.53 405.5,724.45 406,724.47 406.5,724.58 407,724.4 407.5,724.52 408,724.04 408.5,723.62 409,723.61 409.5,723.82 410,724.38 410.5,724.35 411,724.33 411.5,724.06 412,724.4 412.5,724.66 413,724.41 413.5,724.2 414,723.76 414.5,723.67 415,723.93 415.5,724.26 416,724.43 416.5,724.28 417,723.78 417.5,723.57 418,723.65 418.5,723.79 419,724.03 419.5,724.68 420,725.23 420.5,725.55 421,725.22 421.5,724.78 422,724.63 422.5,724.17 423,723.72 423.5,723.19 424,722.47 424.5,722.09 425,721.58 425.5,720.3 426,718.22 426.5,714 427,707.6 427.5,703.64 428,706.66 428.5,712.25 429,716.35 429.5,718.31 430,718.76 430.5,717.94 431,714.67 431.5,707.65 432,697.76 432.5,691.57 433,697.06 433.5,707.05 434,714.11 434.5,718.14 435,720.2 435.5,721.09 436,721.77 436.5,722.2 437,722.57 437.5,722.81 438,723.24 438.5,723.26 439,723.02 439.5,722.5 440,722.53 440.5,722.76 441,723.22 441.5,723.55 442,723.46 442.5,723.66 443,723.98 443.5,724.44 444,724.43 444.5,723.85 445,723.2 445.5,723.21 446,723.6 446.5,723.99 447,724.01 447.5,723.68 448,723.38 448.5,723.19 449,723.2 449.5,723.64 450,723.93 450.5,724.08 451,723.67 451.5,722.82 452,722.24 452.5,721.07 453,719.26 453.5,714.97 454,707.27 454.5,697.49 455,691.62 455.5,697.81 456,707.54 456.5,714.18 457,717.74 457.5,719 458,718.92 458.5,718.06 459,715.54 459.5,710.33 460,702.54 460.5,697.65 461,702.89 461.5,711.14 462,716.38 462.5,719.1 463,720.59 463.5,722.12 464,723.56 464.5,724.28 465,724.71 465.5,724.45 466,724.3 466.5,723.85 467,722.9 467.5,722.69 468,722.63 468.5,722.98 469,723.67 469.5,723.94 470,724.14 470.5,723.97 471,723.78 471.5,723.88 472,724.32 472.5,724.84 473,724.72 473.5,724.19 474,723.65 474.5,723.11 475,723.02 475.5,722.94 476,722.92 476.5,722.84 477,723.04 477.5,723 478,723.09 478.5,723.13 479,722.48 479.5,722.12 480,720.82 480.5,719.78 481,719.29 481.5,718.56 482,718.02 482.5,716.69 483,715.14 483.5,714.19 484,714.03 484.5,714.72 485,715.47 485.5,716.46 486,717.55 486.5,718.5 487,719.23 487.5,719.68 488,720.28 488.5,721.4 489,721.83 489.5,721.9 490,722.08 490.5,722.21 491,722.66 491.5,722.08 492,721.08 492.5,720.49 493,719.46 493.5,718.02 494,715.54 494.5,711.63 495,705.35 495.5,697.42 496,692.61 496.5,695.98 497,703.13 497.5,708.08 498,709.97 498.5,709.02 499,705.87 499.5,701.49 500,699.67 500.5,702.43 501,707.9 501.5,712.65 502,715.62 502.5,717.39 503,717.72 503.5,717.18 504,716.56 504.5,716.11 505,715.44 505.5,714.92 506,714.12 506.5,714.23 507,714.91 507.5,715.34 508,715.51 508.5,715.2 509,714.68 509.5,714.2 510,714.64 510.5,715.55 511,716.98 511.5,718.31 512,719.24 512.5,720.21 513,720.7 513.5,720.79 514,720.4 514.5,719.82 515,719.14 515.5,717.86 516,715.05 516.5,710.41 517,704.51 517.5,701.35 518,704.27 518.5,709.77 519,714.45 519.5,717.81 520,719.81 520.5,721.11 521,721.93 521.5,722.19 522,722.63 522.5,723.24 523,723.4 523.5,723.14 524,722.54 524.5,722.06 525,722.13 525.5,721.69 526,720.78 526.5,718.83 527,715.65 527.5,710.41 528,702.23 528.5,694.51 529,694.49 529.5,702.8 530,711.41 530.5,716.76 531,719.77 531.5,721.04 532,721.78 532.5,722.3 533,722.17 533.5,722.36 534,722.74 534.5,723.14 535,724 535.5,724.52 536,724.59 536.5,724.44 537,723.69 537.5,723.36 538,723.51 538.5,723.42 539,723.55 539.5,723.19 540,723.32 540.5,723.58 541,723.62 541.5,723.66 542,723.2 542.5,723.03 543,723.1 543.5,723.41 544,723.58 544.5,723.65 545,723.36 545.5,722.93 546,722.89 546.5,723.07 547,723.43 547.5,723.45 548,723.16 548.5,722.44 549,721.86 549.5,721.15 550,719.99 550.5,718.25 551,715.3 551.5,712.34 552,710.95 552.5,712.58 553,715.57 553.5,718.46 554,720.65 554.5,721.8 555,722.24 555.5,722.25 556,722.34 556.5,723.16 557,723.61 557.5,723.64 558,723.93 558.5,724.15 559,724.65 559.5,724.62 560,724.13 560.5,723.69 561,723.46 561.5,723.35 562,723.65 562.5,723.97 563,724.33 563.5,724.18 564,723.86 564.5,723.57 565,723.44 565.5,723.11 566,722.87 566.5,723.07 567,723.33 567.5,723.75 568,723.22 568.5,723.04 569,723.23 569.5,723.59 570,723.87 570.5,723.77 571,723.47 571.5,723.21 572,723.14 572.5,723.01 573,723.35 573.5,723.52 574,723.53 574.5,723.09 575,722.28 575.5,721.82 576,721.55 576.5,722 577,722.16 577.5,721.55 578,720.61 578.5,719.34 579,718.16 579.5,717.1 580,716.1 580.5,714.77 581,714.12 581.5,713.73 582,713.69 582.5,714.12 583,714.32 583.5,714.84 584,715.53 584.5,716.06 585,716.24 585.5,716.3 586,716.08 586.5,715.97 587,715.8 587.5,715.13 588,713.86 588.5,712.26 589,710.68 589.5,709.61 590,709.17 590.5,709.6 591,710.39 591.5,711.3 592,711.87 592.5,712.25 593,712.91 593.5,713.36 594,713.48 594.5,713.18 595,712.28 595.5,710.86 596,709.03 596.5,707.5 597,706.96 597.5,707 598,708.01 598.5,708.9 599,709.85 599.5,709.95 600,707.79 600.5,703.1 601,695.65 601.5,687.51 602,683.53 602.5,688.45 603,697.6 603.5,705.88 604,712 604.5,715.83 605,718.32 605.5,720.2 606,721.29 606.5,721.9 607,722.21 607.5,721.9 608,721.84 608.5,721.89 609,722.52 609.5,723.1 610,723 610.5,723 611,722.9 611.5,723.34 612,723.72 612.5,723.75 613,724.19 613.5,724.39 614,724.74 614.5,724.44 615,723.77 615.5,723.43 616,723.22 616.5,723.58 617,723.77 617.5,723.78 618,723.89 618.5,724 619,724.35 619.5,724.72 620,724.89 620.5,724.76 621,724.46 621.5,723.88 622,723.64 622.5,723.75 623,723.82 623.5,723.94 624,723.41 624.5,723.02 625,723.23 625.5,723.72 626,723.99 626.5,723.98 627,723.67 627.5,723.68 628,723.61 628.5,723.3 629,723.09 629.5,723.09 630,723.85 630.5,724.67 631,724.97 631.5,724.69 632,724.75 632.5,724.89 633,724.84 633.5,724.38 634,723.77 634.5,723.71 635,723.95 635.5,724.13 636,723.89 636.5,723.67 637,723.64 637.5,723.93 638,724.6 638.5,725.16 639,724.83 639.5,724 640,723.35 640.5,722.94 641,723.37 641.5,723.78 642,723.68 642.5,723.58 643,723.3 643.5,723.56 644,724.03 644.5,724.09 645,723.81 645.5,723.12 646,722.61 646.5,722.26 647,721.87 647.5,721.49 648,721.21 648.5,721.34 649,721.72 649.5,721.96 650,722.2 650.5,722.6 651,723.22 651.5,723.68 652,723.63 652.5,723.24 653,723.16 653.5,723.15 654,723.41 654.5,723.77 655,724.03 655.5,724.27 656,723.96 656.5,723.79 657,723.86 657.5,724.43 658,724.78 658.5,724.79 659,724.63 659.5,724.5 660,724.74 660.5,724.83 661,724.7 661.5,724.27 662,723.97 662.5,723.88 663,724.07 663.5,724.31 664,724.62 664.5,724.63 665,724.38 665.5,723.89 666,723.69 666.5,723.96 667,724.38 667.5,724.65 668,724.55 668.5,724.37 669,724.18 669.5,724.1 670,724.18 670.5,724.23 671,724.27 671.5,724.46 672,724.45 672.5,724.46 673,724.6 673.5,724.95 674,725.11 674.5,725.04 675,725.02 675.5,725.28 676,725.62 676.5,725.43 677,724.8 677.5,724.18 678,723.74 678.5,723.25 679,723.43 679.5,723.89 680,724.14 680.5,724.6 681,724.71 681.5,724.91 682,724.76 682.5,724.03 683,724 683.5,724.55 684,725.02 684.5,725.2 685,724.73 685.5,724.43 686,724 686.5,723.77 687,723.82 687.5,723.98 688,724.09 688.5,724.2 689,724.28 689.5,724.51 690,724.96 690.5,724.69 691,724.47 691.5,723.85 692,723.5 692.5,723.63 693,723.77 693.5,723.93 694,724.06 694.5,723.9 695,723.98 695.5,723.79 696,723.73 696.5,723.81 697,723.67 697.5,723.86 698,723.55 698.5,723.52 699,723.7 699.5,723.91 700,723.96 700.5,724.16 701,723.84 701.5,723.35 702,723.1 702.5,722.47 703,722.14 703.5,721.92 704,721.59 704.5,721.91 705,722.29 705.5,722.23 706,722.46 706.5,722.82 707,723.14 707.5,723.37 708,723.48 708.5,723.44 709,723.89 709.5,724.15 710,724.36 710.5,724.65 711,724.43 711.5,724.41 712,723.8 712.5,723.37 713,723.29 713.5,723.19 714,723.38 714.5,723.82 715,724.21 715.5,724.48 716,724.55 716.5,724.2 717,724.36 717.5,724.41 718,724.61 718.5,725.16 719,725.4 719.5,725.32 720,724.51 720.5,723.98 721,724.04 721.5,724.08 722,724.18 722.5,723.64 723,723.35 723.5,723.84 724,724.27 724.5,724.75 725,724.74 725.5,724.35 726,724.05 726.5,723.51 727,722.89 727.5,722.13 728,721.22 728.5,720.25 729,719.16 729.5,718.45 730,717.59 730.5,716.15 731,713.76 731.5,710.64 732,706.86 732.5,702.16 733,695.84 733.5,687.77 734,678.02 734.5,665.2 735,648.24 735.5,625.07 736,593.66 736.5,552.79 737,501.93 737.5,448.06 738,408.72 738.5,404.59 739,438.63 739.5,491.64 740,544.16 740.5,587.09 741,619.95 741.5,644.42 742,662.46 742.5,675.97 743,686.44 743.5,694.35 744,700.79 744.5,705.68 745,709.17 745.5,712.25 746,714.1 746.5,715.53 747,716.66 747.5,717.64 748,718.82 748.5,720.14 749,721.08 749.5,721.61 750,722.06 750.5,722.23 751,722.56 751.5,723.17 752,723.33 752.5,723.12 753,722.15 753.5,720.9 754,719.98 754.5,718.66 755,717.1 755.5,715.37 756,714.71 756.5,716.09 757,718.13 757.5,719.57 758,720.95 758.5,721.99 759,722.68 759.5,723 760,722.57 760.5,722.82 761,723.24 761.5,723.16 762,722.68 762.5,721.84 763,721.47 763.5,720.93 764,720.14 764.5,718.37 765,714.74 765.5,708.01 766,698.55 766.5,691.1 767,692.79 767.5,698.35 768,699.66 768.5,695.94 769,690.94 769.5,692.98 770,701.1 770.5,707.42 771,710.77 771.5,712.44 772,712.97 772.5,715.11 773,717.29 773.5,719.15 774,721 774.5,721.9 775,722.61 775.5,723.32 776,723.64 776.5,723.98 777,723.58 777.5,723.37 778,723.73 778.5,723.92 779,724.7 779.5,724.64 780,724.6 780.5,724.48 781,723.91 781.5,723.97 782,723.69 782.5,723.7 783,723.88 783.5,723.92 784,723.94 784.5,724.08 785,724.26 785.5,724.6 786,724.73 786.5,725.13 787,725.42 787.5,725.4 788,725.42 788.5,725.07 789,724.98 789.5,724.64 790,724.72 790.5,725.41 791,726.41 791.5,727.15 792,727.06 792.5,726.7 793,726.3 793.5,726.19 794,726.3 794.5,726.47 795,726.88 795.5,727.01 796,726.54 796.5,726.26 797,726.29 797.5,727.05 798,727.61 798.5,727.45 799,727.18 799.5,726.39 800,725.99 800.5,726.01 801,726.3 801.5,726.69 802,726.45 802.5,726.12 803,725.81 803.5,725.44 804,725.42 804.5,725.72 805,726.6 805.5,726.75 806,725.95 806.5,725.19 807,724.95 807.5,725.15 808,725.16 808.5,725.19 809,725.38 809.5,725.45 810,725.03 810.5,724.23 811,723.55 811.5,723.42 812,723.13 812.5,722.93 813,722.56 813.5,722.19 814,722.09 814.5,722.06 815,722.3 815.5,722.55 816,722.97 816.5,723.15 817,723.5 817.5,723.7 818,723.91 818.5,723.95 819,724.01 819.5,723.95 820,723.92 820.5,723.83 821,723.44 821.5,722.67 822,722.38 822.5,721.91 823,721.29 823.5,720.43 824,719.39 824.5,718.63 825,718.57 825.5,718.95 826,719.38 826.5,720.39 827,721.24 827.5,722.41 828,723.15 828.5,723.64 829,724.17 829.5,724.77 830,724.86 830.5,724.36 831,723.66 831.5,723.34 832,723.52 832.5,723.58 833,723.55 833.5,723.65 834,723.85 834.5,724.02 835,723.65 835.5,722.97 836,722.04 836.5,720.77 837,720.29 837.5,720.3 838,720.8 838.5,722.07 839,723.21 839.5,724.05 840,724.56 840.5,724.19 841,723.87 841.5,724 842,723.85 842.5,723.64 843,723.39 843.5,723.48 844,723.95 844.5,724.54 845,724.4 845.5,724.1 846,724.18 846.5,724.3 847,724.49 847.5,724.42 848,724.3 848.5,724.36 849,724.28 849.5,723.95 850,723.82 850.5,723.96 851,724.18 851.5,724.54 852,724.42 852.5,724.19 853,724.1 853.5,724.49 854,724.51 854.5,724.08 855,723.48 855.5,723.08 856,723.55 856.5,723.33 857,723.45 857.5,723.46 858,723.68 858.5,724.09 859,723.94 859.5,724.31 860,724.41 860.5,724.67 861,724.4 861.5,723.92 862,724 862.5,724.42 863,725.05 863.5,725.01 864,724.77 864.5,724.12 865,723.97 865.5,724.03 866,724.31 866.5,724.83 867,724.88 867.5,724.52 868,723.94 868.5,723.77 869,723.68 869.5,723.56 870,723.48 870.5,723.48 871,723.57 871.5,723.89 872,723.84 872.5,723.65 873,723.73 873.5,723.37 874,723.01 874.5,722.3 875,721.85 875.5,721.49 876,721.08 876.5,721.21 877,721.51 877.5,722.34 878,722.99 878.5,723.12 879,723.45 879.5,723.97 880,724.37 880.5,724.21 881,723.92 881.5,723.96 882,724.25" fill="none" stroke="#3a3a3a" stroke-width="1.1" stroke-linejoin="round"/>
<polyline points="114.5,724.16 115,724.11 115.5,724.06 116,723.99 116.5,723.89 117,723.77 117.5,723.58 118,723.3 118.5,722.84 119,722.14 119.5,721.12 120,719.82 120.5,718.52 121,717.84 121.5,718.2 122,719.11 122.5,719.85 123,720.03 123.5,719.57 124,718.55 124.5,717.39 125,716.91 125.5,717.66 126,719.15 126.5,720.64 127,721.8 127.5,722.6 128,723.12 128.5,723.44 129,723.64 129.5,723.78 130,723.87 130.5,723.94 131,723.99 131.5,724.03 132,724.06 132.5,724.08 133,724.1 133.5,724.1 134,724.1" fill="none" stroke="#1010F0" stroke-width="1.5" stroke-linejoin="round"/>
<polyline points="133.5,724.1 134,724.1 134.5,724.1 135,724.09 135.5,724.07 136,724.04 136.5,724 137,723.94 137.5,723.87 138,723.76 138.5,723.61 139,723.36 139.5,722.95 140,722.22 140.5,721.05 141,719.37 141.5,717.52 142,716.58 142.5,717.41 143,719.14 143.5,720.67 144,721.66 144.5,722.11 145,722.09 145.5,721.57 146,720.44 146.5,718.6 147,716.23 147.5,714.38 148,714.68 148.5,716.86 149,719.28 149.5,721.11 150,722.28 150.5,722.97 151,723.37 151.5,723.62 152,723.78 152.5,723.9 153,723.99 153.5,724.06 154,724.11 154.5,724.16" fill="none" stroke="#1010F0" stroke-width="1.5" stroke-linejoin="round"/>
<polyline points="182,724.19 182.5,724.14 183,724.08 183.5,724 184,723.88 184.5,723.71 185,723.43 185.5,722.97 186,722.25 186.5,721.21 187,719.88 187.5,718.56 188,717.96 188.5,718.56 189,719.88 189.5,721.21 190,722.25 190.5,722.97 191,723.43 191.5,723.71 192,723.89 192.5,724 193,724.08 193.5,724.14 194,724.19" fill="none" stroke="#1010F0" stroke-width="1.5" stroke-linejoin="round"/>
<polyline points="236.5,724.16 237,724.13 237.5,724.1 238,724.06 238.5,724.02 239,723.96 239.5,723.9 240,723.82 240.5,723.73 241,723.61 241.5,723.45 242,723.24 242.5,722.92 243,722.43 243.5,721.67 244,720.51 244.5,718.84 245,716.69 245.5,714.37 246,712.77 246.5,712.92 247,714.67 247.5,716.9 248,718.85 248.5,720.24 249,721.07 249.5,721.39 250,721.25 250.5,720.71 251,719.86 251.5,718.97 252,718.59 252.5,719.11 253,720.17 253.5,721.22 254,722.04 254.5,722.59 255,722.94 255.5,723.14 256,723.25 256.5,723.3 257,723.32 257.5,723.31 258,723.28 258.5,723.22 259,723.14 259.5,723.02 260,722.88 260.5,722.69 261,722.45 261.5,722.14 262,721.72 262.5,721.12 263,720.23 263.5,718.87 264,716.77 264.5,713.66 265,709.3 265.5,703.74 266,697.7 266.5,693.15 267,692.66 267.5,696.57 268,702.51 268.5,708.24 269,712.85 269.5,716.19 270,718.45 270.5,719.93 271,720.88 271.5,721.51 272,721.94 272.5,722.26 273,722.48 273.5,722.65 274,722.77 274.5,722.84 275,722.88 275.5,722.87 276,722.82 276.5,722.72 277,722.54 277.5,722.23 278,721.71 278.5,720.79 279,719.26 279.5,716.89 280,713.7 280.5,710.37 281,708.77 281.5,710.31 282,713.57 282.5,716.69 283,718.97 283.5,720.37 284,721.11 284.5,721.35 285,721.19 285.5,720.56 286,719.29 286.5,717.21 287,714.34 287.5,711.32 288,709.93 288.5,711.45 289,714.6 289.5,717.62 290,719.87 290.5,721.34 291,722.24 291.5,722.78 292,723.13 292.5,723.36 293,723.53 293.5,723.66 294,723.77 294.5,723.85 295,723.92 295.5,723.97 296,724.02 296.5,724.06 297,724.1 297.5,724.13 298,724.16" fill="none" stroke="#1010F0" stroke-width="1.5" stroke-linejoin="round"/>
<polyline points="333,724.17 333.5,724.11 334,724.02 334.5,723.89 335,723.67 335.5,723.32 336,722.77 336.5,721.97 337,720.94 337.5,719.93 338,719.47 338.5,719.93 339,720.94 339.5,721.97 340,722.77 340.5,723.32 341,723.68 341.5,723.89 342,724.03 342.5,724.12 343,724.18" fill="none" stroke="#1010F0" stroke-width="1.5" stroke-linejoin="round"/>
<polyline points="510,724.16 510.5,724.11 511,724.05 511.5,723.97 512,723.88 512.5,723.75 513,723.59 513.5,723.36 514,723.04 514.5,722.55 515,721.69 515.5,720.06 516,716.97 516.5,711.79 517,705.17 517.5,701.5 518,705.17 518.5,711.79 519,716.97 519.5,720.06 520,721.69 520.5,722.55 521,723.04 521.5,723.36 522,723.59 522.5,723.75 523,723.88 523.5,723.97 524,724.05 524.5,724.11 525,724.16" fill="none" stroke="#1010F0" stroke-width="1.5" stroke-linejoin="round"/>
<polyline points="93,724.16 93.5,724.12 94,724.08 94.5,724.04 95,723.98 95.5,723.92 96,723.85 96.5,723.76 97,723.65 97.5,723.51 98,723.33 98.5,723.09 99,722.76 99.5,722.28 100,721.58 100.5,720.6 101,719.25 101.5,717.5 102,715.38 102.5,713.13 103,711.25 103.5,710.5 104,711.25 104.5,713.13 105,715.38 105.5,717.5 106,719.25 106.5,720.6 107,721.58 107.5,722.28 108,722.76 108.5,723.09 109,723.33 109.5,723.51 110,723.65 110.5,723.76 111,723.85 111.5,723.92 112,723.98 112.5,724.04 113,724.08 113.5,724.12 114,724.15" fill="none" stroke="#F07A30" stroke-width="1.4" stroke-linejoin="round"/>
<polyline points="204.5,724.2 205,724.15 205.5,724.07 206,723.96 206.5,723.8 207,723.54 207.5,723.12 208,722.46 208.5,721.49 209,720.26 209.5,719.05 210,718.49 210.5,719.05 211,720.26 211.5,721.49 212,722.46 212.5,723.12 213,723.54 213.5,723.8 214,723.96 214.5,724.07 215,724.15 215.5,724.2" fill="none" stroke="#F07A30" stroke-width="1.4" stroke-linejoin="round"/>
<polyline points="419,724.16 419.5,724.12 420,724.08 420.5,724.03 421,723.97 421.5,723.9 422,723.81 422.5,723.7 423,723.56 423.5,723.36 424,723.1 424.5,722.7 425,722.06 425.5,720.83 426,718.37 426.5,713.85 427,707.49 427.5,703.59 428,707.15 428.5,713.13 429,717.18 429.5,719.01 430,719.21 430.5,717.95 431,714.47 431.5,707.61 432,697.78 432.5,691.89 433,697.98 433.5,708.04 434,715.18 434.5,719.06 435,720.95 435.5,721.93 436,722.52 436.5,722.91 437,723.19 437.5,723.39 438,723.54 438.5,723.66 439,723.75 439.5,723.82 440,723.87 440.5,723.92 441,723.95 441.5,723.98 442,724 442.5,724.01 443,724.02 443.5,724.02 444,724.02 444.5,724.02 445,724.01 445.5,723.99 446,723.97 446.5,723.94 447,723.9 447.5,723.86 448,723.8 448.5,723.73 449,723.64 449.5,723.52 450,723.36 450.5,723.16 451,722.88 451.5,722.49 452,721.9 452.5,720.91 453,719.01 453.5,715.13 454,707.99 454.5,697.93 455,691.83 455.5,697.71 456,707.55 456.5,714.42 457,717.93 457.5,719.32 458,719.47 458.5,718.47 459,715.61 459.5,709.9 460,701.66 460.5,696.74 461,701.92 461.5,710.44 462,716.49 462.5,719.78 463,721.4 463.5,722.25 464,722.76 464.5,723.1 465,723.35 465.5,723.53 466,723.67 466.5,723.79 467,723.87 467.5,723.94 468,724 468.5,724.05 469,724.1 469.5,724.13 470,724.16" fill="none" stroke="#F07A30" stroke-width="1.4" stroke-linejoin="round"/>
<polyline points="520,724.15 520.5,724.11 521,724.06 521.5,724 522,723.92 522.5,723.83 523,723.72 523.5,723.57 524,723.38 524.5,723.12 525,722.76 525.5,722.23 526,721.37 526.5,719.79 527,716.73 527.5,711.22 528,702.94 528.5,694.88 529,694.88 529.5,702.94 530,711.22 530.5,716.73 531,719.79 531.5,721.37 532,722.24 532.5,722.77 533,723.13 533.5,723.38 534,723.58 534.5,723.72 535,723.84 535.5,723.93 536,724 536.5,724.06 537,724.11 537.5,724.15" fill="none" stroke="#F07A30" stroke-width="1.4" stroke-linejoin="round"/>
<polyline points="695.5,724.22 696,724.14 696.5,724.04 697,723.86 697.5,723.58 698,723.14 698.5,722.5 699,721.68 699.5,720.87 700,720.5 700.5,720.87 701,721.68 701.5,722.5 702,723.14 702.5,723.58 703,723.86 703.5,724.04 704,724.14 704.5,724.22" fill="none" stroke="#F07A30" stroke-width="1.4" stroke-linejoin="round"/>
<polyline points="96,724.16 96.5,724.12 97,724.07 97.5,724.01 98,723.93 98.5,723.83 99,723.69 99.5,723.5 100,723.22 100.5,722.83 101,722.27 101.5,721.5 102,720.49 102.5,719.28 103,718 103.5,716.92 104,716.49 104.5,716.92 105,718 105.5,719.28 106,720.49 106.5,721.5 107,722.27 107.5,722.83 108,723.22 108.5,723.5 109,723.69 109.5,723.83 110,723.93 110.5,724.01 111,724.07 111.5,724.12 112,724.16" fill="none" stroke="#FFD21F" stroke-width="1.3" stroke-linejoin="round"/>
<polyline points="195,724.15 195.5,724.13 196,724.09 196.5,724.06 197,724.01 197.5,723.96 198,723.9 198.5,723.83 199,723.74 199.5,723.64 200,723.5 200.5,723.33 201,723.11 201.5,722.8 202,722.34 202.5,721.59 203,720.27 203.5,718.04 204,714.64 204.5,710.58 205,708.08 205.5,709.03 206,710.99 206.5,711.1 207,708.52 207.5,704.2 208,701.77 208.5,704.33 209,708.83 209.5,711.71 210,712.05 210.5,710.62 211,709.93 211.5,712.15 212,715.67 212.5,718.6 213,720.53 213.5,721.65 214,722.29 214.5,722.67 215,722.9 215.5,723.06 216,723.17 216.5,723.23 217,723.25 217.5,723.24 218,723.2 218.5,723.11 219,722.97 219.5,722.74 220,722.38 220.5,721.79 221,720.81 221.5,719.26 222,717 222.5,714.11 223,711.24 223.5,709.91 224,711.14 224.5,713.89 225,716.62 225.5,718.67 226,719.87 226.5,720.3 227,720.03 227.5,719.14 228,717.75 228.5,716.31 229,715.71 229.5,716.56 230,718.27 230.5,719.98 231,721.32 231.5,722.25 232,722.85 232.5,723.23 233,723.48 233.5,723.65 234,723.77 234.5,723.87 235,723.94 235.5,724 236,724.05 236.5,724.1 237,724.13 237.5,724.16" fill="none" stroke="#FFD21F" stroke-width="1.3" stroke-linejoin="round"/>
<polyline points="169,724.2 169.5,724.13 170,724.02 170.5,723.87 171,723.66 171.5,723.38 172,723 172.5,722.55 173,722.06 173.5,721.66 174,721.5 174.5,721.66 175,722.06 175.5,722.55 176,723 176.5,723.38 177,723.66 177.5,723.87 178,724.02 178.5,724.13 179,724.2" fill="none" stroke="#20B0E0" stroke-width="1.2" stroke-linejoin="round"/>
<polyline points="331.5,724.21 332,724.15 332.5,724.08 333,723.97 333.5,723.81 334,723.55 334.5,723.13 335,722.46 335.5,721.5 336,720.27 336.5,719.05 337,718.5 337.5,719.05 338,720.27 338.5,721.5 339,722.46 339.5,723.13 340,723.55 340.5,723.81 341,723.97 341.5,724.08 342,724.15 342.5,724.21" fill="none" stroke="#20B0E0" stroke-width="1.2" stroke-linejoin="round"/>
<polyline points="583.5,724.16 584,724.1 584.5,724.02 585,723.93 585.5,723.8 586,723.65 586.5,723.47 587,723.25 587.5,723 588,722.74 588.5,722.47 589,722.23 589.5,722.06 590,722 590.5,722.06 591,722.23 591.5,722.47 592,722.74 592.5,723 593,723.25 593.5,723.47 594,723.65 594.5,723.8 595,723.93 595.5,724.02 596,724.1 596.5,724.16" fill="none" stroke="#20B0E0" stroke-width="1.2" stroke-linejoin="round"/>
<polyline points="698,724.2 698.5,724.13 699,724.02 699.5,723.87 700,723.66 700.5,723.37 701,723 701.5,722.55 702,722.06 702.5,721.66 703,721.5 703.5,721.66 704,722.06 704.5,722.55 705,723 705.5,723.37 706,723.66 706.5,723.87 707,724.02 707.5,724.13 708,724.2" fill="none" stroke="#20B0E0" stroke-width="1.2" stroke-linejoin="round"/>
<polyline points="53,724.19 53.5,724.12 54,724.02 54.5,723.87 55,723.66 55.5,723.37 56,723 56.5,722.54 57,722.06 57.5,721.66 58,721.5 58.5,721.66 59,722.06 59.5,722.54 60,723 60.5,723.37 61,723.66 61.5,723.87 62,724.02 62.5,724.12 63,724.19" fill="none" stroke="#E020E0" stroke-width="1.2" stroke-linejoin="round"/>
<polyline points="112.5,724.18 113,724.12 113.5,724.05 114,723.94 114.5,723.77 115,723.51 115.5,723.09 116,722.42 116.5,721.46 117,720.23 117.5,719.01 118,718.45 118.5,719 119,720.21 119.5,721.44 120,722.39 120.5,723.05 121,723.47 121.5,723.72 122,723.87 122.5,723.97 123,724.03 123.5,724.07 124,724.09 124.5,724.1 125,724.1" fill="none" stroke="#E020E0" stroke-width="1.2" stroke-linejoin="round"/>
<polyline points="124,724.09 124.5,724.1 125,724.1 125.5,724.08 126,724.05 126.5,724 127,723.92 127.5,723.8 128,723.6 128.5,723.25 129,722.59 129.5,721.43 130,719.65 130.5,717.54 131,716.44 131.5,717.55 132,719.66 132.5,721.46 133,722.62 133.5,723.29 134,723.66 134.5,723.87 135,724 135.5,724.1 136,724.16 136.5,724.22" fill="none" stroke="#E020E0" stroke-width="1.2" stroke-linejoin="round"/>
<polyline points="65.5,724.14 66,724.1 66.5,724.06 67,724.02 67.5,723.96 68,723.9 68.5,723.82 69,723.71 69.5,723.57 70,723.37 70.5,723.09 71,722.7 71.5,722.18 72,721.5 72.5,720.69 73,719.81 73.5,719.05 74,718.68 74.5,718.8 75,719.28 75.5,719.83 76,720.2 76.5,720.28 77,719.99 77.5,719.28 78,718.15 78.5,716.66 79,715.01 79.5,713.62 80,713.09 80.5,713.73 81,715.24 81.5,717.04 82,718.73 82.5,720.13 83,721.21 83.5,721.99 84,722.55 84.5,722.94 85,723.21 85.5,723.41 86,723.55 86.5,723.67 87,723.76 87.5,723.83 88,723.9 88.5,723.95 89,723.99 89.5,724.03 90,724.06 90.5,724.09 91,724.11 91.5,724.13" fill="none" stroke="#F01818" stroke-width="1.6" stroke-linejoin="round"/>
<polyline points="107,724.13 107.5,724.11 108,724.09 108.5,724.07 109,724.05 109.5,724.02 110,723.99 110.5,723.95 111,723.91 111.5,723.87 112,723.81 112.5,723.75 113,723.68 113.5,723.59 114,723.48 114.5,723.34 115,723.16 115.5,722.91 116,722.57 116.5,722.09 117,721.41 117.5,720.5 118,719.31 118.5,717.88 119,716.35 119.5,715.05 120,714.45 120.5,714.79 121,715.8 121.5,717 122,718 122.5,718.63 123,718.79 123.5,718.48 124,717.71 124.5,716.54 125,715.17 125.5,713.94 126,713.34 126.5,713.6 127,714.43 127.5,715.31 128,715.85 128.5,715.82 129,715.17 129.5,713.92 130,712.24 130.5,710.49 131,709.15 131.5,708.36 132,707.72 132.5,706.72 133,705.63 133.5,705.78 134,708.19 134.5,711.85 135,715.31 135.5,717.97 136,719.81 136.5,721.01 137,721.78 137.5,722.29 138,722.64 138.5,722.91 139,723.11 139.5,723.28 140,723.41 140.5,723.52 141,723.62 141.5,723.7 142,723.77 142.5,723.83 143,723.88 143.5,723.92 144,723.96 144.5,724 145,724.03 145.5,724.06 146,724.08 146.5,724.11 147,724.13" fill="none" stroke="#F01818" stroke-width="1.6" stroke-linejoin="round"/>
<polyline points="202,724.13 202.5,724.11 203,724.09 203.5,724.08 204,724.06 204.5,724.04 205,724.02 205.5,723.99 206,723.97 206.5,723.94 207,723.91 207.5,723.88 208,723.85 208.5,723.81 209,723.77 209.5,723.72 210,723.67 210.5,723.62 211,723.55 211.5,723.49 212,723.41 212.5,723.32 213,723.23 213.5,723.12 214,722.99 214.5,722.85 215,722.68 215.5,722.49 216,722.26 216.5,722 217,721.67 217.5,721.29 218,720.81 218.5,720.21 219,719.46 219.5,718.47 220,717.14 220.5,715.22 221,712.23 221.5,707.19 222,698.55 222.5,684.59 223,664.67 223.5,642.58 224,630.92 224.5,639.68 225,658.05 225.5,672.28 226,677.11 226.5,671.83 227,658.7 227.5,645.31 228,645.14 228.5,660.63 229,679.77 229.5,694.97 230,705.04 230.5,711.1 231,714.65 231.5,716.83 232,718.29 232.5,719.34 233,720.13 233.5,720.75 234,721.25 234.5,721.65 235,721.98 235.5,722.25 236,722.48 236.5,722.68 237,722.84 237.5,722.99 238,723.12 238.5,723.23 239,723.33 239.5,723.41 240,723.49 240.5,723.56 241,723.62 241.5,723.68 242,723.73 242.5,723.77 243,723.81 243.5,723.85 244,723.89 244.5,723.92 245,723.95 245.5,723.98 246,724 246.5,724.03 247,724.05 247.5,724.07 248,724.09 248.5,724.1 249,724.12" fill="none" stroke="#F01818" stroke-width="1.6" stroke-linejoin="round"/>
<polyline points="325.5,724.16 326,724.1 326.5,724.03 327,723.93 327.5,723.76 328,723.48 328.5,722.98 329,722.09 329.5,720.74 330,719.15 330.5,718.31 331,719.12 331.5,720.69 332,722.01 332.5,722.87 333,723.34 333.5,723.58 334,723.7 334.5,723.76 335,723.78 335.5,723.77 336,723.74 336.5,723.67 337,723.58 337.5,723.44 338,723.25 338.5,722.97 339,722.54 339.5,721.81 340,720.53 340.5,718.34 341,714.92 341.5,710.39 342,706.31 342.5,705.83 343,709.46 343.5,714.1 344,717.79 344.5,720.22 345,721.65 345.5,722.48 346,722.96 346.5,723.28 347,723.5 347.5,723.67 348,723.79 348.5,723.89 349,723.97 349.5,724.04 350,724.09 350.5,724.13 351,724.17" fill="none" stroke="#F01818" stroke-width="1.6" stroke-linejoin="round"/>
<polyline points="469,724.14 469.5,724.12 470,724.1 470.5,724.07 471,724.05 471.5,724.02 472,723.99 472.5,723.95 473,723.91 473.5,723.87 474,723.82 474.5,723.76 475,723.69 475.5,723.61 476,723.52 476.5,723.4 477,723.26 477.5,723.08 478,722.85 478.5,722.57 479,722.2 479.5,721.75 480,721.19 480.5,720.51 481,719.71 481.5,718.81 482,717.84 482.5,716.85 483,715.97 483.5,715.34 484,715.1 484.5,715.29 485,715.87 485.5,716.7 486,717.62 486.5,718.54 487,719.37 487.5,720.1 488,720.69 488.5,721.16 489,721.51 489.5,721.75 490,721.89 490.5,721.94 491,721.89 491.5,721.74 492,721.48 492.5,721.04 493,720.3 493.5,719 494,716.61 494.5,712.43 495,706.03 495.5,698.44 496,694.3 496.5,697.72 497,704.41 497.5,709.47 498,711.45 498.5,710.37 499,706.77 499.5,702.12 500,699.87 500.5,702.71 501,708.11 501.5,712.9 502,716.12 502.5,717.87 503,718.54 503.5,718.49 504,717.91 504.5,716.96 505,715.81 505.5,714.77 506,714.26 506.5,714.47 507,715.15 507.5,715.86 508,716.26 508.5,716.27 509,715.96 509.5,715.64 510,715.69 510.5,716.38 511,717.54 511.5,718.83 512,720.02 512.5,721 513,721.75 513.5,722.31 514,722.72 514.5,723.01 515,723.22 515.5,723.38 516,723.5 516.5,723.6 517,723.68 517.5,723.75 518,723.81 518.5,723.86 519,723.9 519.5,723.94 520,723.97 520.5,724 521,724.03 521.5,724.05 522,724.07 522.5,724.09 523,724.1 523.5,724.12" fill="none" stroke="#F01818" stroke-width="1.6" stroke-linejoin="round"/>
<polyline points="542,724.13 542.5,724.11 543,724.09 543.5,724.07 544,724.04 544.5,724 545,723.95 545.5,723.9 546,723.83 546.5,723.75 547,723.64 547.5,723.49 548,723.29 548.5,722.99 549,722.5 549.5,721.69 550,720.34 550.5,718.28 551,715.51 551.5,712.63 552,711.27 552.5,712.63 553,715.5 553.5,718.26 554,720.31 554.5,721.65 555,722.46 555.5,722.93 556,723.23 556.5,723.42 557,723.56 557.5,723.66 558,723.74 558.5,723.8 559,723.84 559.5,723.88 560,723.9 560.5,723.92 561,723.94 561.5,723.95 562,723.95 562.5,723.96 563,723.96 563.5,723.95 564,723.95 564.5,723.94 565,723.93 565.5,723.92 566,723.9 566.5,723.89 567,723.87 567.5,723.85 568,723.82 568.5,723.79 569,723.76 569.5,723.72 570,723.68 570.5,723.64 571,723.59 571.5,723.53 572,723.47 572.5,723.39 573,723.31 573.5,723.21 574,723.09 574.5,722.94 575,722.77 575.5,722.55 576,722.28 576.5,721.93 577,721.5 577.5,720.97 578,720.31 578.5,719.52 579,718.59 579.5,717.54 580,716.4 580.5,715.24 581,714.19 581.5,713.4 582,713.01 582.5,713.09 583,713.56 583.5,714.26 584,715.01 584.5,715.67 585,716.14 585.5,716.37 586,716.33 586.5,716 587,715.39 587.5,714.53 588,713.48 588.5,712.34 589,711.27 589.5,710.48 590,710.14 590.5,710.33 591,710.97 591.5,711.85 592,712.76 592.5,713.51 593,713.97 593.5,714.06 594,713.73 594.5,712.96 595,711.8 595.5,710.36 596,708.85 596.5,707.65 597,707.12 597.5,707.45 598,708.4 598.5,709.52 599,710.25 599.5,709.96 600,707.91 600.5,703.32 601,695.97 601.5,687.55 602,683.59 602.5,688.57 603,698.1 603.5,706.69 604,712.73 604.5,716.47 605,718.66 605.5,719.97 606,720.81 606.5,721.41 607,721.85 607.5,722.2 608,722.47 608.5,722.7 609,722.88 609.5,723.04 610,723.17 610.5,723.28 611,723.38 611.5,723.46 612,723.53 612.5,723.6 613,723.66 613.5,723.71 614,723.76 614.5,723.8 615,723.84 615.5,723.87 616,723.9 616.5,723.93 617,723.96 617.5,723.98 618,724 618.5,724.02 619,724.04 619.5,724.06 620,724.08 620.5,724.09 621,724.11 621.5,724.12" fill="none" stroke="#F01818" stroke-width="1.6" stroke-linejoin="round"/>
<polyline points="639.5,724.13 640,724.11 640.5,724.07 641,724.03 641.5,723.97 642,723.9 642.5,723.81 643,723.7 643.5,723.55 644,723.37 644.5,723.15 645,722.89 645.5,722.6 646,722.28 646.5,721.96 647,721.68 647.5,721.48 648,721.4 648.5,721.48 649,721.68 649.5,721.97 650,722.29 650.5,722.61 651,722.91 651.5,723.17 652,723.4 652.5,723.58 653,723.73 653.5,723.85 654,723.94 654.5,724.02 655,724.07 655.5,724.12 656,724.16" fill="none" stroke="#F01818" stroke-width="1.6" stroke-linejoin="round"/>
<polyline points="749,724.15 749.5,724.12 750,724.07 750.5,724.02 751,723.95 751.5,723.87 752,723.75 752.5,723.57 753,723.3 753.5,722.86 754,722.18 754.5,721.19 755,719.94 755.5,718.7 756,718.11 756.5,718.63 757,719.81 757.5,721 758,721.91 758.5,722.51 759,722.86 759.5,723.03 760,723.09 760.5,723.07 761,722.98 761.5,722.84 762,722.62 762.5,722.31 763,721.86 763.5,721.18 764,720.06 764.5,718.02 765,714.2 765.5,707.67 766,698.64 766.5,691.49 767,692.88 767.5,698.26 768,699.94 768.5,696.27 769,691.32 769.5,693.62 770,702.46 770.5,710.71 771,716.09 771.5,719.09 772,720.7 772.5,721.62 773,722.22 773.5,722.64 774,722.95 774.5,723.19 775,723.37 775.5,723.52 776,723.64 776.5,723.74 777,723.82 777.5,723.89 778,723.94 778.5,723.99 779,724.04 779.5,724.08 780,724.11 780.5,724.14" fill="none" stroke="#F01818" stroke-width="1.6" stroke-linejoin="round"/>
<polyline points="818,724.15 818.5,724.11 819,724.05 819.5,723.97 820,723.87 820.5,723.72 821,723.52 821.5,723.22 822,722.8 822.5,722.22 823,721.47 823.5,720.57 824,719.6 824.5,718.8 825,718.47 825.5,718.8 826,719.6 826.5,720.57 827,721.48 827.5,722.23 828,722.81 828.5,723.23 829,723.52 829.5,723.73 830,723.87 830.5,723.98 831,724.05 831.5,724.11 832,724.16" fill="none" stroke="#F01818" stroke-width="1.6" stroke-linejoin="round"/>
<polyline points="115,723.93 115.5,723.91 116,723.89 116.5,723.88 117,723.86 117.5,723.84 118,723.82 118.5,723.79 119,723.77 119.5,723.75 120,723.72 120.5,723.69 121,723.66 121.5,723.63 122,723.59 122.5,723.56 123,723.52 123.5,723.47 124,723.43 124.5,723.38 125,723.32 125.5,723.26 126,723.2 126.5,723.12 127,723.04 127.5,722.96 128,722.86 128.5,722.75 129,722.63 129.5,722.49 130,722.33 130.5,722.15 131,721.94 131.5,721.69 132,721.4 132.5,721.05 133,720.63 133.5,720.11 134,719.45 134.5,718.61 135,717.5 135.5,715.98 136,713.78 136.5,710.22 137,703.68 137.5,690.98 138,668.19 138.5,635.42 139,609.84 139.5,620.38 140,651.02 140.5,674.65 141,685.13 141.5,682.86 142,666.82 142.5,635.17 143,595.13 143.5,580.89 144,612.69 144.5,653.71 145,682.12 145.5,697.74 146,705.53 146.5,709.49 147,711.68 147.5,712.89 148,713.42 148.5,713.33 149,712.53 149.5,710.54 150,706.2 150.5,697.5 151,682.71 151.5,664.47 152,657.2 152.5,669.38 153,685.05 153.5,694.47 154,696.69 154.5,691.63 155,676.73 155.5,647.62 156,604.83 156.5,571.67 157,587.21 157.5,629.93 158,663.26 158.5,679.13 159,680.08 159.5,671.2 160,663.24 160.5,670.6 161,686.65 161.5,699.58 162,707.27 162.5,711.25 163,713.2 163.5,714.13 164,714.44 164.5,714.24 165,713.46 165.5,711.78 166,708.31 166.5,701.16 167,687.67 167.5,666.91 168,647.3 168.5,649.62 169,670.12 169.5,688.61 170,699.33 170.5,703.58 171,703.15 171.5,697.98 172,686.43 172.5,667.92 173,650.11 173.5,651.68 174,669.16 174.5,684.15 175,690.73 175.5,688.43 176,676.29 176.5,652.87 177,622.61 177.5,607.48 178,618.34 178.5,625.48 179,610 179.5,578.05 180,567.13 180.5,600.13 181,640.91 181.5,667.45 182,678.64 182.5,676.88 183,661.35 183.5,628.91 184,583.55 184.5,557.2 185,584.03 185.5,629.56 186,661.2 186.5,673.8 187,670.09 187.5,655.15 188,642.75 188.5,652.66 189,675.2 189.5,693.52 190,704.59 190.5,710.53 191,713.77 191.5,715.76 192,717.13 192.5,718.14 193,718.91 193.5,719.52 194,720.01 194.5,720.42 195,720.75 195.5,721.03 196,721.27 196.5,721.47 197,721.65 197.5,721.8 198,721.93 198.5,722.05 199,722.15 199.5,722.24 200,722.32 200.5,722.39 201,722.45 201.5,722.5 202,722.55 202.5,722.59 203,722.62 203.5,722.65 204,722.67 204.5,722.69 205,722.71 205.5,722.72 206,722.72 206.5,722.72 207,722.72 207.5,722.71 208,722.7 208.5,722.68 209,722.66 209.5,722.63 210,722.6 210.5,722.56 211,722.52 211.5,722.47 212,722.41 212.5,722.35 213,722.27 213.5,722.18 214,722.08 214.5,721.97 215,721.84 215.5,721.69 216,721.51 216.5,721.3 217,721.05 217.5,720.76 218,720.4 218.5,719.96 219,719.4 219.5,718.68 220,717.74 220.5,716.43 221,714.52 221.5,711.36 222,705.46 222.5,694.06 223,674.27 223.5,647.78 224,632 224.5,645.64 225,669.56 225.5,685.56 226,690.28 226.5,684.1 227,668.16 227.5,649.29 228,647.15 228.5,665.47 229,684.57 229.5,696.39 230,701.65 230.5,702.39 231,699.25 231.5,690.96 232,675.58 232.5,654.42 233,640.6 233.5,647.9 234,660.17 234.5,660.22 235,640.79 235.5,600.27 236,553.29 236.5,545.92 237,586.43 237.5,626.76 238,644.73 238.5,636.87 239,604.36 239.5,558.8 240,542.01 240.5,578.07 241,622.92 241.5,648.81 242,652.06 242.5,635.35 243,607.38 243.5,593.63 244,606.83 244.5,617.51 245,611.79 245.5,608 246,629.65 246.5,659.86 247,681.72 247.5,693.98 248,699.85 248.5,702.22 249,702.54 249.5,701.11 250,697.26 250.5,688.79 251,671.18 251.5,638.8 252,591.82 252.5,554.97 253,569.85 253.5,612.89 254,643.64 254.5,650.83 255,633.22 255.5,594.16 256,555.18 256.5,562.97 257,609.89 257.5,652.18 258,677.22 258.5,687.62 259,687.3 259.5,678.41 260,665.1 260.5,661.19 261,674.77 261.5,691.68 262,703.5 262.5,710.24 263,713.84 263.5,715.91 264,717.26 264.5,718.23 265,718.97 265.5,719.54 266,720 266.5,720.38 267,720.69 267.5,720.95 268,721.16 268.5,721.35 269,721.51 269.5,721.64 270,721.76 270.5,721.85 271,721.94 271.5,722 272,722.06 272.5,722.1 273,722.13 273.5,722.14 274,722.15 274.5,722.14 275,722.12 275.5,722.08 276,722.02 276.5,721.94 277,721.83 277.5,721.68 278,721.48 278.5,721.2 279,720.76 279.5,720.01 280,718.6 280.5,716.06 281,712.21 281.5,708.54 282,708.7 282.5,712.01 283,714.85 283.5,716.07 284,715.66 284.5,713.65 285,710.16 285.5,706.54 286,705.87 286.5,707.44 287,707.9 287.5,705.53 288,698.59 288.5,684.11 289,659.4 289.5,628.84 290,615.97 290.5,634.25 291,656.24 291.5,663.12 292,649.43 292.5,615.28 293,574.82 293.5,570.01 294,608.75 294.5,648.6 295,671.28 295.5,676.2 296,666.15 296.5,646.64 297,635.6 297.5,651.14 298,676.23 298.5,694.97 299,705.86 299.5,711.59 300,714.73 300.5,716.68 301,718.03 301.5,719.02 302,719.78 302.5,720.38 303,720.85 303.5,721.24 304,721.57 304.5,721.84 305,722.07 305.5,722.27 306,722.44 306.5,722.59 307,722.73 307.5,722.84 308,722.95 308.5,723.04 309,723.13 309.5,723.2 310,723.27 310.5,723.33 311,723.39 311.5,723.44 312,723.49 312.5,723.54 313,723.58 313.5,723.62 314,723.65 314.5,723.68 315,723.72 315.5,723.74 316,723.77 316.5,723.8 317,723.82 317.5,723.84 318,723.86 318.5,723.88 319,723.9 319.5,723.92" fill="none" stroke="#E6487A" stroke-width="1.6" stroke-linejoin="round"/>
<polyline points="591,724.14 591.5,724.11 592,724.07 592.5,724.02 593,723.97 593.5,723.91 594,723.83 594.5,723.74 595,723.64 595.5,723.5 596,723.34 596.5,723.13 597,722.86 597.5,722.5 598,722.01 598.5,721.29 599,720.13 599.5,718.13 600,714.65 600.5,708.98 601,700.86 601.5,691.92 602,687.5 602.5,691.92 603,700.86 603.5,708.98 604,714.65 604.5,718.13 605,720.13 605.5,721.29 606,722.01 606.5,722.5 607,722.86 607.5,723.13 608,723.34 608.5,723.5 609,723.64 609.5,723.74 610,723.83 610.5,723.91 611,723.97 611.5,724.02 612,724.07 612.5,724.11 613,724.14" fill="none" stroke="#20A020" stroke-width="1.4" stroke-linejoin="round"/>
<polyline points="808.5,724.19 809,724.14 809.5,724.06 810,723.96 810.5,723.8 811,723.59 811.5,723.29 812,722.91 812.5,722.45 813,721.96 813.5,721.55 814,721.38 814.5,721.53 815,721.92 815.5,722.39 816,722.83 816.5,723.18 817,723.45 817.5,723.64 818,723.75 818.5,723.82 819,723.84 819.5,723.82 820,723.78 820.5,723.69 821,723.54 821.5,723.31 822,722.97 822.5,722.51 823,721.89 823.5,721.14 824,720.35 824.5,719.68 825,719.42 825.5,719.7 826,720.37 826.5,721.18 827,721.94 827.5,722.57 828,723.05 828.5,723.4 829,723.65 829.5,723.83 830,723.95 830.5,724.03 831,724.1 831.5,724.15 832,724.19" fill="none" stroke="#20A020" stroke-width="1.4" stroke-linejoin="round"/>
<polyline points="845,724.2 845.5,724.15 846,724.06 846.5,723.94 847,723.77 847.5,723.53 848,723.22 848.5,722.84 849,722.44 849.5,722.1 850,721.97 850.5,722.11 851,722.44 851.5,722.85 852,723.22 852.5,723.54 853,723.78 853.5,723.96 854,724.08 854.5,724.17 855,724.23" fill="none" stroke="#20A020" stroke-width="1.4" stroke-linejoin="round"/>
<polyline points="724,723.95 724.25,723.88 724.5,723.8 724.75,723.71 725,723.62 725.25,723.51 725.5,723.38 725.75,723.24 726,723.09 726.25,722.92 726.5,722.73 726.75,722.52 727,722.28 727.25,722.02 727.5,721.73 727.75,721.4 728,721.04 728.25,720.64 728.5,720.19 728.75,719.7 729,719.15 729.25,718.53 729.5,717.85 729.75,717.09 730,716.24 730.25,715.3 730.5,714.25 730.75,713.07 731,711.76 731.25,710.28 731.5,708.63 731.75,706.78 732,704.7 732.25,702.35 732.5,699.69 732.75,696.68 733,693.27 733.25,689.39 733.5,684.95 733.75,679.88 734,674.05 734.25,667.34 734.5,659.58 734.75,650.61 735,640.19 735.25,628.09 735.5,614.04 735.75,597.76 736,579.01 736.25,557.64 736.5,533.68 736.75,507.54 737,480.19 737.25,453.35 737.5,429.48 737.75,411.57 738,402.35 738.25,403.4 738.5,414.54 738.75,433.88 739,458.57 739.25,485.69 739.5,512.9 739.75,538.66 740,562.12 740.25,582.97 740.5,601.21 740.75,617.02 741,630.66 741.25,642.4 741.5,652.51 741.75,661.23 742,668.76 742.25,675.28 742.5,680.95 742.75,685.89 743,690.21 743.25,693.99 743.5,697.32 743.75,700.25 744,702.84 744.25,705.13 744.5,707.17 744.75,708.98 745,710.59 745.25,712.03 745.5,713.32 745.75,714.47 746,715.5 746.25,716.42 746.5,717.25 746.75,717.99 747,718.66 747.25,719.26 747.5,719.8 747.75,720.29 748,720.72 748.25,721.12 748.5,721.47 748.75,721.79 749,722.07 749.25,722.33 749.5,722.56 749.75,722.77 750,722.96 750.25,723.12 750.5,723.27 750.75,723.41 751,723.53 751.25,723.64 751.5,723.73 751.75,723.82 752,723.9 752.25,723.97 752.5,724.03 752.75,724.08" fill="none" stroke="#5E7F38" stroke-width="1.8"/>
<polyline points="724,724.06 724.25,724 724.5,723.93 724.75,723.86 725,723.78 725.25,723.69 725.5,723.59 725.75,723.47 726,723.35 726.25,723.21 726.5,723.05 726.75,722.87 727,722.68 727.25,722.46 727.5,722.22 727.75,721.95 728,721.65 728.25,721.31 728.5,720.94 728.75,720.53 729,720.07 729.25,719.56 729.5,718.99 729.75,718.36 730,717.66 730.25,716.88 730.5,716.01 730.75,715.04 731,713.96 731.25,712.75 731.5,711.39 731.75,709.88 732,708.18 732.25,706.26 732.5,704.11 732.75,701.68 733,698.94 733.25,695.82 733.5,692.29 733.75,688.26 734,683.65 734.25,678.37 734.5,672.3 734.75,665.3 735,657.21 735.25,647.83 735.5,636.94 735.75,624.3 736,609.62 736.25,592.65 736.5,573.16 736.75,551.08 737,526.56 737.25,500.19 737.5,473.22 737.75,447.63 738,426.13 738.25,411.63 738.5,406.5 738.75,411.63 739,426.13 739.25,447.63 739.5,473.22 739.75,500.19 740,526.56 740.25,551.08 740.5,573.16 740.75,592.65 741,609.62 741.25,624.3 741.5,636.94 741.75,647.83 742,657.21 742.25,665.3 742.5,672.3 742.75,678.37 743,683.65 743.25,688.26 743.5,692.29 743.75,695.82 744,698.94 744.25,701.68 744.5,704.11 744.75,706.26 745,708.18 745.25,709.88 745.5,711.39 745.75,712.75 746,713.96 746.25,715.04 746.5,716.01 746.75,716.88 747,717.66 747.25,718.36 747.5,718.99 747.75,719.56 748,720.07 748.25,720.53 748.5,720.94 748.75,721.31 749,721.65 749.25,721.95 749.5,722.22 749.75,722.46 750,722.68 750.25,722.87 750.5,723.05 750.75,723.21 751,723.35 751.25,723.47 751.5,723.59 751.75,723.69 752,723.78 752.25,723.86 752.5,723.93 752.75,724" fill="none" stroke="#7A8A3A" stroke-width="1.3"/>
<polyline points="724,724.01 724.25,723.94 724.5,723.87 724.75,723.79 725,723.7 725.25,723.6 725.5,723.49 725.75,723.36 726,723.22 726.25,723.07 726.5,722.89 726.75,722.7 727,722.48 727.25,722.24 727.5,721.98 727.75,721.68 728,721.35 728.25,720.99 728.5,720.58 728.75,720.13 729,719.62 729.25,719.06 729.5,718.44 729.75,717.75 730,716.97 730.25,716.11 730.5,715.16 730.75,714.09 731,712.89 731.25,711.56 731.5,710.06 731.75,708.38 732,706.5 732.25,704.37 732.5,701.98 732.75,699.28 733,696.21 733.25,692.73 733.5,688.77 733.75,684.24 734,679.06 734.25,673.1 734.5,666.24 734.75,658.31 735,649.12 735.25,638.45 735.5,626.06 735.75,611.67 736,595.02 736.25,575.88 736.5,554.11 736.75,529.81 737,503.5 737.25,476.26 737.5,449.95 737.75,427.18 738,410.91 738.25,403.71 738.5,406.84 738.75,419.73 739,440.26 739.25,465.49 739.5,492.63 739.75,519.49 740,544.67 740.25,567.48 740.5,587.68 740.75,605.3 741,620.56 741.25,633.71 741.5,645.04 741.75,654.79 742,663.2 742.25,670.47 742.5,676.78 742.75,682.26 743,687.03 743.25,691.21 743.5,694.87 743.75,698.1 744,700.94 744.25,703.45 744.5,705.68 744.75,707.65 745,709.41 745.25,710.98 745.5,712.38 745.75,713.62 746,714.74 746.25,715.74 746.5,716.64 746.75,717.45 747,718.17 747.25,718.82 747.5,719.41 747.75,719.93 748,720.4 748.25,720.83 748.5,721.21 748.75,721.55 749,721.86 749.25,722.14 749.5,722.39 749.75,722.62 750,722.82 750.25,723 750.5,723.16 750.75,723.31 751,723.44 751.25,723.56 751.5,723.66 751.75,723.76 752,723.84 752.25,723.91 752.5,723.98 752.75,724.04" fill="none" stroke="#3E8E3E" stroke-width="1"/>
<line x1="736.5" y1="402" x2="740" y2="402" stroke="#aab" stroke-width="1.5"/>
<circle cx="738.3" cy="606" r="1.3" fill="#f06060"/>
<polyline points="84,722.71 84.25,722.52 84.5,722.3 84.75,722.03 85,721.7 85.25,721.28 85.5,720.73 85.75,719.97 86,718.85 86.25,717.16 86.5,714.67 86.75,711.15 87,706.61 87.25,701.65 87.5,697.92 87.75,697.29 88,699.34 88.25,701.63 88.5,702.08 88.75,699.27 89,692.04 89.25,679.82 89.5,663.84 89.75,649.95 90,648.42 90.25,660.78 90.5,677.34 90.75,691.12 91,700.44 91.25,705.81 91.5,708.25 91.75,708.46 92,706.53 92.25,701.84 92.5,693.41 92.75,680.52 93,664.21 93.25,650.2 93.5,648.63 93.75,660.98 94,677.44 94.25,690.98 94.5,699.74 94.75,704.09 95,704.97 95.25,703.4 95.5,700.49 95.75,698.11 96,698.52 96.25,702.12 96.5,706.98 96.75,711.45 97,714.91 97.25,717.37 97.5,719.02 97.75,720.11" fill="none" stroke="#3A5A2A" stroke-width="1.5"/>
<polyline points="84,722.76 84.25,722.58 84.5,722.36 84.75,722.1 85,721.78 85.25,721.38 85.5,720.84 85.75,720.1 86,719.02 86.25,717.38 86.5,714.96 86.75,711.55 87,707.15 87.25,702.33 87.5,698.71 87.75,698.11 88,700.1 88.25,702.32 88.5,702.75 88.75,700.02 89,693.01 89.25,681.16 89.5,665.66 89.75,652.19 90,650.7 90.25,662.7 90.5,678.75 90.75,692.12 91,701.16 91.25,706.37 91.5,708.73 91.75,708.94 92,707.07 92.25,702.52 92.5,694.34 92.75,681.84 93,666.02 93.25,652.43 93.5,650.91 93.75,662.88 94,678.86 94.25,691.98 94.5,700.48 94.75,704.7 95,705.56 95.25,704.03 95.5,701.21 95.75,698.9 96,699.3 96.25,702.79 96.5,707.51 96.75,711.84 97,715.2 97.25,717.58 97.5,719.18 97.75,720.24" fill="none" stroke="#8A8A8A" stroke-width="0.8"/>
<text x="738" y="381.7" font-size="14.5" fill="#111" text-anchor="middle" font-weight="bold" textLength="7.3" lengthAdjust="spacingAndGlyphs">9</text>
<text x="213.3" y="525.9" font-size="14.5" fill="#111" text-anchor="middle" font-weight="bold" textLength="14.5" lengthAdjust="spacingAndGlyphs">25</text>
<text x="91.1" y="633" font-size="14.5" fill="#111" text-anchor="middle" font-weight="bold" textLength="7.3" lengthAdjust="spacingAndGlyphs">9</text>
<text x="78.8" y="690.8" font-size="14.5" fill="#111" text-anchor="middle" font-weight="bold" textLength="7.3" lengthAdjust="spacingAndGlyphs">6</text>
<text x="116.3" y="666.5" font-size="14.5" fill="#111" text-anchor="middle" font-weight="bold" textLength="36.3" lengthAdjust="spacingAndGlyphs">33,32,</text>
<text x="116.3" y="680" font-size="14.5" fill="#111" text-anchor="middle" font-weight="bold" textLength="36.3" lengthAdjust="spacingAndGlyphs">31,30,</text>
<text x="116.3" y="693.1" font-size="14.5" fill="#111" text-anchor="middle" font-weight="bold" textLength="14.5" lengthAdjust="spacingAndGlyphs">29</text>
<text x="205.9" y="665" font-size="14.5" fill="#111" text-anchor="middle" font-weight="bold" textLength="32.7" lengthAdjust="spacingAndGlyphs">27,28</text>
<text x="206.6" y="683" font-size="14.5" fill="#111" text-anchor="middle" font-weight="bold" textLength="14.5" lengthAdjust="spacingAndGlyphs">26</text>
<text x="278.3" y="686.3" font-size="14.5" fill="#111" text-anchor="middle" font-weight="bold" textLength="14.5" lengthAdjust="spacingAndGlyphs">26</text>
<text x="324.7" y="698.2" font-size="14.5" fill="#111" text-anchor="middle" font-weight="bold" textLength="14.5" lengthAdjust="spacingAndGlyphs">24</text>
<text x="336.9" y="667.2" font-size="14.5" fill="#111" text-anchor="middle" font-weight="bold" textLength="32.7" lengthAdjust="spacingAndGlyphs">23,11</text>
<text x="349.5" y="681.8" font-size="14.5" fill="#111" text-anchor="middle" font-weight="bold" textLength="14.5" lengthAdjust="spacingAndGlyphs">22</text>
<text x="443" y="683.2" font-size="14.5" fill="#111" text-anchor="middle" font-weight="bold" textLength="14.5" lengthAdjust="spacingAndGlyphs">21</text>
<text x="462.5" y="688.2" font-size="14.5" fill="#111" text-anchor="middle" font-weight="bold" textLength="14.5" lengthAdjust="spacingAndGlyphs">20</text>
<text x="473" y="704.45" font-size="14.5" fill="#111" text-anchor="middle" font-weight="bold" textLength="14.5" lengthAdjust="spacingAndGlyphs">19</text>
<text x="475.75" y="672.2" font-size="14.5" fill="#111" text-anchor="middle" font-weight="bold" textLength="32.7" lengthAdjust="spacingAndGlyphs">17,18</text>
<text x="495" y="654.7" font-size="14.5" fill="#111" text-anchor="middle" font-weight="bold" textLength="14.5" lengthAdjust="spacingAndGlyphs">13</text>
<text x="483.25" y="692.7" font-size="14.5" fill="#111" text-anchor="middle" font-weight="bold" textLength="7.3" lengthAdjust="spacingAndGlyphs">6</text>
<text x="506.25" y="692.7" font-size="14.5" fill="#111" text-anchor="middle" font-weight="bold" textLength="7.3" lengthAdjust="spacingAndGlyphs">6</text>
<text x="515" y="682.7" font-size="14.5" fill="#111" text-anchor="middle" font-weight="bold" textLength="14.5" lengthAdjust="spacingAndGlyphs">16</text>
<text x="529.5" y="669.7" font-size="14.5" fill="#111" text-anchor="middle" font-weight="bold" textLength="14.5" lengthAdjust="spacingAndGlyphs">15</text>
<text x="548.75" y="693.2" font-size="14.5" fill="#111" text-anchor="middle" font-weight="bold" textLength="14.5" lengthAdjust="spacingAndGlyphs">14</text>
<text x="574.25" y="693.2" font-size="14.5" fill="#111" text-anchor="middle" font-weight="bold" textLength="14.5" lengthAdjust="spacingAndGlyphs">13</text>
<text x="590" y="688.95" font-size="14.5" fill="#111" text-anchor="middle" font-weight="bold" textLength="14.5" lengthAdjust="spacingAndGlyphs">11</text>
<text x="599.25" y="665.7" font-size="14.5" fill="#111" text-anchor="middle" font-weight="bold" textLength="14.5" lengthAdjust="spacingAndGlyphs">12</text>
<text x="643.75" y="700.7" font-size="14.5" fill="#111" text-anchor="middle" font-weight="bold" textLength="14.5" lengthAdjust="spacingAndGlyphs">11</text>
<text x="700.75" y="707.7" font-size="14.5" fill="#111" text-anchor="middle" font-weight="bold" textLength="14.5" lengthAdjust="spacingAndGlyphs">10</text>
<text x="755" y="697.7" font-size="14.5" fill="#111" text-anchor="middle" font-weight="bold" textLength="7.3" lengthAdjust="spacingAndGlyphs">8</text>
<text x="765.5" y="670.7" font-size="14.5" fill="#111" text-anchor="middle" font-weight="bold" textLength="7.3" lengthAdjust="spacingAndGlyphs">7</text>
<text x="778" y="689.45" font-size="14.5" fill="#111" text-anchor="middle" font-weight="bold" textLength="7.3" lengthAdjust="spacingAndGlyphs">6</text>
<text x="801.25" y="701.45" font-size="14.5" fill="#111" text-anchor="middle" font-weight="bold" textLength="7.3" lengthAdjust="spacingAndGlyphs">5</text>
<text x="812.5" y="701.45" font-size="14.5" fill="#111" text-anchor="middle" font-weight="bold" textLength="7.3" lengthAdjust="spacingAndGlyphs">4</text>
<text x="822" y="701.45" font-size="14.5" fill="#111" text-anchor="middle" font-weight="bold" textLength="7.3" lengthAdjust="spacingAndGlyphs">3</text>
<text x="830.5" y="691.45" font-size="14.5" fill="#111" text-anchor="middle" font-weight="bold" textLength="7.3" lengthAdjust="spacingAndGlyphs">2</text>
<text x="839.5" y="691.45" font-size="14.5" fill="#111" text-anchor="middle" font-weight="bold" textLength="7.3" lengthAdjust="spacingAndGlyphs">1</text>
<text x="87.3" y="422.8" font-size="14.5" fill="#111" text-anchor="middle" font-weight="bold" textLength="14.5" lengthAdjust="spacingAndGlyphs">35</text>
<text x="153.7" y="425.5" font-size="14.5" fill="#111" text-anchor="middle" font-weight="bold" textLength="14.5" lengthAdjust="spacingAndGlyphs">34</text>
<text x="170.3" y="434.8" font-size="14.5" fill="#111" text-anchor="middle" font-weight="bold" textLength="14.5" lengthAdjust="spacingAndGlyphs">32</text>
<text x="188.6" y="432.5" font-size="14.5" fill="#111" text-anchor="middle" font-weight="bold" textLength="14.5" lengthAdjust="spacingAndGlyphs">33</text>
<text x="218.3" y="431.4" font-size="14.5" fill="#111" text-anchor="middle" font-weight="bold" textLength="14.5" lengthAdjust="spacingAndGlyphs">31</text>
<text x="238" y="430.7" font-size="14.5" fill="#111" text-anchor="middle" font-weight="bold" textLength="14.5" lengthAdjust="spacingAndGlyphs">33</text>
<text x="258.8" y="431.8" font-size="14.5" fill="#111" text-anchor="middle" font-weight="bold" textLength="14.5" lengthAdjust="spacingAndGlyphs">29</text>
<text x="282.4" y="433" font-size="14.5" fill="#111" text-anchor="middle" font-weight="bold" textLength="14.5" lengthAdjust="spacingAndGlyphs">32</text>
<text x="302.7" y="433" font-size="14.5" fill="#111" text-anchor="middle" font-weight="bold" textLength="14.5" lengthAdjust="spacingAndGlyphs">29</text>
<line x1="738" y1="387" x2="738" y2="397" stroke="#111" stroke-width="2"/>
<line x1="91.1" y1="636" x2="91.1" y2="645.8" stroke="#111" stroke-width="2"/>
<line x1="79.2" y1="695.8" x2="80.6" y2="709.3" stroke="#111" stroke-width="2"/>
<line x1="199.1" y1="667.6" x2="199.1" y2="696.9" stroke="#111" stroke-width="2"/>
<line x1="215.3" y1="667.6" x2="215.3" y2="707" stroke="#111" stroke-width="2"/>
<line x1="205.9" y1="685.6" x2="205.9" y2="695.8" stroke="#111" stroke-width="2"/>
<line x1="279.7" y1="690.1" x2="281.3" y2="700.3" stroke="#111" stroke-width="2"/>
<line x1="328" y1="701.4" x2="330.1" y2="713.3" stroke="#111" stroke-width="2"/>
<line x1="337.5" y1="672.1" x2="339.8" y2="701.4" stroke="#111" stroke-width="2"/>
<line x1="345.4" y1="685.6" x2="343.6" y2="700.3" stroke="#111" stroke-width="2"/>
<line x1="442.5" y1="687" x2="433.75" y2="698.75" stroke="#111" stroke-width="2"/>
<line x1="443.5" y1="687" x2="453.75" y2="698.75" stroke="#111" stroke-width="2"/>
<line x1="463.25" y1="691.25" x2="463.25" y2="711.25" stroke="#111" stroke-width="2"/>
<line x1="473" y1="707" x2="473" y2="717" stroke="#111" stroke-width="2"/>
<line x1="491.25" y1="676.25" x2="493" y2="687.5" stroke="#111" stroke-width="2"/>
<line x1="495.75" y1="658" x2="495.75" y2="667" stroke="#111" stroke-width="2"/>
<line x1="483.25" y1="696.25" x2="486.25" y2="707.5" stroke="#111" stroke-width="2"/>
<line x1="508.75" y1="697.5" x2="507" y2="710" stroke="#111" stroke-width="2"/>
<line x1="517.5" y1="686.25" x2="517.5" y2="697.5" stroke="#111" stroke-width="2"/>
<line x1="528.75" y1="676.25" x2="528.75" y2="686.25" stroke="#111" stroke-width="2"/>
<line x1="552" y1="697.5" x2="552" y2="707.5" stroke="#111" stroke-width="2"/>
<line x1="583.25" y1="694.5" x2="583.25" y2="704.5" stroke="#111" stroke-width="2"/>
<line x1="593.75" y1="694.5" x2="593.75" y2="704.5" stroke="#111" stroke-width="2"/>
<line x1="602" y1="669.5" x2="602" y2="679.5" stroke="#111" stroke-width="2"/>
<line x1="648.25" y1="705" x2="648.25" y2="715.5" stroke="#111" stroke-width="2"/>
<line x1="703.75" y1="709.5" x2="703.75" y2="719.5" stroke="#111" stroke-width="2"/>
<line x1="756.25" y1="701.25" x2="756.25" y2="714.5" stroke="#111" stroke-width="2"/>
<line x1="767.5" y1="673.75" x2="767.5" y2="683.75" stroke="#111" stroke-width="2"/>
<line x1="777" y1="696.25" x2="775.5" y2="709.5" stroke="#111" stroke-width="2"/>
<line x1="805.75" y1="705" x2="812" y2="714.5" stroke="#111" stroke-width="2"/>
<line x1="814.5" y1="704.5" x2="818.75" y2="713.75" stroke="#111" stroke-width="2"/>
<line x1="823.25" y1="704.5" x2="823.25" y2="714" stroke="#111" stroke-width="2"/>
<line x1="832" y1="696.5" x2="832" y2="712" stroke="#111" stroke-width="2"/>
<line x1="840.75" y1="696.25" x2="840.75" y2="712.5" stroke="#111" stroke-width="2"/>
<line x1="87.5" y1="427.3" x2="87.5" y2="436.8" stroke="#111" stroke-width="2"/>
<line x1="159.3" y1="427.8" x2="161.6" y2="440" stroke="#111" stroke-width="2"/>
<line x1="169.9" y1="436.3" x2="169.9" y2="445.8" stroke="#111" stroke-width="2"/>
<line x1="188.6" y1="437.2" x2="188.6" y2="448" stroke="#111" stroke-width="2"/>
<line x1="220.5" y1="436.3" x2="220.5" y2="446.9" stroke="#111" stroke-width="2"/>
<line x1="241.2" y1="435.6" x2="241.2" y2="445.3" stroke="#111" stroke-width="2"/>
<line x1="261.7" y1="435.6" x2="261.7" y2="442.3" stroke="#111" stroke-width="2"/>
<line x1="285.8" y1="435.6" x2="284" y2="445.8" stroke="#111" stroke-width="2"/>
<line x1="303.8" y1="434.5" x2="303.8" y2="440.8" stroke="#111" stroke-width="2"/>
<path d="M125.6,551.3 L126.5,533.3 L303,533.3 L303.8,551.3" fill="none" stroke="#777" stroke-width="1.5"/>
<path d="M100.8,703.6 L101.5,697.6 L132,697.6 L132.8,703.6" fill="none" stroke="#777" stroke-width="1.3"/>
<line x1="1046.25" y1="1407" x2="1840" y2="1407" stroke="#333" stroke-width="1.6"/>
<line x1="1839.3" y1="1119.5" x2="1839.3" y2="1407.8" stroke="#333" stroke-width="1.6"/>
<line x1="1047.35" y1="1407" x2="1047.35" y2="1411" stroke="#333" stroke-width="1.5"/>
<line x1="1077" y1="1407" x2="1077" y2="1414.5" stroke="#333" stroke-width="1.5"/>
<line x1="1106.65" y1="1407" x2="1106.65" y2="1411" stroke="#333" stroke-width="1.5"/>
<line x1="1136.3" y1="1407" x2="1136.3" y2="1411" stroke="#333" stroke-width="1.5"/>
<line x1="1165.95" y1="1407" x2="1165.95" y2="1411" stroke="#333" stroke-width="1.5"/>
<line x1="1195.6" y1="1407" x2="1195.6" y2="1411" stroke="#333" stroke-width="1.5"/>
<line x1="1225.25" y1="1407" x2="1225.25" y2="1414.5" stroke="#333" stroke-width="1.5"/>
<line x1="1254.9" y1="1407" x2="1254.9" y2="1411" stroke="#333" stroke-width="1.5"/>
<line x1="1284.55" y1="1407" x2="1284.55" y2="1411" stroke="#333" stroke-width="1.5"/>
<line x1="1314.2" y1="1407" x2="1314.2" y2="1411" stroke="#333" stroke-width="1.5"/>
<line x1="1343.85" y1="1407" x2="1343.85" y2="1411" stroke="#333" stroke-width="1.5"/>
<line x1="1373.5" y1="1407" x2="1373.5" y2="1414.5" stroke="#333" stroke-width="1.5"/>
<line x1="1403.15" y1="1407" x2="1403.15" y2="1411" stroke="#333" stroke-width="1.5"/>
<line x1="1432.8" y1="1407" x2="1432.8" y2="1411" stroke="#333" stroke-width="1.5"/>
<line x1="1462.45" y1="1407" x2="1462.45" y2="1411" stroke="#333" stroke-width="1.5"/>
<line x1="1492.1" y1="1407" x2="1492.1" y2="1411" stroke="#333" stroke-width="1.5"/>
<line x1="1521.75" y1="1407" x2="1521.75" y2="1414.5" stroke="#333" stroke-width="1.5"/>
<line x1="1551.4" y1="1407" x2="1551.4" y2="1411" stroke="#333" stroke-width="1.5"/>
<line x1="1581.05" y1="1407" x2="1581.05" y2="1411" stroke="#333" stroke-width="1.5"/>
<line x1="1610.7" y1="1407" x2="1610.7" y2="1411" stroke="#333" stroke-width="1.5"/>
<line x1="1640.35" y1="1407" x2="1640.35" y2="1411" stroke="#333" stroke-width="1.5"/>
<line x1="1670" y1="1407" x2="1670" y2="1414.5" stroke="#333" stroke-width="1.5"/>
<line x1="1699.65" y1="1407" x2="1699.65" y2="1411" stroke="#333" stroke-width="1.5"/>
<line x1="1729.3" y1="1407" x2="1729.3" y2="1411" stroke="#333" stroke-width="1.5"/>
<line x1="1758.95" y1="1407" x2="1758.95" y2="1411" stroke="#333" stroke-width="1.5"/>
<line x1="1788.6" y1="1407" x2="1788.6" y2="1411" stroke="#333" stroke-width="1.5"/>
<line x1="1818.25" y1="1407" x2="1818.25" y2="1414.5" stroke="#333" stroke-width="1.5"/>
<text x="1077" y="1432" font-size="15.5" fill="#333" text-anchor="middle">9</text>
<text x="1225.25" y="1432" font-size="15.5" fill="#333" text-anchor="middle">8.5</text>
<text x="1373.5" y="1432" font-size="15.5" fill="#333" text-anchor="middle">8.0</text>
<text x="1521.75" y="1432" font-size="15.5" fill="#333" text-anchor="middle">7.5</text>
<text x="1670" y="1432" font-size="15.5" fill="#333" text-anchor="middle">7.0</text>
<text x="1818.25" y="1432" font-size="15.5" fill="#333" text-anchor="middle">6.5</text>
<text x="1450.5" y="1458" font-size="21" fill="#333" text-anchor="middle">[ppm]</text>
<line x1="1839.3" y1="1394.67" x2="1844.3" y2="1394.67" stroke="#333" stroke-width="1.5"/>
<line x1="1839.3" y1="1382.5" x2="1848.3" y2="1382.5" stroke="#333" stroke-width="1.5"/>
<line x1="1839.3" y1="1370.33" x2="1844.3" y2="1370.33" stroke="#333" stroke-width="1.5"/>
<line x1="1839.3" y1="1358.15" x2="1844.3" y2="1358.15" stroke="#333" stroke-width="1.5"/>
<line x1="1839.3" y1="1345.97" x2="1844.3" y2="1345.97" stroke="#333" stroke-width="1.5"/>
<line x1="1839.3" y1="1333.8" x2="1848.3" y2="1333.8" stroke="#333" stroke-width="1.5"/>
<line x1="1839.3" y1="1321.62" x2="1844.3" y2="1321.62" stroke="#333" stroke-width="1.5"/>
<line x1="1839.3" y1="1309.45" x2="1844.3" y2="1309.45" stroke="#333" stroke-width="1.5"/>
<line x1="1839.3" y1="1297.28" x2="1844.3" y2="1297.28" stroke="#333" stroke-width="1.5"/>
<line x1="1839.3" y1="1285.1" x2="1848.3" y2="1285.1" stroke="#333" stroke-width="1.5"/>
<line x1="1839.3" y1="1272.92" x2="1844.3" y2="1272.92" stroke="#333" stroke-width="1.5"/>
<line x1="1839.3" y1="1260.75" x2="1844.3" y2="1260.75" stroke="#333" stroke-width="1.5"/>
<line x1="1839.3" y1="1248.58" x2="1844.3" y2="1248.58" stroke="#333" stroke-width="1.5"/>
<line x1="1839.3" y1="1236.4" x2="1848.3" y2="1236.4" stroke="#333" stroke-width="1.5"/>
<line x1="1839.3" y1="1224.22" x2="1844.3" y2="1224.22" stroke="#333" stroke-width="1.5"/>
<line x1="1839.3" y1="1212.05" x2="1844.3" y2="1212.05" stroke="#333" stroke-width="1.5"/>
<line x1="1839.3" y1="1199.88" x2="1844.3" y2="1199.88" stroke="#333" stroke-width="1.5"/>
<line x1="1839.3" y1="1187.7" x2="1848.3" y2="1187.7" stroke="#333" stroke-width="1.5"/>
<line x1="1839.3" y1="1175.53" x2="1844.3" y2="1175.53" stroke="#333" stroke-width="1.5"/>
<line x1="1839.3" y1="1163.35" x2="1844.3" y2="1163.35" stroke="#333" stroke-width="1.5"/>
<line x1="1839.3" y1="1151.17" x2="1844.3" y2="1151.17" stroke="#333" stroke-width="1.5"/>
<line x1="1839.3" y1="1139" x2="1848.3" y2="1139" stroke="#333" stroke-width="1.5"/>
<line x1="1839.3" y1="1126.83" x2="1844.3" y2="1126.83" stroke="#333" stroke-width="1.5"/>
<text x="1863.6" y="1388" font-size="15.5" fill="#333" text-anchor="middle">0</text>
<text x="1863.6" y="1339.3" font-size="15.5" fill="#333" text-anchor="middle">0.02</text>
<text x="1863.6" y="1290.6" font-size="15.5" fill="#333" text-anchor="middle">0.04</text>
<text x="1863.6" y="1241.9" font-size="15.5" fill="#333" text-anchor="middle">0.06</text>
<text x="1863.6" y="1193.2" font-size="15.5" fill="#333" text-anchor="middle">0.08</text>
<text x="1865" y="1144.5" font-size="13" fill="#222" text-anchor="middle" font-weight="bold">0.1</text>
<text transform="translate(1900,1262) rotate(-90)" font-size="21" fill="#333" text-anchor="middle">[rel]</text>
<polyline points="1046.5,1387.05 1046.95,1380.28 1047.4,1382.86 1047.85,1382.96 1048.3,1382.65 1048.75,1381.89 1049.2,1379.28 1049.65,1381.54 1050.1,1384.68 1050.55,1391.5 1051,1387.11 1051.45,1383.44 1051.9,1382.86 1052.35,1381.72 1052.8,1381.04 1053.25,1382.95 1053.7,1384.93 1054.15,1384.86 1054.6,1386.18 1055.05,1384.6 1055.5,1385.39 1055.95,1388.32 1056.4,1386.36 1056.85,1383.41 1057.3,1383.9 1057.75,1386.9 1058.2,1388.99 1058.65,1384.98 1059.1,1384.3 1059.55,1385.75 1060,1382.8 1060.45,1383.62 1060.9,1386.57 1061.35,1386.39 1061.8,1385.48 1062.25,1383.74 1062.7,1379.06 1063.15,1383.74 1063.6,1381.58 1064.05,1379.91 1064.5,1384.19 1064.95,1385.79 1065.4,1382.98 1065.85,1381.49 1066.3,1383.49 1066.75,1385.28 1067.2,1388.09 1067.65,1387.26 1068.1,1386.18 1068.55,1386.86 1069,1383.97 1069.45,1382.45 1069.9,1385.39 1070.35,1385.93 1070.8,1383.65 1071.25,1382.5 1071.7,1382.3 1072.15,1379.24 1072.6,1384.35 1073.05,1384.71 1073.5,1380.93 1073.95,1382.43 1074.4,1382.7 1074.85,1383.74 1075.3,1379.47 1075.75,1381.16 1076.2,1386.13 1076.65,1385.86 1077.1,1379.81 1077.55,1381.74 1078,1384.2 1078.45,1384.37 1078.9,1386.59 1079.35,1383.04 1079.8,1383.39 1080.25,1383.23 1080.7,1386.73 1081.15,1385.05 1081.6,1382.1 1082.05,1381.33 1082.5,1387.45 1082.95,1387.92 1083.4,1387.5 1083.85,1387.78 1084.3,1385.49 1084.75,1382.47 1085.2,1381.34 1085.65,1382.89 1086.1,1385.73 1086.55,1381.52 1087,1381.55 1087.45,1383.27 1087.9,1385.02 1088.35,1384.84 1088.8,1380.52 1089.25,1379.33 1089.7,1383.89 1090.15,1387.69 1090.6,1387.15 1091.05,1385.14 1091.5,1383.96 1091.95,1384.55 1092.4,1384.59 1092.85,1385.39 1093.3,1383.2 1093.75,1383.91 1094.2,1384.57 1094.65,1385.65 1095.1,1387.21 1095.55,1391.53 1096,1390.89 1096.45,1387.35 1096.9,1380.47 1097.35,1381.47 1097.8,1383.04 1098.25,1383.31 1098.7,1380.34 1099.15,1386.08 1099.6,1386.67 1100.05,1381.35 1100.5,1380.41 1100.95,1381.72 1101.4,1384.28 1101.85,1387.4 1102.3,1389.38 1102.75,1386.01 1103.2,1386.04 1103.65,1386.61 1104.1,1389.07 1104.55,1388.43 1105,1387.21 1105.45,1382.71 1105.9,1382.4 1106.35,1383.43 1106.8,1387.66 1107.25,1386.75 1107.7,1383.75 1108.15,1383.39 1108.6,1384.53 1109.05,1382.33 1109.5,1381.98 1109.95,1386.6 1110.4,1390.18 1110.85,1385.2 1111.3,1381.92 1111.75,1380.13 1112.2,1380.71 1112.65,1385.14 1113.1,1386.68 1113.55,1385.23 1114,1385.17 1114.45,1384.93 1114.9,1383.53 1115.35,1380.52 1115.8,1382.15 1116.25,1383.6 1116.7,1382.21 1117.15,1381.96 1117.6,1381.78 1118.05,1383.55 1118.5,1385.7 1118.95,1383.9 1119.4,1384.26 1119.85,1386.56 1120.3,1387.73 1120.75,1387.11 1121.2,1381.43 1121.65,1384.3 1122.1,1383.95 1122.55,1384.89 1123,1387.18 1123.45,1388.25 1123.9,1387.66 1124.35,1386.7 1124.8,1387.93 1125.25,1384.78 1125.7,1384.37 1126.15,1385.62 1126.6,1385.31 1127.05,1389.66 1127.5,1390 1127.95,1390.1 1128.4,1385.62 1128.85,1383.52 1129.3,1384.96 1129.75,1385.68 1130.2,1383.8 1130.65,1384.71 1131.1,1385.8 1131.55,1387.51 1132,1384.82 1132.45,1385.71 1132.9,1382.88 1133.35,1381.03 1133.8,1381 1134.25,1381.11 1134.7,1384.52 1135.15,1386.93 1135.6,1385.96 1136.05,1387.13 1136.5,1388.77 1136.95,1386.33 1137.4,1384.75 1137.85,1382.57 1138.3,1380.95 1138.75,1383.46 1139.2,1381.32 1139.65,1384.44 1140.1,1385.64 1140.55,1386.84 1141,1384.38 1141.45,1382.62 1141.9,1384.06 1142.35,1383.14 1142.8,1383.48 1143.25,1384.15 1143.7,1383.88 1144.15,1383.12 1144.6,1382.08 1145.05,1381.57 1145.5,1379.08 1145.95,1381.36 1146.4,1382.27 1146.85,1386.95 1147.3,1386.6 1147.75,1380.88 1148.2,1383.03 1148.65,1383.31 1149.1,1382.19 1149.55,1384.37 1150,1382.28 1150.45,1379.65 1150.9,1382.2 1151.35,1383.83 1151.8,1383.48 1152.25,1382.01 1152.7,1385.34 1153.15,1385.59 1153.6,1381.71 1154.05,1381.83 1154.5,1383.17 1154.95,1384.27 1155.4,1388.06 1155.85,1385.35 1156.3,1381.51 1156.75,1381.65 1157.2,1385.33 1157.65,1389.43 1158.1,1385.76 1158.55,1384.85 1159,1385.56 1159.45,1386.36 1159.9,1389.14 1160.35,1385.4 1160.8,1385.74 1161.25,1385.72 1161.7,1384.95 1162.15,1383.42 1162.6,1387.39 1163.05,1385.41 1163.5,1383.56 1163.95,1381.6 1164.4,1382.33 1164.85,1385.8 1165.3,1387.6 1165.75,1387.74 1166.2,1388.23 1166.65,1386.91 1167.1,1385.56 1167.55,1386.72 1168,1386.24 1168.45,1385.09 1168.9,1386.89 1169.35,1388.02 1169.8,1385.56 1170.25,1384.21 1170.7,1387.15 1171.15,1389.09 1171.6,1385.21 1172.05,1383.82 1172.5,1384.86 1172.95,1385.61 1173.4,1381.27 1173.85,1384.65 1174.3,1386.71 1174.75,1384.49 1175.2,1387.53 1175.65,1386.26 1176.1,1383.6 1176.55,1383.17 1177,1380.47 1177.45,1383.22 1177.9,1387.4 1178.35,1385.06 1178.8,1387.82 1179.25,1386.3 1179.7,1386.57 1180.15,1383.44 1180.6,1378.7 1181.05,1381.39 1181.5,1383.41 1181.95,1380.74 1182.4,1380.58 1182.85,1383.61 1183.3,1381.77 1183.75,1379.35 1184.2,1382.07 1184.65,1385.4 1185.1,1384.59 1185.55,1387.28 1186,1388.58 1186.45,1384.68 1186.9,1380.71 1187.35,1380.4 1187.8,1383.91 1188.25,1386.53 1188.7,1386.02 1189.15,1385.43 1189.6,1383.93 1190.05,1384.29 1190.5,1383.19 1190.95,1382.19 1191.4,1379.85 1191.85,1379.29 1192.3,1381.12 1192.75,1380.63 1193.2,1381.74 1193.65,1385.03 1194.1,1386.82 1194.55,1391.68 1195,1388.2 1195.45,1384.15 1195.9,1385.89 1196.35,1385.2 1196.8,1383.84 1197.25,1385.72 1197.7,1381 1198.15,1377.24 1198.6,1383.3 1199.05,1384.63 1199.5,1386.76 1199.95,1383.03 1200.4,1382.26 1200.85,1386.14 1201.3,1383.16 1201.75,1385.06 1202.2,1387.9 1202.65,1385.62 1203.1,1384.28 1203.55,1385.12 1204,1385.7 1204.45,1383.55 1204.9,1385.54 1205.35,1387.91 1205.8,1389.88 1206.25,1384.61 1206.7,1382.49 1207.15,1384.99 1207.6,1384.17 1208.05,1384.76 1208.5,1385.73 1208.95,1386.6 1209.4,1383.61 1209.85,1381.61 1210.3,1377.64 1210.75,1381.46 1211.2,1386.64 1211.65,1383.37 1212.1,1381.21 1212.55,1381.39 1213,1384.84 1213.45,1384.24 1213.9,1382.21 1214.35,1385.13 1214.8,1386 1215.25,1385.75 1215.7,1384.74 1216.15,1388.14 1216.6,1386.5 1217.05,1383.95 1217.5,1382.82 1217.95,1384 1218.4,1385.89 1218.85,1385.17 1219.3,1387.04 1219.75,1387.51 1220.2,1388.49 1220.65,1387.17 1221.1,1383.31 1221.55,1380.06 1222,1384.13 1222.45,1386.48 1222.9,1385.71 1223.35,1385.35 1223.8,1383.34 1224.25,1382.33 1224.7,1382.88 1225.15,1386.85 1225.6,1385.34 1226.05,1382.26 1226.5,1380.72 1226.95,1384.03 1227.4,1387.88 1227.85,1385.92 1228.3,1384.08 1228.75,1388.15 1229.2,1389.47 1229.65,1388.28 1230.1,1387.77 1230.55,1388 1231,1387.05 1231.45,1385.91 1231.9,1384.25 1232.35,1387.35 1232.8,1387.55 1233.25,1387.59 1233.7,1381.68 1234.15,1385.11 1234.6,1386.85 1235.05,1384.61 1235.5,1385.66 1235.95,1386.83 1236.4,1385.8 1236.85,1383.39 1237.3,1384.34 1237.75,1387.53 1238.2,1388.12 1238.65,1385.57 1239.1,1384.71 1239.55,1385.62 1240,1386.04 1240.45,1381.64 1240.9,1380.51 1241.35,1382.71 1241.8,1381.38 1242.25,1382.15 1242.7,1384.42 1243.15,1384.66 1243.6,1382.81 1244.05,1383.96 1244.5,1381.23 1244.95,1382.98 1245.4,1380.09 1245.85,1380.63 1246.3,1384.49 1246.75,1383.24 1247.2,1381.8 1247.65,1383.02 1248.1,1384.99 1248.55,1384.51 1249,1385 1249.45,1386.17 1249.9,1383.09 1250.35,1382.25 1250.8,1383.63 1251.25,1387.37 1251.7,1388.49 1252.15,1388.02 1252.6,1385.09 1253.05,1384.57 1253.5,1385.85 1253.95,1384.69 1254.4,1386.48 1254.85,1386.08 1255.3,1383.18 1255.75,1383.48 1256.2,1385.3 1256.65,1390.22 1257.1,1391.55 1257.55,1386.08 1258,1382.5 1258.45,1379.19 1258.9,1383.02 1259.35,1383.62 1259.8,1382.42 1260.25,1384.08 1260.7,1381.12 1261.15,1382.7 1261.6,1383.49 1262.05,1382.18 1262.5,1386.13 1262.95,1386.33 1263.4,1380.82 1263.85,1380.44 1264.3,1384.58 1264.75,1383.76 1265.2,1381.25 1265.65,1382.6 1266.1,1383.71 1266.55,1384.52 1267,1386.4 1267.45,1387.19 1267.9,1389.75 1268.35,1389.37 1268.8,1387.76 1269.25,1388.34 1269.7,1388.74 1270.15,1386.01 1270.6,1382.67 1271.05,1385.4 1271.5,1386.38 1271.95,1388.17 1272.4,1386.17 1272.85,1385.84 1273.3,1386.77 1273.75,1388.58 1274.2,1385.8 1274.65,1384.05 1275.1,1384.47 1275.55,1383.65 1276,1384.33 1276.45,1384.62 1276.9,1386.41 1277.35,1388.65 1277.8,1384.87 1278.25,1383.92 1278.7,1384.39 1279.15,1384.79 1279.6,1381.55 1280.05,1381.75 1280.5,1384.1 1280.95,1385.5 1281.4,1384.23 1281.85,1382.44 1282.3,1382.3 1282.75,1385.93 1283.2,1388.28 1283.65,1386.3 1284.1,1385.33 1284.55,1384.75 1285,1382.22 1285.45,1382.64 1285.9,1383.67 1286.35,1384.75 1286.8,1383.52 1287.25,1382.33 1287.7,1387.27 1288.15,1388.88 1288.6,1385.3 1289.05,1385.23 1289.5,1385.83 1289.95,1385.18 1290.4,1382.72 1290.85,1386.53 1291.3,1385.44 1291.75,1386.93 1292.2,1385.16 1292.65,1383.35 1293.1,1384.37 1293.55,1385.6 1294,1382.7 1294.45,1382.39 1294.9,1381.57 1295.35,1380.96 1295.8,1386.43 1296.25,1386.63 1296.7,1385.59 1297.15,1386.24 1297.6,1382.93 1298.05,1384.72 1298.5,1388.99 1298.95,1386.18 1299.4,1377.33 1299.85,1374.07 1300.3,1380.15 1300.75,1385.59 1301.2,1383.86 1301.65,1383.9 1302.1,1384.86 1302.55,1382.88 1303,1384.72 1303.45,1386.66 1303.9,1386.3 1304.35,1385.11 1304.8,1383.61 1305.25,1384.7 1305.7,1384.71 1306.15,1388.97 1306.6,1390.68 1307.05,1382.89 1307.5,1378.37 1307.95,1381.93 1308.4,1385.65 1308.85,1387.85 1309.3,1387 1309.75,1382.71 1310.2,1382.84 1310.65,1385.78 1311.1,1383.59 1311.55,1385.81 1312,1385.21 1312.45,1386.44 1312.9,1387.12 1313.35,1387.28 1313.8,1386.03 1314.25,1382.87 1314.7,1384.24 1315.15,1384.8 1315.6,1385.98 1316.05,1387.18 1316.5,1384.07 1316.95,1381.88 1317.4,1381.83 1317.85,1383.6 1318.3,1385.17 1318.75,1383.89 1319.2,1386.58 1319.65,1385.69 1320.1,1382.97 1320.55,1381.23 1321,1384.37 1321.45,1384.73 1321.9,1381.67 1322.35,1386.97 1322.8,1389.29 1323.25,1386.73 1323.7,1387.56 1324.15,1391.22 1324.6,1388.32 1325.05,1383.16 1325.5,1383.45 1325.95,1383.81 1326.4,1382.01 1326.85,1379.3 1327.3,1383.74 1327.75,1383.54 1328.2,1384.08 1328.65,1384.78 1329.1,1385.98 1329.55,1383.67 1330,1382.64 1330.45,1386 1330.9,1387.72 1331.35,1385.7 1331.8,1387.43 1332.25,1385.55 1332.7,1384.45 1333.15,1386.79 1333.6,1384.36 1334.05,1385.63 1334.5,1384.28 1334.95,1384.01 1335.4,1381.14 1335.85,1382.23 1336.3,1386.26 1336.75,1385.59 1337.2,1384.19 1337.65,1383.66 1338.1,1383.92 1338.55,1380.55 1339,1380.51 1339.45,1382.43 1339.9,1381.71 1340.35,1381.98 1340.8,1383.49 1341.25,1383.75 1341.7,1384.96 1342.15,1388.76 1342.6,1388.87 1343.05,1387.9 1343.5,1384.79 1343.95,1381.99 1344.4,1380.28 1344.85,1380.76 1345.3,1378.75 1345.75,1381.93 1346.2,1386.87 1346.65,1389.39 1347.1,1387.12 1347.55,1383.43 1348,1384.17 1348.45,1383.49 1348.9,1385.51 1349.35,1385.34 1349.8,1388.19 1350.25,1391.63 1350.7,1390.22 1351.15,1390.55 1351.6,1386.26 1352.05,1384.7 1352.5,1388.46 1352.95,1388.89 1353.4,1384.4 1353.85,1382.94 1354.3,1380.88 1354.75,1383.42 1355.2,1386.13 1355.65,1384.35 1356.1,1381.83 1356.55,1380.89 1357,1384.68 1357.45,1386.89 1357.9,1386.49 1358.35,1384.37 1358.8,1382.91 1359.25,1387.35 1359.7,1385.42 1360.15,1384.49 1360.6,1384.22 1361.05,1379.81 1361.5,1382.38 1361.95,1384.22 1362.4,1386.1 1362.85,1388.07 1363.3,1385.02 1363.75,1380.16 1364.2,1382.26 1364.65,1384.63 1365.1,1383.81 1365.55,1380.16 1366,1379.88 1366.45,1384.55 1366.9,1385.5 1367.35,1383.18 1367.8,1381.66 1368.25,1384.84 1368.7,1378.68 1369.15,1382.83 1369.6,1388.74 1370.05,1385.73 1370.5,1383.81 1370.95,1382.8 1371.4,1385.54 1371.85,1382.55 1372.3,1384 1372.75,1384 1373.2,1382.66 1373.65,1384.45 1374.1,1381.18 1374.55,1381.6 1375,1383.39 1375.45,1383.68 1375.9,1385.78 1376.35,1386.57 1376.8,1383.92 1377.25,1382.42 1377.7,1382.4 1378.15,1383.68 1378.6,1385.72 1379.05,1384.74 1379.5,1385.01 1379.95,1383.75 1380.4,1382.94 1380.85,1384.85 1381.3,1382.57 1381.75,1384.66 1382.2,1386.9 1382.65,1382.87 1383.1,1382.11 1383.55,1380.2 1384,1380.75 1384.45,1380.17 1384.9,1381.89 1385.35,1382.88 1385.8,1385.41 1386.25,1388.29 1386.7,1386.68 1387.15,1386 1387.6,1384.5 1388.05,1383.05 1388.5,1380.79 1388.95,1379.54 1389.4,1384.33 1389.85,1388.49 1390.3,1386.25 1390.75,1384.7 1391.2,1387.37 1391.65,1384.09 1392.1,1381.6 1392.55,1380.27 1393,1380.95 1393.45,1384.53 1393.9,1388.58 1394.35,1384.57 1394.8,1381.29 1395.25,1381.93 1395.7,1382 1396.15,1380.26 1396.6,1383.81 1397.05,1386.27 1397.5,1386.05 1397.95,1384.94 1398.4,1380.47 1398.85,1380.37 1399.3,1386.81 1399.75,1386.64 1400.2,1381.74 1400.65,1383.61 1401.1,1384.94 1401.55,1385.74 1402,1384.82 1402.45,1383.45 1402.9,1384.49 1403.35,1384.78 1403.8,1382.88 1404.25,1377.66 1404.7,1375.33 1405.15,1378.9 1405.6,1380.1 1406.05,1384.18 1406.5,1386.36 1406.95,1385.18 1407.4,1383.7 1407.85,1385.08 1408.3,1386.49 1408.75,1384.23 1409.2,1386.42 1409.65,1386.85 1410.1,1386.57 1410.55,1387.31 1411,1384.49 1411.45,1385.21 1411.9,1382.29 1412.35,1380.99 1412.8,1381.6 1413.25,1383.79 1413.7,1382.51 1414.15,1382.82 1414.6,1382.53 1415.05,1387.31 1415.5,1389.55 1415.95,1387.51 1416.4,1388.71 1416.85,1388.54 1417.3,1389.83 1417.75,1384.99 1418.2,1381.89 1418.65,1386.44 1419.1,1384.36 1419.55,1381.3 1420,1380.73 1420.45,1379.9 1420.9,1381.83 1421.35,1382.84 1421.8,1387.42 1422.25,1385.7 1422.7,1379.81 1423.15,1379.09 1423.6,1380.34 1424.05,1379.32 1424.5,1382.53 1424.95,1383.52 1425.4,1382.06 1425.85,1382.82 1426.3,1386.13 1426.75,1389.13 1427.2,1388.88 1427.65,1386.19 1428.1,1385.74 1428.55,1383.57 1429,1383.94 1429.45,1382.96 1429.9,1384.29 1430.35,1381.25 1430.8,1381.1 1431.25,1383.97 1431.7,1384.47 1432.15,1380.99 1432.6,1382.05 1433.05,1384.38 1433.5,1384.29 1433.95,1382.61 1434.4,1383.67 1434.85,1384.84 1435.3,1387.77 1435.75,1385.65 1436.2,1379.97 1436.65,1378.26 1437.1,1383.74 1437.55,1387.25 1438,1386.29 1438.45,1386.1 1438.9,1382.81 1439.35,1381.35 1439.8,1385.06 1440.25,1385.63 1440.7,1384.89 1441.15,1381.77 1441.6,1383.17 1442.05,1383.61 1442.5,1385.24 1442.95,1383.11 1443.4,1381.99 1443.85,1383.45 1444.3,1386.79 1444.75,1384.75 1445.2,1381.77 1445.65,1380.54 1446.1,1382.22 1446.55,1385.48 1447,1380.57 1447.45,1381.42 1447.9,1386.03 1448.35,1387.4 1448.8,1385.47 1449.25,1386.59 1449.7,1387.42 1450.15,1387.2 1450.6,1386.44 1451.05,1388.33 1451.5,1387.27 1451.95,1387.21 1452.4,1383.73 1452.85,1384.73 1453.3,1381.04 1453.75,1380.34 1454.2,1383.76 1454.65,1383.22 1455.1,1383.98 1455.55,1383.53 1456,1387.33 1456.45,1384.82 1456.9,1381.97 1457.35,1384.67 1457.8,1386.04 1458.25,1383.76 1458.7,1386.65 1459.15,1390.28 1459.6,1388.06 1460.05,1384.69 1460.5,1383.61 1460.95,1384.22 1461.4,1379.09 1461.85,1375.78 1462.3,1379.78 1462.75,1382.83 1463.2,1387.82 1463.65,1385.42 1464.1,1381.45 1464.55,1381.45 1465,1384.14 1465.45,1382.54 1465.9,1382.47 1466.35,1383.94 1466.8,1384.75 1467.25,1384.92 1467.7,1385.89 1468.15,1388.96 1468.6,1388.22 1469.05,1384.03 1469.5,1389.35 1469.95,1387.81 1470.4,1386.98 1470.85,1384.07 1471.3,1384.92 1471.75,1385.41 1472.2,1385.66 1472.65,1387.13 1473.1,1385.92 1473.55,1382.65 1474,1384.09 1474.45,1386.71 1474.9,1386.48 1475.35,1384.12 1475.8,1383.56 1476.25,1383.16 1476.7,1380.92 1477.15,1381.96 1477.6,1386.92 1478.05,1384.95 1478.5,1383.92 1478.95,1383.93 1479.4,1388.36 1479.85,1389.47 1480.3,1385.82 1480.75,1385.02 1481.2,1384.59 1481.65,1388.8 1482.1,1387.44 1482.55,1384.31 1483,1387.1 1483.45,1386.69 1483.9,1386.09 1484.35,1385.21 1484.8,1382.89 1485.25,1383.29 1485.7,1385.56 1486.15,1384.2 1486.6,1383.9 1487.05,1388.37 1487.5,1385.21 1487.95,1382.56 1488.4,1383.04 1488.85,1386.36 1489.3,1387.53 1489.75,1386.54 1490.2,1385.59 1490.65,1381.46 1491.1,1382.17 1491.55,1383.17 1492,1384.57 1492.45,1384.1 1492.9,1382.6 1493.35,1389.52 1493.8,1385.2 1494.25,1385.29 1494.7,1387.36 1495.15,1387.31 1495.6,1383.48 1496.05,1377.11 1496.5,1380.32 1496.95,1384.69 1497.4,1382.12 1497.85,1379.5 1498.3,1379.14 1498.75,1385.85 1499.2,1385.88 1499.65,1382.66 1500.1,1383.35 1500.55,1383.22 1501,1381.53 1501.45,1383.1 1501.9,1385.19 1502.35,1386.83 1502.8,1387.75 1503.25,1385.05 1503.7,1383.62 1504.15,1384.44 1504.6,1382.24 1505.05,1381.84 1505.5,1385.72 1505.95,1384.43 1506.4,1384.82 1506.85,1385.07 1507.3,1382.76 1507.75,1385.3 1508.2,1385.78 1508.65,1384.74 1509.1,1384.57 1509.55,1381.16 1510,1378.4 1510.45,1381.25 1510.9,1382.65 1511.35,1385.82 1511.8,1385.18 1512.25,1383.31 1512.7,1385.04 1513.15,1388.34 1513.6,1388.25 1514.05,1386.35 1514.5,1385.36 1514.95,1383.87 1515.4,1384.22 1515.85,1385.45 1516.3,1384.69 1516.75,1384.02 1517.2,1380.63 1517.65,1378.24 1518.1,1378.71 1518.55,1382.97 1519,1387.91 1519.45,1387.25 1519.9,1381.66 1520.35,1380.49 1520.8,1385.24 1521.25,1384.88 1521.7,1382.25 1522.15,1385.77 1522.6,1386.48 1523.05,1387.7 1523.5,1386.74 1523.95,1386.8 1524.4,1384.92 1524.85,1382.09 1525.3,1382.42 1525.75,1383.11 1526.2,1384.85 1526.65,1381.36 1527.1,1380.42 1527.55,1385.48 1528,1388.5 1528.45,1389.27 1528.9,1386.67 1529.35,1381 1529.8,1380.98 1530.25,1382.35 1530.7,1382.04 1531.15,1379.16 1531.6,1382.69 1532.05,1384.06 1532.5,1382.26 1532.95,1384.61 1533.4,1387.03 1533.85,1385.99 1534.3,1387.4 1534.75,1387.62 1535.2,1386.16 1535.65,1385.05 1536.1,1384.52 1536.55,1386.34 1537,1383.45 1537.45,1382.68 1537.9,1384.64 1538.35,1383.3 1538.8,1385.34 1539.25,1386.93 1539.7,1385.18 1540.15,1385.1 1540.6,1386.87 1541.05,1385.35 1541.5,1380.08 1541.95,1380.88 1542.4,1386.44 1542.85,1384.39 1543.3,1378.51 1543.75,1379.35 1544.2,1382.32 1544.65,1382.17 1545.1,1384.44 1545.55,1384.97 1546,1384.34 1546.45,1382.2 1546.9,1386.09 1547.35,1388.44 1547.8,1384.72 1548.25,1387.21 1548.7,1387.81 1549.15,1386.22 1549.6,1383.47 1550.05,1380.6 1550.5,1381.67 1550.95,1385.85 1551.4,1387.8 1551.85,1388.32 1552.3,1387.86 1552.75,1386.48 1553.2,1382.74 1553.65,1381 1554.1,1383.9 1554.55,1385.35 1555,1383.37 1555.45,1380.1 1555.9,1380.43 1556.35,1380.24 1556.8,1382.33 1557.25,1381.49 1557.7,1382.98 1558.15,1384.64 1558.6,1385.54 1559.05,1386.33 1559.5,1380.72 1559.95,1378.72 1560.4,1385.48 1560.85,1388.97 1561.3,1388.5 1561.75,1386.06 1562.2,1385.44 1562.65,1383.57 1563.1,1380.52 1563.55,1381.92 1564,1384.12 1564.45,1384.37 1564.9,1386.63 1565.35,1381.41 1565.8,1382.5 1566.25,1385.6 1566.7,1382.4 1567.15,1379.68 1567.6,1379.23 1568.05,1382.24 1568.5,1387.05 1568.95,1386.3 1569.4,1384.9 1569.85,1383.63 1570.3,1385.41 1570.75,1383.96 1571.2,1381.37 1571.65,1382.16 1572.1,1384.78 1572.55,1386.57 1573,1384.9 1573.45,1386.41 1573.9,1388.18 1574.35,1382.48 1574.8,1380.99 1575.25,1385.37 1575.7,1385.41 1576.15,1384.02 1576.6,1383.98 1577.05,1383.53 1577.5,1384.37 1577.95,1383.92 1578.4,1384.37 1578.85,1380.95 1579.3,1380.96 1579.75,1382.94 1580.2,1383.19 1580.65,1384.86 1581.1,1383.67 1581.55,1382.51 1582,1383.3 1582.45,1381.37 1582.9,1378.74 1583.35,1379.17 1583.8,1380.52 1584.25,1381.98 1584.7,1384.18 1585.15,1386.22 1585.6,1386.96 1586.05,1389.13 1586.5,1387.78 1586.95,1385.42 1587.4,1388.18 1587.85,1387.25 1588.3,1383.69 1588.75,1384.8 1589.2,1386.54 1589.65,1385.77 1590.1,1386.42 1590.55,1385.82 1591,1385.26 1591.45,1383.67 1591.9,1383.92 1592.35,1383.53 1592.8,1383.54 1593.25,1380.43 1593.7,1383.99 1594.15,1387.15 1594.6,1385.83 1595.05,1384.35 1595.5,1384.11 1595.95,1381.35 1596.4,1380.68 1596.85,1381.94 1597.3,1383.65 1597.75,1384.95 1598.2,1382.97 1598.65,1383.93 1599.1,1380.04 1599.55,1380.45 1600,1383.71 1600.45,1385.68 1600.9,1381.32 1601.35,1378.39 1601.8,1382.79 1602.25,1382.92 1602.7,1380.16 1603.15,1379.71 1603.6,1381.15 1604.05,1383.69 1604.5,1383.96 1604.95,1382.34 1605.4,1387.61 1605.85,1384.87 1606.3,1383.11 1606.75,1384.83 1607.2,1386.05 1607.65,1389.81 1608.1,1387.53 1608.55,1383.17 1609,1381.9 1609.45,1381.76 1609.9,1382.82 1610.35,1384.27 1610.8,1383.74 1611.25,1386.64 1611.7,1384.41 1612.15,1383.8 1612.6,1384.03 1613.05,1378.9 1613.5,1380.24 1613.95,1384.14 1614.4,1383.95 1614.85,1383.76 1615.3,1383.92 1615.75,1382.26 1616.2,1381.57 1616.65,1378.75 1617.1,1379.06 1617.55,1384.24 1618,1381.74 1618.45,1382.18 1618.9,1386.98 1619.35,1386.61 1619.8,1382.67 1620.25,1381.79 1620.7,1382.15 1621.15,1381.64 1621.6,1384.13 1622.05,1384.35 1622.5,1384.49 1622.95,1385.89 1623.4,1387.16 1623.85,1389.49 1624.3,1387.12 1624.75,1381.41 1625.2,1383.41 1625.65,1380.52 1626.1,1379.9 1626.55,1383.52 1627,1382.21 1627.45,1383.08 1627.9,1385.25 1628.35,1382.14 1628.8,1381.21 1629.25,1384.56 1629.7,1387.04 1630.15,1384.52 1630.6,1379.87 1631.05,1380.74 1631.5,1384.2 1631.95,1388.61 1632.4,1387.79 1632.85,1387.17 1633.3,1386.79 1633.75,1384.18 1634.2,1384.85 1634.65,1384.35 1635.1,1381.71 1635.55,1383.26 1636,1384.08 1636.45,1382.18 1636.9,1385.25 1637.35,1386.81 1637.8,1386.02 1638.25,1382.73 1638.7,1384.42 1639.15,1387.72 1639.6,1386.01 1640.05,1382.63 1640.5,1384.68 1640.95,1387.08 1641.4,1384.9 1641.85,1386.5 1642.3,1389.91 1642.75,1385.51 1643.2,1382.65 1643.65,1380.79 1644.1,1382.56 1644.55,1386.54 1645,1383.63 1645.45,1380.16 1645.9,1380.66 1646.35,1383.62 1646.8,1384.94 1647.25,1383.16 1647.7,1384.45 1648.15,1383.44 1648.6,1384.6 1649.05,1385.7 1649.5,1385.23 1649.95,1383.09 1650.4,1383.42 1650.85,1383.8 1651.3,1381.29 1651.75,1383.55 1652.2,1385.88 1652.65,1386.54 1653.1,1384.33 1653.55,1383.41 1654,1383.38 1654.45,1382.01 1654.9,1383.03 1655.35,1384.76 1655.8,1383.93 1656.25,1381.32 1656.7,1380.58 1657.15,1379.24 1657.6,1383.58 1658.05,1383.34 1658.5,1383.07 1658.95,1381.35 1659.4,1383.08 1659.85,1385.5 1660.3,1385.34 1660.75,1382.03 1661.2,1384.55 1661.65,1383.45 1662.1,1382.23 1662.55,1384.06 1663,1383.25 1663.45,1382.34 1663.9,1382.11 1664.35,1383.8 1664.8,1383.92 1665.25,1382.69 1665.7,1381.07 1666.15,1382.2 1666.6,1385.34 1667.05,1387.07 1667.5,1385.84 1667.95,1387.07 1668.4,1384.06 1668.85,1381.8 1669.3,1383.72 1669.75,1382.42 1670.2,1384.87 1670.65,1386.41 1671.1,1383.91 1671.55,1385.34 1672,1389.7 1672.45,1386.55 1672.9,1385.29 1673.35,1385.83 1673.8,1384.21 1674.25,1383.92 1674.7,1382.88 1675.15,1379.77 1675.6,1384.53 1676.05,1381.72 1676.5,1381.04 1676.95,1384.38 1677.4,1383.46 1677.85,1381.25 1678.3,1382.61 1678.75,1380.95 1679.2,1380.32 1679.65,1379.32 1680.1,1381.21 1680.55,1384.36 1681,1384.81 1681.45,1385.51 1681.9,1386.33 1682.35,1384.1 1682.8,1382.23 1683.25,1384.12 1683.7,1387.63 1684.15,1385.61 1684.6,1384.71 1685.05,1384.23 1685.5,1384.85 1685.95,1385.21 1686.4,1384.22 1686.85,1383.07 1687.3,1381.46 1687.75,1381.8 1688.2,1384.91 1688.65,1386.8 1689.1,1386.8 1689.55,1384.26 1690,1382.68 1690.45,1385.36 1690.9,1384.82 1691.35,1381.69 1691.8,1385.22 1692.25,1387.32 1692.7,1387.51 1693.15,1381.78 1693.6,1380.87 1694.05,1383.54 1694.5,1379.99 1694.95,1380.19 1695.4,1380.24 1695.85,1379.46 1696.3,1378.75 1696.75,1382.85 1697.2,1386.53 1697.65,1386.24 1698.1,1385.22 1698.55,1384.76 1699,1387.61 1699.45,1387.28 1699.9,1385.78 1700.35,1381.65 1700.8,1382.88 1701.25,1382.06 1701.7,1384.24 1702.15,1384.03 1702.6,1381.86 1703.05,1384.61 1703.5,1387.38 1703.95,1386.69 1704.4,1385.28 1704.85,1382.14 1705.3,1381.12 1705.75,1381.22 1706.2,1384.58 1706.65,1387.39 1707.1,1386.14 1707.55,1383.69 1708,1381.98 1708.45,1384.21 1708.9,1382.56 1709.35,1378.33 1709.8,1378.53 1710.25,1381.44 1710.7,1383.19 1711.15,1387.39 1711.6,1384.8 1712.05,1381.51 1712.5,1383.55 1712.95,1386.82 1713.4,1383.89 1713.85,1385.64 1714.3,1386.99 1714.75,1388.39 1715.2,1386.31 1715.65,1384.15 1716.1,1385.23 1716.55,1385.58 1717,1386.52 1717.45,1386.4 1717.9,1388.71 1718.35,1385.91 1718.8,1384.72 1719.25,1383.21 1719.7,1384.1 1720.15,1384.59 1720.6,1385.41 1721.05,1386.1 1721.5,1383.11 1721.95,1382.8 1722.4,1386 1722.85,1384 1723.3,1383.45 1723.75,1387.06 1724.2,1384.97 1724.65,1378.54 1725.1,1382.03 1725.55,1386.49 1726,1386.47 1726.45,1385 1726.9,1386.94 1727.35,1383.54 1727.8,1383.31 1728.25,1384.47 1728.7,1385.06 1729.15,1386.99 1729.6,1387.3 1730.05,1386.12 1730.5,1387.03 1730.95,1383.7 1731.4,1384.67 1731.85,1388.25 1732.3,1386.74 1732.75,1386.58 1733.2,1384.01 1733.65,1383.37 1734.1,1384.08 1734.55,1384.45 1735,1383.76 1735.45,1384.69 1735.9,1386.88 1736.35,1387.78 1736.8,1386.08 1737.25,1386.69 1737.7,1386.18 1738.15,1381.43 1738.6,1381.21 1739.05,1387.94 1739.5,1388.74 1739.95,1385.83 1740.4,1384.55 1740.85,1381.46 1741.3,1380.76 1741.75,1382.95 1742.2,1381.94 1742.65,1384.86 1743.1,1383.78 1743.55,1386.05 1744,1390.54 1744.45,1390.04 1744.9,1386.06 1745.35,1385.87 1745.8,1382.41 1746.25,1382.56 1746.7,1385.88 1747.15,1387.45 1747.6,1384.57 1748.05,1385.29 1748.5,1384.09 1748.95,1381.47 1749.4,1384.28 1749.85,1387.69 1750.3,1385.73 1750.75,1386.13 1751.2,1386.13 1751.65,1384.29 1752.1,1387.83 1752.55,1390.04 1753,1390.25 1753.45,1388.3 1753.9,1383.88 1754.35,1382.08 1754.8,1381.44 1755.25,1381.09 1755.7,1382.62 1756.15,1387.19 1756.6,1388.03 1757.05,1384.66 1757.5,1384.79 1757.95,1381.84 1758.4,1381.89 1758.85,1380.58 1759.3,1379.89 1759.75,1383.3 1760.2,1384.28 1760.65,1383.08 1761.1,1382.08 1761.55,1381.58 1762,1382.83 1762.45,1383.05 1762.9,1383.52 1763.35,1381.93 1763.8,1384.34 1764.25,1386.66 1764.7,1388.42 1765.15,1387.87 1765.6,1385.07 1766.05,1381.5 1766.5,1379.58 1766.95,1384 1767.4,1388.87 1767.85,1387.3 1768.3,1379.15 1768.75,1380.35 1769.2,1382.14 1769.65,1381.8 1770.1,1383.99 1770.55,1384.16 1771,1383.13 1771.45,1382.62 1771.9,1379.87 1772.35,1380.16 1772.8,1382.2 1773.25,1384.45 1773.7,1381.09 1774.15,1383.18 1774.6,1385.92 1775.05,1385.42 1775.5,1385.65 1775.95,1383.77 1776.4,1385.52 1776.85,1388.47 1777.3,1390.75 1777.75,1388.83 1778.2,1388.2 1778.65,1385.53 1779.1,1385.78 1779.55,1388.49 1780,1387.99 1780.45,1388.62 1780.9,1388.72 1781.35,1391.64 1781.8,1390.85 1782.25,1385.69 1782.7,1388.35 1783.15,1387.17 1783.6,1385.71 1784.05,1385.02 1784.5,1385.09 1784.95,1381.8 1785.4,1381.25 1785.85,1382.28 1786.3,1385.18 1786.75,1387.31 1787.2,1387.09 1787.65,1385.36 1788.1,1381.96 1788.55,1380.18 1789,1384.09 1789.45,1385.33 1789.9,1386.45 1790.35,1387.85 1790.8,1384.94 1791.25,1382.02 1791.7,1379.33 1792.15,1383.88 1792.6,1384.16 1793.05,1382.96 1793.5,1383.93 1793.95,1381.88 1794.4,1383.87 1794.85,1389.12 1795.3,1388.38 1795.75,1387.71 1796.2,1387.35 1796.65,1386.62 1797.1,1387.11 1797.55,1389.79 1798,1386.56 1798.45,1385.88 1798.9,1384.19 1799.35,1381.54 1799.8,1377 1800.25,1379.26 1800.7,1387.64 1801.15,1388.69 1801.6,1384.5 1802.05,1384.44 1802.5,1385.01 1802.95,1383.91 1803.4,1386.9 1803.85,1382.78 1804.3,1379.77 1804.75,1378.59 1805.2,1385.79 1805.65,1386.92 1806.1,1387.39 1806.55,1383.56 1807,1384.43 1807.45,1384.95 1807.9,1386.48 1808.35,1391.06 1808.8,1392.27 1809.25,1388.99 1809.7,1385.18 1810.15,1387.15 1810.6,1388.58 1811.05,1387.12 1811.5,1386.47 1811.95,1385.21 1812.4,1382.82 1812.85,1385.46 1813.3,1387.48 1813.75,1383.34 1814.2,1384.41 1814.65,1385.29 1815.1,1381.72 1815.55,1381.66 1816,1379.84 1816.45,1380.54 1816.9,1379.92 1817.35,1380.8 1817.8,1382.29 1818.25,1383.15 1818.7,1381.78 1819.15,1379.82 1819.6,1385.93 1820.05,1384.06 1820.5,1381.08 1820.95,1382.25 1821.4,1383.77 1821.85,1381.9 1822.3,1382.21 1822.75,1383.31 1823.2,1384.61 1823.65,1383.33 1824.1,1385.04 1824.55,1385.34 1825,1385.18 1825.45,1387.07 1825.9,1384.4 1826.35,1381.82 1826.8,1384.18 1827.25,1384.78 1827.7,1384.48 1828.15,1386.62 1828.6,1390.1 1829.05,1387.01 1829.5,1385.35 1829.95,1385.09 1830.4,1387.1 1830.85,1384.56 1831.3,1381.46 1831.75,1381.26 1832.2,1385.15 1832.65,1385.2 1833.1,1380.64 1833.55,1381.89 1834,1386.02 1834.45,1386.15 1834.9,1381.72 1835.35,1382.98 1835.8,1385.5 1836.25,1383.36 1836.7,1382.42 1837.15,1381.69 1837.6,1380.89 1838.05,1383.4" fill="none" stroke="#108E10" stroke-width="1.5"/>
<polyline points="1046.5,1379.73 1046.95,1379.98 1047.4,1378.41 1047.85,1376.88 1048.3,1377 1048.75,1376.9 1049.2,1379.91 1049.65,1382.27 1050.1,1378.92 1050.55,1378.06 1051,1380.43 1051.45,1380.78 1051.9,1379.3 1052.35,1377.41 1052.8,1379.25 1053.25,1380.05 1053.7,1376.57 1054.15,1375.94 1054.6,1373.75 1055.05,1373.63 1055.5,1374.06 1055.95,1376.56 1056.4,1376.59 1056.85,1379.27 1057.3,1379.93 1057.75,1377.25 1058.2,1373.12 1058.65,1376.27 1059.1,1379.06 1059.55,1378.54 1060,1375.68 1060.45,1376.46 1060.9,1376.24 1061.35,1377.69 1061.8,1380.71 1062.25,1378.42 1062.7,1379.48 1063.15,1381.07 1063.6,1378.75 1064.05,1378.88 1064.5,1379.72 1064.95,1378.79 1065.4,1376.77 1065.85,1379.78 1066.3,1381.51 1066.75,1377.63 1067.2,1380.39 1067.65,1379.94 1068.1,1379.65 1068.55,1384.22 1069,1381.88 1069.45,1377.37 1069.9,1379.19 1070.35,1380.75 1070.8,1380.03 1071.25,1380.88 1071.7,1380.39 1072.15,1382.1 1072.6,1382.82 1073.05,1379.2 1073.5,1379.09 1073.95,1378.68 1074.4,1378.52 1074.85,1376.4 1075.3,1377.09 1075.75,1379.29 1076.2,1382.31 1076.65,1381.82 1077.1,1376.71 1077.55,1377.14 1078,1378.85 1078.45,1375.03 1078.9,1376.82 1079.35,1379.89 1079.8,1382.87 1080.25,1381.81 1080.7,1378.99 1081.15,1378.2 1081.6,1379.81 1082.05,1382.5 1082.5,1379.45 1082.95,1378.74 1083.4,1379.99 1083.85,1379.34 1084.3,1378.09 1084.75,1376.76 1085.2,1378.27 1085.65,1379.36 1086.1,1382.36 1086.55,1381.89 1087,1380.46 1087.45,1380.77 1087.9,1380.04 1088.35,1381.67 1088.8,1380.75 1089.25,1379.85 1089.7,1377.23 1090.15,1378 1090.6,1374.29 1091.05,1373.25 1091.5,1376.53 1091.95,1377.31 1092.4,1380.92 1092.85,1384.18 1093.3,1378.83 1093.75,1377.57 1094.2,1379.87 1094.65,1380.66 1095.1,1379.31 1095.55,1379.43 1096,1381.37 1096.45,1380.45 1096.9,1377.45 1097.35,1378.55 1097.8,1378.71 1098.25,1377.29 1098.7,1378.63 1099.15,1378.46 1099.6,1381.24 1100.05,1380.76 1100.5,1379.4 1100.95,1378.11 1101.4,1377.23 1101.85,1373.91 1102.3,1375.62 1102.75,1377.82 1103.2,1375.51 1103.65,1378.47 1104.1,1376.7 1104.55,1379.25 1105,1378.73 1105.45,1380.75 1105.9,1379.22 1106.35,1377.01 1106.8,1382.32 1107.25,1383.75 1107.7,1380.25 1108.15,1378.69 1108.6,1378.17 1109.05,1377.97 1109.5,1380.87 1109.95,1379.05 1110.4,1378.35 1110.85,1377.14 1111.3,1376.45 1111.75,1377.03 1112.2,1381.3 1112.65,1380.86 1113.1,1381.63 1113.55,1379.74 1114,1377.65 1114.45,1377.78 1114.9,1377.96 1115.35,1378.8 1115.8,1378.41 1116.25,1377.45 1116.7,1375.46 1117.15,1377.84 1117.6,1382.19 1118.05,1378.41 1118.5,1376.8 1118.95,1380.55 1119.4,1381.9 1119.85,1377.06 1120.3,1377.41 1120.75,1376.52 1121.2,1375.5 1121.65,1379.82 1122.1,1380.07 1122.55,1379.07 1123,1378.16 1123.45,1379.56 1123.9,1378.49 1124.35,1377.9 1124.8,1375.89 1125.25,1376.86 1125.7,1381.26 1126.15,1379.58 1126.6,1379.76 1127.05,1379.31 1127.5,1378.06 1127.95,1378.47 1128.4,1380.33 1128.85,1379.17 1129.3,1378.93 1129.75,1380.34 1130.2,1382.76 1130.65,1382.28 1131.1,1380.48 1131.55,1377.42 1132,1376.6 1132.45,1381.38 1132.9,1382.36 1133.35,1380.34 1133.8,1381.25 1134.25,1382.37 1134.7,1382.74 1135.15,1381.92 1135.6,1380.32 1136.05,1381.69 1136.5,1378.45 1136.95,1380.91 1137.4,1381.98 1137.85,1383.35 1138.3,1385.67 1138.75,1383.5 1139.2,1376.69 1139.65,1375.34 1140.1,1379.3 1140.55,1377.77 1141,1379.34 1141.45,1380.17 1141.9,1374.72 1142.35,1373.55 1142.8,1378.51 1143.25,1379.61 1143.7,1378.99 1144.15,1378.74 1144.6,1376.37 1145.05,1375.2 1145.5,1377.2 1145.95,1375.85 1146.4,1375.34 1146.85,1379.35 1147.3,1380.06 1147.75,1379.63 1148.2,1377.02 1148.65,1376.44 1149.1,1376 1149.55,1376.83 1150,1378.66 1150.45,1378.11 1150.9,1379.98 1151.35,1382.12 1151.8,1383.37 1152.25,1378.52 1152.7,1380.41 1153.15,1379.97 1153.6,1378.28 1154.05,1375.78 1154.5,1377.89 1154.95,1380.8 1155.4,1379.94 1155.85,1379.4 1156.3,1379.78 1156.75,1381.93 1157.2,1378.64 1157.65,1373.86 1158.1,1374.68 1158.55,1371.9 1159,1370.05 1159.45,1376.79 1159.9,1382.21 1160.35,1379.73 1160.8,1376.1 1161.25,1377.29 1161.7,1381.51 1162.15,1380.77 1162.6,1379.69 1163.05,1379.44 1163.5,1380.17 1163.95,1381.82 1164.4,1381.57 1164.85,1379.62 1165.3,1377.65 1165.75,1379.35 1166.2,1379.15 1166.65,1380.52 1167.1,1377.3 1167.55,1378.19 1168,1378.35 1168.45,1377.76 1168.9,1383.59 1169.35,1383.85 1169.8,1380.15 1170.25,1381.22 1170.7,1378.96 1171.15,1373.94 1171.6,1378.02 1172.05,1379.61 1172.5,1378.81 1172.95,1376.86 1173.4,1377.91 1173.85,1379.8 1174.3,1382.37 1174.75,1381.19 1175.2,1380.92 1175.65,1382.61 1176.1,1379.09 1176.55,1376.77 1177,1376.21 1177.45,1382.47 1177.9,1383.65 1178.35,1382.88 1178.8,1381.84 1179.25,1380.44 1179.7,1379.89 1180.15,1378.93 1180.6,1378.88 1181.05,1380.63 1181.5,1383.47 1181.95,1381.91 1182.4,1379.35 1182.85,1377.62 1183.3,1378.82 1183.75,1383.11 1184.2,1381.96 1184.65,1379.78 1185.1,1377.89 1185.55,1376.61 1186,1379.16 1186.45,1381.17 1186.9,1379.09 1187.35,1378.5 1187.8,1378.9 1188.25,1378.35 1188.7,1375.72 1189.15,1377.07 1189.6,1378.02 1190.05,1380.29 1190.5,1378.84 1190.95,1381.42 1191.4,1383.23 1191.85,1379.49 1192.3,1378.01 1192.75,1379.48 1193.2,1378.88 1193.65,1377.55 1194.1,1381.35 1194.55,1384.32 1195,1380.3 1195.45,1378.02 1195.9,1377.17 1196.35,1378.47 1196.8,1376.01 1197.25,1376.96 1197.7,1380.91 1198.15,1379.23 1198.6,1382.48 1199.05,1384.06 1199.5,1381.7 1199.95,1382.49 1200.4,1384.29 1200.85,1380.09 1201.3,1376.93 1201.75,1375.94 1202.2,1379.69 1202.65,1383.7 1203.1,1382.13 1203.55,1377.4 1204,1376.4 1204.45,1377.9 1204.9,1379.63 1205.35,1379.42 1205.8,1380.07 1206.25,1380.12 1206.7,1379.01 1207.15,1379.34 1207.6,1379.88 1208.05,1379.85 1208.5,1382.04 1208.95,1384.67 1209.4,1382.36 1209.85,1378.78 1210.3,1375.94 1210.75,1377.59 1211.2,1374.21 1211.65,1375.4 1212.1,1380.94 1212.55,1381.68 1213,1378.38 1213.45,1375.14 1213.9,1376.8 1214.35,1378.13 1214.8,1382.19 1215.25,1385.38 1215.7,1381.14 1216.15,1376.96 1216.6,1376.15 1217.05,1378.33 1217.5,1378.16 1217.95,1376.79 1218.4,1377.99 1218.85,1377.78 1219.3,1382.01 1219.75,1383.65 1220.2,1382.46 1220.65,1379.64 1221.1,1380.22 1221.55,1379.29 1222,1378.24 1222.45,1377.41 1222.9,1375.12 1223.35,1375.77 1223.8,1380.08 1224.25,1379.84 1224.7,1380.63 1225.15,1380.65 1225.6,1375.66 1226.05,1376.48 1226.5,1379.6 1226.95,1380.25 1227.4,1379.72 1227.85,1381.75 1228.3,1379.84 1228.75,1376.14 1229.2,1377.03 1229.65,1381 1230.1,1379.73 1230.55,1376.5 1231,1381.61 1231.45,1382.96 1231.9,1382.77 1232.35,1379.42 1232.8,1377.65 1233.25,1378.62 1233.7,1384.37 1234.15,1382.28 1234.6,1382.54 1235.05,1379.35 1235.5,1378.09 1235.95,1375.46 1236.4,1378.08 1236.85,1380.52 1237.3,1378.19 1237.75,1381.28 1238.2,1380.3 1238.65,1376.96 1239.1,1377.18 1239.55,1378.01 1240,1378.62 1240.45,1377.58 1240.9,1376.94 1241.35,1377.36 1241.8,1375.89 1242.25,1375.69 1242.7,1379.07 1243.15,1380.33 1243.6,1376.64 1244.05,1377.83 1244.5,1377.24 1244.95,1377.39 1245.4,1380.32 1245.85,1380.11 1246.3,1381.97 1246.75,1379.15 1247.2,1379.62 1247.65,1378.69 1248.1,1378.03 1248.55,1380.16 1249,1380.06 1249.45,1380.74 1249.9,1379.02 1250.35,1376.87 1250.8,1378.47 1251.25,1380.28 1251.7,1381.06 1252.15,1378.11 1252.6,1377.38 1253.05,1375.99 1253.5,1378.84 1253.95,1376.11 1254.4,1374.44 1254.85,1378.82 1255.3,1380.84 1255.75,1375.98 1256.2,1375.23 1256.65,1376.07 1257.1,1376.6 1257.55,1378.88 1258,1377.37 1258.45,1377.66 1258.9,1379.71 1259.35,1378.53 1259.8,1379.17 1260.25,1376.65 1260.7,1374.53 1261.15,1375.75 1261.6,1382.14 1262.05,1380.38 1262.5,1379.79 1262.95,1379.74 1263.4,1379.88 1263.85,1381.21 1264.3,1383.15 1264.75,1377.37 1265.2,1374.31 1265.65,1374.93 1266.1,1376.21 1266.55,1380.83 1267,1381.23 1267.45,1376.83 1267.9,1375.27 1268.35,1378.68 1268.8,1380.27 1269.25,1374.45 1269.7,1377.71 1270.15,1378.22 1270.6,1380.25 1271.05,1377.59 1271.5,1376.85 1271.95,1375.04 1272.4,1377.14 1272.85,1382.59 1273.3,1382.16 1273.75,1378.53 1274.2,1375.71 1274.65,1374.14 1275.1,1377.1 1275.55,1379.06 1276,1379.21 1276.45,1378.35 1276.9,1376.78 1277.35,1378.45 1277.8,1380.35 1278.25,1383.9 1278.7,1384.71 1279.15,1380.03 1279.6,1377.57 1280.05,1378.29 1280.5,1377.47 1280.95,1377.27 1281.4,1377.99 1281.85,1377.51 1282.3,1380.02 1282.75,1379.92 1283.2,1379.86 1283.65,1378.71 1284.1,1376.94 1284.55,1376.56 1285,1377.8 1285.45,1378.23 1285.9,1379.61 1286.35,1378.62 1286.8,1376.39 1287.25,1377.57 1287.7,1375.97 1288.15,1376.81 1288.6,1376.74 1289.05,1374.54 1289.5,1378.23 1289.95,1379.8 1290.4,1378.92 1290.85,1378.11 1291.3,1377.55 1291.75,1376.74 1292.2,1377.7 1292.65,1378.08 1293.1,1378.36 1293.55,1376.96 1294,1379.23 1294.45,1379.9 1294.9,1378.94 1295.35,1378.8 1295.8,1379.15 1296.25,1376.43 1296.7,1379.47 1297.15,1380.64 1297.6,1380.64 1298.05,1380.1 1298.5,1378.08 1298.95,1378.89 1299.4,1381.11 1299.85,1381.15 1300.3,1379.14 1300.75,1376.57 1301.2,1380.48 1301.65,1383.4 1302.1,1382.92 1302.55,1379.62 1303,1376.8 1303.45,1380.37 1303.9,1377.93 1304.35,1373.82 1304.8,1377.27 1305.25,1375.34 1305.7,1374.86 1306.15,1378.01 1306.6,1381.67 1307.05,1379.83 1307.5,1381.19 1307.95,1384.98 1308.4,1384.46 1308.85,1380.3 1309.3,1377.89 1309.75,1375.86 1310.2,1377.25 1310.65,1380.25 1311.1,1380.83 1311.55,1380.83 1312,1381.29 1312.45,1378.44 1312.9,1379.34 1313.35,1381.6 1313.8,1382.24 1314.25,1382.73 1314.7,1381.01 1315.15,1379.37 1315.6,1379.33 1316.05,1376.19 1316.5,1375.38 1316.95,1379.54 1317.4,1380.06 1317.85,1378.86 1318.3,1375.53 1318.75,1376.88 1319.2,1377.16 1319.65,1375.3 1320.1,1373.36 1320.55,1377.68 1321,1381.61 1321.45,1380.61 1321.9,1378.39 1322.35,1379.58 1322.8,1379.11 1323.25,1373.6 1323.7,1377.5 1324.15,1381.19 1324.6,1382.81 1325.05,1384.84 1325.5,1383.68 1325.95,1381.33 1326.4,1381.05 1326.85,1381.14 1327.3,1378.83 1327.75,1379.69 1328.2,1383.08 1328.65,1384.61 1329.1,1380.6 1329.55,1379.42 1330,1380.96 1330.45,1382.74 1330.9,1381.6 1331.35,1382.13 1331.8,1378.25 1332.25,1378.17 1332.7,1379.5 1333.15,1381.97 1333.6,1381.36 1334.05,1376.11 1334.5,1376.48 1334.95,1379.06 1335.4,1377.06 1335.85,1376.27 1336.3,1381.11 1336.75,1381.82 1337.2,1380.65 1337.65,1379.57 1338.1,1381.33 1338.55,1380.58 1339,1381.15 1339.45,1377.58 1339.9,1376.98 1340.35,1378.77 1340.8,1378.55 1341.25,1380.72 1341.7,1379.91 1342.15,1377.62 1342.6,1378.68 1343.05,1379.45 1343.5,1380.86 1343.95,1378.4 1344.4,1378.93 1344.85,1383.69 1345.3,1387.16 1345.75,1385.9 1346.2,1381.36 1346.65,1381.24 1347.1,1383.12 1347.55,1379.64 1348,1377.23 1348.45,1379.36 1348.9,1379.99 1349.35,1376.66 1349.8,1373.94 1350.25,1375.42 1350.7,1379.35 1351.15,1378.15 1351.6,1378.75 1352.05,1380.36 1352.5,1380.84 1352.95,1379.59 1353.4,1379.71 1353.85,1377.54 1354.3,1377.18 1354.75,1377.72 1355.2,1381.31 1355.65,1379.74 1356.1,1377.49 1356.55,1377.94 1357,1379.25 1357.45,1379.72 1357.9,1375.55 1358.35,1375.58 1358.8,1379.78 1359.25,1385.8 1359.7,1383.58 1360.15,1380.53 1360.6,1382.65 1361.05,1384.63 1361.5,1380.26 1361.95,1379.41 1362.4,1382.4 1362.85,1382.1 1363.3,1381.04 1363.75,1380.32 1364.2,1384.88 1364.65,1385.38 1365.1,1382.65 1365.55,1379.95 1366,1375.83 1366.45,1379.26 1366.9,1379.88 1367.35,1380.88 1367.8,1381.15 1368.25,1377.93 1368.7,1375.61 1369.15,1378.47 1369.6,1377.81 1370.05,1377.7 1370.5,1377.58 1370.95,1376.46 1371.4,1374.83 1371.85,1380.73 1372.3,1381.88 1372.75,1383.79 1373.2,1384.96 1373.65,1379.69 1374.1,1374.65 1374.55,1375.11 1375,1375.63 1375.45,1377.47 1375.9,1377.75 1376.35,1375.19 1376.8,1377.58 1377.25,1376.5 1377.7,1378.94 1378.15,1379.23 1378.6,1378.63 1379.05,1378.67 1379.5,1377.72 1379.95,1376.37 1380.4,1375.11 1380.85,1379.56 1381.3,1385.27 1381.75,1386.53 1382.2,1384.63 1382.65,1381.63 1383.1,1379.59 1383.55,1382.27 1384,1380.43 1384.45,1379.07 1384.9,1378.84 1385.35,1379.15 1385.8,1378.5 1386.25,1378.13 1386.7,1376.64 1387.15,1379.56 1387.6,1384.43 1388.05,1380.91 1388.5,1379.3 1388.95,1381.09 1389.4,1380.69 1389.85,1377.31 1390.3,1378.87 1390.75,1381.67 1391.2,1380.93 1391.65,1381.19 1392.1,1382.67 1392.55,1379.19 1393,1378.77 1393.45,1379.51 1393.9,1381.04 1394.35,1375.61 1394.8,1376.03 1395.25,1378.27 1395.7,1381.09 1396.15,1382.49 1396.6,1381.98 1397.05,1377.51 1397.5,1379.79 1397.95,1378.88 1398.4,1378.15 1398.85,1379.52 1399.3,1376.18 1399.75,1373.7 1400.2,1375.88 1400.65,1375.25 1401.1,1377.13 1401.55,1380.1 1402,1381.73 1402.45,1383.26 1402.9,1379.08 1403.35,1375.21 1403.8,1375.86 1404.25,1375.85 1404.7,1376.31 1405.15,1379.07 1405.6,1376.82 1406.05,1374.96 1406.5,1379.5 1406.95,1380.05 1407.4,1380.32 1407.85,1380.5 1408.3,1381.07 1408.75,1381.03 1409.2,1382.72 1409.65,1381.74 1410.1,1381.05 1410.55,1379.62 1411,1376.32 1411.45,1377.79 1411.9,1378.93 1412.35,1378.73 1412.8,1377.77 1413.25,1382.31 1413.7,1380.07 1414.15,1375.46 1414.6,1374.39 1415.05,1377.46 1415.5,1378.52 1415.95,1377.84 1416.4,1378.66 1416.85,1378.51 1417.3,1379.72 1417.75,1378.22 1418.2,1379.6 1418.65,1383.72 1419.1,1385.43 1419.55,1378.79 1420,1377 1420.45,1377.8 1420.9,1379.78 1421.35,1377.07 1421.8,1377.47 1422.25,1378.3 1422.7,1376.47 1423.15,1376.16 1423.6,1376.04 1424.05,1373.15 1424.5,1374.21 1424.95,1377.54 1425.4,1379.38 1425.85,1377.81 1426.3,1374.89 1426.75,1377.67 1427.2,1381.42 1427.65,1381.34 1428.1,1379.06 1428.55,1377.87 1429,1379.83 1429.45,1377.74 1429.9,1375.73 1430.35,1377.86 1430.8,1382.4 1431.25,1382.02 1431.7,1381.98 1432.15,1380.01 1432.6,1380.83 1433.05,1378.71 1433.5,1380.59 1433.95,1385.72 1434.4,1382.8 1434.85,1378.86 1435.3,1379.17 1435.75,1381.12 1436.2,1382.17 1436.65,1377.95 1437.1,1374.87 1437.55,1377.52 1438,1379.4 1438.45,1380.78 1438.9,1382.87 1439.35,1381.87 1439.8,1380.77 1440.25,1378.24 1440.7,1382.27 1441.15,1385.61 1441.6,1383.1 1442.05,1380.8 1442.5,1381.43 1442.95,1383.03 1443.4,1378.64 1443.85,1378.88 1444.3,1381.05 1444.75,1381.23 1445.2,1379.29 1445.65,1379.65 1446.1,1379.18 1446.55,1379.46 1447,1378.4 1447.45,1376.73 1447.9,1379.24 1448.35,1380.76 1448.8,1377.75 1449.25,1378.7 1449.7,1380.02 1450.15,1377.67 1450.6,1378.27 1451.05,1378.06 1451.5,1383.09 1451.95,1387.28 1452.4,1385.79 1452.85,1381.12 1453.3,1381.13 1453.75,1380.42 1454.2,1381.02 1454.65,1382.14 1455.1,1378.45 1455.55,1380.88 1456,1381.28 1456.45,1382.86 1456.9,1380.49 1457.35,1378.29 1457.8,1380.18 1458.25,1381.44 1458.7,1380.52 1459.15,1380.24 1459.6,1377.01 1460.05,1374.84 1460.5,1380.47 1460.95,1381.92 1461.4,1380.42 1461.85,1380.56 1462.3,1381.59 1462.75,1378.68 1463.2,1377.35 1463.65,1379.42 1464.1,1381.02 1464.55,1378.11 1465,1380.68 1465.45,1378.08 1465.9,1377.42 1466.35,1381.48 1466.8,1379.23 1467.25,1376.12 1467.7,1378.37 1468.15,1382.28 1468.6,1382.63 1469.05,1379.73 1469.5,1380.64 1469.95,1380.95 1470.4,1378.81 1470.85,1379.78 1471.3,1379.27 1471.75,1377.83 1472.2,1377.98 1472.65,1379.28 1473.1,1379.16 1473.55,1377.86 1474,1378.91 1474.45,1381.89 1474.9,1381.51 1475.35,1382.61 1475.8,1383.39 1476.25,1383.51 1476.7,1384.55 1477.15,1379.94 1477.6,1380.46 1478.05,1380.79 1478.5,1384.83 1478.95,1383.33 1479.4,1375.51 1479.85,1376.23 1480.3,1380.86 1480.75,1382.37 1481.2,1381.72 1481.65,1380.22 1482.1,1380.96 1482.55,1381.26 1483,1380.57 1483.45,1380.03 1483.9,1375.51 1484.35,1378.38 1484.8,1378.29 1485.25,1380.7 1485.7,1378.98 1486.15,1377.5 1486.6,1378.93 1487.05,1376.92 1487.5,1375.42 1487.95,1375.09 1488.4,1378.55 1488.85,1381.36 1489.3,1382.08 1489.75,1380.71 1490.2,1381.77 1490.65,1380.21 1491.1,1379.67 1491.55,1381.5 1492,1382.06 1492.45,1379.26 1492.9,1378.47 1493.35,1378.93 1493.8,1378.79 1494.25,1378.19 1494.7,1380.79 1495.15,1379.64 1495.6,1379.53 1496.05,1378.13 1496.5,1379.9 1496.95,1380.26 1497.4,1380.29 1497.85,1384.04 1498.3,1383.18 1498.75,1384.53 1499.2,1382.47 1499.65,1378.3 1500.1,1378.32 1500.55,1380.14 1501,1379.89 1501.45,1379.31 1501.9,1377.35 1502.35,1374.79 1502.8,1375.73 1503.25,1374.34 1503.7,1377.94 1504.15,1377.41 1504.6,1376.96 1505.05,1378.49 1505.5,1378.7 1505.95,1374.88 1506.4,1373.36 1506.85,1373.94 1507.3,1373.03 1507.75,1376.73 1508.2,1381.43 1508.65,1378.59 1509.1,1378.94 1509.55,1376.86 1510,1378.68 1510.45,1378.73 1510.9,1379.34 1511.35,1381.9 1511.8,1383.92 1512.25,1381.17 1512.7,1378.95 1513.15,1377.55 1513.6,1379.65 1514.05,1379.76 1514.5,1380.93 1514.95,1381.11 1515.4,1381.68 1515.85,1375.74 1516.3,1377.67 1516.75,1380.74 1517.2,1378.44 1517.65,1376.87 1518.1,1376.88 1518.55,1375.85 1519,1380.24 1519.45,1385.76 1519.9,1382.81 1520.35,1376.76 1520.8,1375.92 1521.25,1378.26 1521.7,1380.46 1522.15,1377.4 1522.6,1377.5 1523.05,1381.21 1523.5,1381.4 1523.95,1377.92 1524.4,1374.88 1524.85,1373.93 1525.3,1374.34 1525.75,1373.7 1526.2,1378.29 1526.65,1378.16 1527.1,1380.61 1527.55,1383.95 1528,1381.32 1528.45,1376.45 1528.9,1378.59 1529.35,1377.54 1529.8,1370.82 1530.25,1369.72 1530.7,1372.77 1531.15,1374 1531.6,1377.85 1532.05,1372.71 1532.5,1373.63 1532.95,1376.77 1533.4,1377.91 1533.85,1379 1534.3,1379.22 1534.75,1379.25 1535.2,1379.49 1535.65,1374.61 1536.1,1376.49 1536.55,1377.14 1537,1378.62 1537.45,1378.6 1537.9,1376.25 1538.35,1377.1 1538.8,1380.28 1539.25,1379.55 1539.7,1378.92 1540.15,1384.61 1540.6,1384.41 1541.05,1377.24 1541.5,1380.1 1541.95,1385.22 1542.4,1382.48 1542.85,1379.5 1543.3,1377.8 1543.75,1376.93 1544.2,1377.16 1544.65,1377.61 1545.1,1379.44 1545.55,1377.73 1546,1376.14 1546.45,1375.21 1546.9,1376.6 1547.35,1376.05 1547.8,1377.95 1548.25,1380.75 1548.7,1380.18 1549.15,1379.78 1549.6,1379.21 1550.05,1378.12 1550.5,1377.11 1550.95,1377.04 1551.4,1377.39 1551.85,1374.79 1552.3,1376.03 1552.75,1371.5 1553.2,1368.62 1553.65,1371.16 1554.1,1373.61 1554.55,1375.79 1555,1376.4 1555.45,1378.86 1555.9,1374.87 1556.35,1371.24 1556.8,1372.75 1557.25,1372.54 1557.7,1376.99 1558.15,1380.75 1558.6,1379.12 1559.05,1374.66 1559.5,1376.42 1559.95,1381.61 1560.4,1379.94 1560.85,1378.88 1561.3,1382.14 1561.75,1385.27 1562.2,1382.77 1562.65,1379.34 1563.1,1379.13 1563.55,1378.94 1564,1375.93 1564.45,1374.78 1564.9,1376.21 1565.35,1375.42 1565.8,1376.79 1566.25,1379.54 1566.7,1382.37 1567.15,1377.24 1567.6,1376.4 1568.05,1377.29 1568.5,1379.08 1568.95,1379.73 1569.4,1376.34 1569.85,1373.7 1570.3,1372.03 1570.75,1374.1 1571.2,1377.57 1571.65,1376.63 1572.1,1374.14 1572.55,1374.93 1573,1376.45 1573.45,1376.61 1573.9,1374.08 1574.35,1371.77 1574.8,1367.01 1575.25,1365.86 1575.7,1364.29 1576.15,1357.58 1576.6,1364.52 1577.05,1371.08 1577.5,1372.07 1577.95,1372.33 1578.4,1374.36 1578.85,1375.29 1579.3,1373.83 1579.75,1370.81 1580.2,1372.47 1580.65,1371.54 1581.1,1370.55 1581.55,1369.75 1582,1369.13 1582.45,1371.39 1582.9,1372.66 1583.35,1376.89 1583.8,1379.48 1584.25,1380.32 1584.7,1380 1585.15,1376.82 1585.6,1376.47 1586.05,1377.16 1586.5,1374.14 1586.95,1375.57 1587.4,1375.23 1587.85,1373.99 1588.3,1371.61 1588.75,1373.2 1589.2,1376.58 1589.65,1379.44 1590.1,1379.55 1590.55,1377.07 1591,1375.49 1591.45,1374.87 1591.9,1376.72 1592.35,1376.82 1592.8,1379.18 1593.25,1381.1 1593.7,1376.72 1594.15,1372.44 1594.6,1372.31 1595.05,1371.62 1595.5,1373.68 1595.95,1378.84 1596.4,1376.91 1596.85,1373.71 1597.3,1377.85 1597.75,1379.68 1598.2,1376.14 1598.65,1374.42 1599.1,1375.43 1599.55,1377.4 1600,1379.11 1600.45,1380.66 1600.9,1381.12 1601.35,1381.21 1601.8,1381.05 1602.25,1377.86 1602.7,1373.32 1603.15,1375.21 1603.6,1376.78 1604.05,1376.5 1604.5,1377.97 1604.95,1375.59 1605.4,1375.12 1605.85,1379.56 1606.3,1379.24 1606.75,1378.15 1607.2,1379.54 1607.65,1379.84 1608.1,1376.11 1608.55,1370.45 1609,1372.58 1609.45,1374.05 1609.9,1373.9 1610.35,1376.99 1610.8,1378.91 1611.25,1375.29 1611.7,1374.92 1612.15,1379.82 1612.6,1375.92 1613.05,1373.32 1613.5,1376.26 1613.95,1376.95 1614.4,1375.63 1614.85,1377.22 1615.3,1375.07 1615.75,1373.91 1616.2,1376.57 1616.65,1377.69 1617.1,1375.62 1617.55,1376.42 1618,1378.41 1618.45,1382.08 1618.9,1377.73 1619.35,1378.69 1619.8,1376.87 1620.25,1376.17 1620.7,1378.13 1621.15,1379.36 1621.6,1379.48 1622.05,1376.69 1622.5,1373.6 1622.95,1373.45 1623.4,1375.42 1623.85,1376.14 1624.3,1375.84 1624.75,1372 1625.2,1367.97 1625.65,1360.21 1626.1,1352.5 1626.55,1354.96 1627,1360.77 1627.45,1365.97 1627.9,1372 1628.35,1369.91 1628.8,1370.22 1629.25,1366.26 1629.7,1359.87 1630.15,1356.32 1630.6,1361.13 1631.05,1366.95 1631.5,1371.21 1631.95,1373.04 1632.4,1372.99 1632.85,1375.57 1633.3,1377.67 1633.75,1373.12 1634.2,1374.45 1634.65,1374.3 1635.1,1376.58 1635.55,1378.37 1636,1377.53 1636.45,1377.03 1636.9,1374.35 1637.35,1377.51 1637.8,1376.64 1638.25,1377.87 1638.7,1375.71 1639.15,1370.41 1639.6,1373.31 1640.05,1378.04 1640.5,1380.94 1640.95,1379.05 1641.4,1376.74 1641.85,1375.08 1642.3,1380.69 1642.75,1382.41 1643.2,1378.42 1643.65,1375.42 1644.1,1373.95 1644.55,1380.09 1645,1384.72 1645.45,1381.97 1645.9,1381.18 1646.35,1378.77 1646.8,1376.5 1647.25,1378.73 1647.7,1375.38 1648.15,1376.17 1648.6,1378.58 1649.05,1380.02 1649.5,1379.4 1649.95,1378.11 1650.4,1375.04 1650.85,1374 1651.3,1376.14 1651.75,1374.96 1652.2,1373.03 1652.65,1373.29 1653.1,1374.08 1653.55,1371.94 1654,1371.86 1654.45,1373 1654.9,1377.18 1655.35,1380.36 1655.8,1381.55 1656.25,1375.32 1656.7,1375.76 1657.15,1379.22 1657.6,1377.77 1658.05,1378.23 1658.5,1381.29 1658.95,1377.51 1659.4,1373.93 1659.85,1374.22 1660.3,1377.92 1660.75,1377.84 1661.2,1374.25 1661.65,1375.04 1662.1,1378.91 1662.55,1379.25 1663,1377.45 1663.45,1379.41 1663.9,1378.46 1664.35,1374.12 1664.8,1376.28 1665.25,1378.34 1665.7,1375.42 1666.15,1372.47 1666.6,1376.36 1667.05,1380.82 1667.5,1380.63 1667.95,1376.24 1668.4,1381.55 1668.85,1378.19 1669.3,1380.31 1669.75,1382.33 1670.2,1381.27 1670.65,1378.06 1671.1,1375.66 1671.55,1377.59 1672,1374.24 1672.45,1372.79 1672.9,1381.57 1673.35,1380.64 1673.8,1377.61 1674.25,1370.4 1674.7,1368.4 1675.15,1369.08 1675.6,1373.1 1676.05,1372.89 1676.5,1372.08 1676.95,1373.23 1677.4,1370.44 1677.85,1371.86 1678.3,1375.85 1678.75,1375.57 1679.2,1376.84 1679.65,1379.28 1680.1,1383.64 1680.55,1382.78 1681,1380.21 1681.45,1380.58 1681.9,1377.32 1682.35,1377.8 1682.8,1379.38 1683.25,1376.12 1683.7,1375.89 1684.15,1375.33 1684.6,1379.02 1685.05,1381.78 1685.5,1378.15 1685.95,1377.66 1686.4,1375.54 1686.85,1373.9 1687.3,1375.4 1687.75,1381.96 1688.2,1384.17 1688.65,1378.67 1689.1,1373.73 1689.55,1372.13 1690,1369.3 1690.45,1373.15 1690.9,1376.03 1691.35,1377.69 1691.8,1378.49 1692.25,1376.67 1692.7,1375.47 1693.15,1373.75 1693.6,1375.08 1694.05,1374.89 1694.5,1376.54 1694.95,1376.53 1695.4,1378.67 1695.85,1378.9 1696.3,1375.33 1696.75,1375.22 1697.2,1376.71 1697.65,1381.29 1698.1,1384.17 1698.55,1382.02 1699,1380 1699.45,1380.99 1699.9,1377.83 1700.35,1380.85 1700.8,1376.56 1701.25,1374.18 1701.7,1384.29 1702.15,1384 1702.6,1378.06 1703.05,1378.54 1703.5,1378.83 1703.95,1378.05 1704.4,1375.25 1704.85,1376.77 1705.3,1379.86 1705.75,1380.94 1706.2,1382.15 1706.65,1382.06 1707.1,1384.09 1707.55,1379.5 1708,1377.71 1708.45,1373.94 1708.9,1375.79 1709.35,1380.52 1709.8,1378.39 1710.25,1379.58 1710.7,1378.58 1711.15,1376.38 1711.6,1377.09 1712.05,1377.25 1712.5,1378.13 1712.95,1380.92 1713.4,1380.68 1713.85,1377.47 1714.3,1376.64 1714.75,1378.8 1715.2,1379.65 1715.65,1383.16 1716.1,1386.31 1716.55,1382.58 1717,1378.9 1717.45,1377.18 1717.9,1375.17 1718.35,1374.04 1718.8,1373.61 1719.25,1373.86 1719.7,1373.27 1720.15,1371.48 1720.6,1363.84 1721.05,1358.96 1721.5,1363.75 1721.95,1373.89 1722.4,1377.06 1722.85,1379.28 1723.3,1378.21 1723.75,1376.06 1724.2,1369.47 1724.65,1365.35 1725.1,1364.93 1725.55,1365.46 1726,1374.25 1726.45,1379.53 1726.9,1378.96 1727.35,1380.15 1727.8,1380.7 1728.25,1377.83 1728.7,1378.11 1729.15,1376.28 1729.6,1375.92 1730.05,1376.7 1730.5,1378.18 1730.95,1379.56 1731.4,1379.09 1731.85,1377.64 1732.3,1383.6 1732.75,1384.03 1733.2,1381.53 1733.65,1378.86 1734.1,1379.17 1734.55,1380.8 1735,1379.35 1735.45,1376.21 1735.9,1382.03 1736.35,1385.35 1736.8,1378.03 1737.25,1380.52 1737.7,1380.91 1738.15,1380.46 1738.6,1381.59 1739.05,1377.77 1739.5,1379.98 1739.95,1382.82 1740.4,1379.74 1740.85,1378.33 1741.3,1378.98 1741.75,1379.66 1742.2,1382.01 1742.65,1379.17 1743.1,1379.77 1743.55,1377.66 1744,1379.93 1744.45,1377.65 1744.9,1373.19 1745.35,1376.52 1745.8,1376.53 1746.25,1378.75 1746.7,1381.85 1747.15,1377.16 1747.6,1377.17 1748.05,1382.12 1748.5,1382.08 1748.95,1383.46 1749.4,1380.74 1749.85,1377.55 1750.3,1379.57 1750.75,1383.07 1751.2,1382.67 1751.65,1380.24 1752.1,1379.48 1752.55,1378.77 1753,1379.52 1753.45,1383.6 1753.9,1380.11 1754.35,1376.4 1754.8,1378 1755.25,1381.32 1755.7,1381.46 1756.15,1379.12 1756.6,1377.78 1757.05,1377.67 1757.5,1374.47 1757.95,1375.68 1758.4,1379.96 1758.85,1379.26 1759.3,1380.95 1759.75,1383.18 1760.2,1382 1760.65,1381.72 1761.1,1385.08 1761.55,1382.47 1762,1379.74 1762.45,1381.26 1762.9,1380.35 1763.35,1377.82 1763.8,1378.84 1764.25,1377.58 1764.7,1374.53 1765.15,1377.28 1765.6,1378.32 1766.05,1376.91 1766.5,1374.94 1766.95,1377.3 1767.4,1379.19 1767.85,1378.79 1768.3,1377.36 1768.75,1379.12 1769.2,1376.91 1769.65,1379.02 1770.1,1381.86 1770.55,1378.47 1771,1378.57 1771.45,1381.33 1771.9,1379.19 1772.35,1378.65 1772.8,1380.61 1773.25,1380.41 1773.7,1374.42 1774.15,1374.97 1774.6,1375.57 1775.05,1375.43 1775.5,1375.93 1775.95,1377.05 1776.4,1378.83 1776.85,1377.71 1777.3,1379.39 1777.75,1379.96 1778.2,1378.18 1778.65,1380.51 1779.1,1383.73 1779.55,1381.04 1780,1378.18 1780.45,1378.11 1780.9,1377.48 1781.35,1380.09 1781.8,1381.1 1782.25,1378.07 1782.7,1379.22 1783.15,1381.56 1783.6,1379.34 1784.05,1378.73 1784.5,1376.57 1784.95,1376.34 1785.4,1379.31 1785.85,1383.81 1786.3,1379.81 1786.75,1377.51 1787.2,1377.65 1787.65,1379.18 1788.1,1381.03 1788.55,1382.02 1789,1384.56 1789.45,1382.69 1789.9,1383.22 1790.35,1381.72 1790.8,1379.99 1791.25,1376.52 1791.7,1378.03 1792.15,1379.05 1792.6,1377.22 1793.05,1375 1793.5,1379.57 1793.95,1378.94 1794.4,1377.98 1794.85,1378.39 1795.3,1379.08 1795.75,1379.28 1796.2,1376.15 1796.65,1376.58 1797.1,1379.56 1797.55,1379.76 1798,1378.29 1798.45,1377.23 1798.9,1377.07 1799.35,1379.63 1799.8,1381.36 1800.25,1379.13 1800.7,1382.85 1801.15,1382.27 1801.6,1379.7 1802.05,1379.83 1802.5,1375.37 1802.95,1373.36 1803.4,1374.86 1803.85,1377.3 1804.3,1378.03 1804.75,1378.13 1805.2,1377.68 1805.65,1375.01 1806.1,1377.9 1806.55,1376.08 1807,1376.55 1807.45,1377.14 1807.9,1375.44 1808.35,1374.65 1808.8,1376.1 1809.25,1379.15 1809.7,1381.29 1810.15,1380.49 1810.6,1377.02 1811.05,1376.19 1811.5,1377.1 1811.95,1378.25 1812.4,1376.08 1812.85,1380.41 1813.3,1378.72 1813.75,1377.57 1814.2,1380.47 1814.65,1382.41 1815.1,1381.9 1815.55,1382.3 1816,1381.57 1816.45,1383.4 1816.9,1383.25 1817.35,1381.34 1817.8,1382.88 1818.25,1381.05 1818.7,1379.11 1819.15,1377.21 1819.6,1378.72 1820.05,1380.06 1820.5,1377.56 1820.95,1380.26 1821.4,1381.02 1821.85,1378.7 1822.3,1374.52 1822.75,1378.05 1823.2,1380.33 1823.65,1378.3 1824.1,1377.28 1824.55,1374.58 1825,1378.7 1825.45,1379.15 1825.9,1379.58 1826.35,1376.44 1826.8,1379.49 1827.25,1380.1 1827.7,1380.47 1828.15,1377.5 1828.6,1379.08 1829.05,1383.57 1829.5,1378.76 1829.95,1377.01 1830.4,1377.52 1830.85,1377.83 1831.3,1382.79 1831.75,1383.86 1832.2,1377.87 1832.65,1375.86 1833.1,1381.73 1833.55,1383.6 1834,1383.14 1834.45,1382.14 1834.9,1378.25 1835.35,1377.37 1835.8,1375.07 1836.25,1375.9 1836.7,1380.15 1837.15,1380.46 1837.6,1384.31 1838.05,1381.43" fill="none" stroke="#FF1A1A" stroke-width="1.5"/>
<line x1="1237.2" y1="1380" x2="1237.2" y2="1339.5" stroke="#FF1A1A" stroke-width="1.6"/>
<rect x="1487" y="1177.5" width="85" height="142.5" fill="none" stroke="#111" stroke-width="2" stroke-dasharray="5 3"/>
<rect x="1628.75" y="1177.5" width="89.1" height="142.5" fill="none" stroke="#111" stroke-width="2" stroke-dasharray="5 3"/>
<path d="M1489.16,1283.6 C1489.93,1287.43 1492.31,1303.85 1493.75,1306.55 C1495.19,1309.25 1496.45,1301.6 1497.8,1299.8 C1499.15,1298 1500.5,1295.98 1501.85,1295.75 C1503.2,1295.53 1504.55,1300.03 1505.9,1298.45 C1507.25,1296.88 1508.6,1289.23 1509.95,1286.3 C1511.3,1283.38 1512.88,1282.48 1514,1280.9 C1515.13,1279.33 1515.71,1275.05 1516.7,1276.85 C1517.69,1278.65 1518.82,1290.35 1519.94,1291.7 C1521.07,1293.05 1522.28,1284.95 1523.45,1284.95 C1524.62,1284.95 1525.84,1291.48 1526.96,1291.7 C1528.09,1291.93 1528.99,1283.83 1530.2,1286.3 C1531.42,1288.78 1532.9,1304.3 1534.25,1306.55 C1535.6,1308.8 1536.95,1300.7 1538.3,1299.8 C1539.65,1298.9 1541,1299.35 1542.35,1301.15 C1543.7,1302.95 1545.05,1311.28 1546.4,1310.6 C1547.75,1309.93 1549.33,1300.03 1550.45,1297.1 C1551.58,1294.18 1552.12,1291.25 1553.15,1293.05 C1554.19,1294.85 1555.45,1307.9 1556.66,1307.9 C1557.88,1307.9 1559.23,1295.75 1560.44,1293.05 C1561.66,1290.35 1562.78,1292.6 1563.95,1291.7 C1565.12,1290.8 1566.43,1285.4 1567.46,1287.65 C1568.5,1289.9 1569.71,1302.28 1570.16,1305.2" fill="none" stroke="#4CC04C" stroke-width="1.5"/>
<path d="M1489.16,1282.25 C1489.7,1282.12 1491.41,1280.32 1492.4,1281.44 C1493.39,1282.57 1494.2,1286.17 1495.1,1289 C1496,1291.84 1496.9,1301.6 1497.8,1298.45 C1498.7,1295.3 1499.38,1276.18 1500.5,1270.1 C1501.63,1264.03 1503.29,1264.93 1504.55,1262 C1505.81,1259.08 1507.16,1252.55 1508.06,1252.55 C1508.96,1252.55 1509.05,1261.78 1509.95,1262 C1510.85,1262.23 1512.52,1259.75 1513.46,1253.9 C1514.41,1248.05 1514.95,1235.45 1515.62,1226.9 C1516.3,1218.35 1516.79,1204.85 1517.51,1202.6 C1518.23,1200.35 1518.95,1203.5 1519.94,1213.4 C1520.93,1223.3 1522.28,1250.3 1523.45,1262 C1524.62,1273.7 1525.75,1284.5 1526.96,1283.6 C1528.18,1282.7 1529.3,1260.65 1530.74,1256.6 C1532.18,1252.55 1534.25,1258.4 1535.6,1259.3 C1536.95,1260.2 1537.81,1266.95 1538.84,1262 C1539.88,1257.05 1540.78,1239.5 1541.81,1229.6 C1542.85,1219.7 1543.84,1201.7 1545.05,1202.6 C1546.27,1203.5 1547.75,1223.75 1549.1,1235 C1550.45,1246.25 1551.8,1266.28 1553.15,1270.1 C1554.5,1273.93 1555.85,1256.83 1557.2,1257.95 C1558.55,1259.08 1559.68,1275.05 1561.25,1276.85 C1562.83,1278.65 1565.17,1269.88 1566.65,1268.75 C1568.14,1267.63 1569.58,1269.88 1570.16,1270.1" fill="none" stroke="#F45050" stroke-width="1.5"/>
<path d="M1630.64,1289 C1631,1287.2 1631.77,1277.3 1632.8,1278.2 C1633.84,1279.1 1635.5,1291.03 1636.85,1294.4 C1638.2,1297.78 1639.33,1300.25 1640.9,1298.45 C1642.48,1296.65 1644.73,1285.18 1646.3,1283.6 C1647.88,1282.03 1649.36,1288.55 1650.35,1289 C1651.34,1289.45 1651.57,1285.4 1652.24,1286.3 C1652.92,1287.2 1653.37,1290.8 1654.4,1294.4 C1655.44,1298 1657.1,1307.45 1658.45,1307.9 C1659.8,1308.35 1661.15,1299.35 1662.5,1297.1 C1663.85,1294.85 1665.2,1291.93 1666.55,1294.4 C1667.9,1296.88 1669.25,1314.2 1670.6,1311.95 C1671.95,1309.7 1673.53,1287.2 1674.65,1280.9 C1675.78,1274.6 1676.23,1274.15 1677.35,1274.15 C1678.48,1274.15 1679.83,1278.43 1681.4,1280.9 C1682.98,1283.38 1685,1286.3 1686.8,1289 C1688.6,1291.7 1690.63,1295.08 1692.2,1297.1 C1693.78,1299.13 1694.68,1302.5 1696.25,1301.15 C1697.83,1299.8 1700.08,1289.68 1701.65,1289 C1703.23,1288.33 1704.35,1294.63 1705.7,1297.1 C1707.05,1299.58 1708.18,1304.3 1709.75,1303.85 C1711.33,1303.4 1714.25,1295.98 1715.15,1294.4" fill="none" stroke="#4CC04C" stroke-width="1.5"/>
<path d="M1630.64,1298.45 C1631.23,1295.3 1632.67,1284.73 1634.15,1279.55 C1635.64,1274.38 1637.75,1273.03 1639.55,1267.4 C1641.35,1261.78 1643.6,1247.6 1644.95,1245.8 C1646.3,1244 1646.75,1253.9 1647.65,1256.6 C1648.55,1259.3 1649.23,1266.05 1650.35,1262 C1651.48,1257.95 1653.05,1237.03 1654.4,1232.3 C1655.75,1227.58 1657.1,1230.5 1658.45,1233.65 C1659.8,1236.8 1661.15,1246.93 1662.5,1251.2 C1663.85,1255.48 1665.2,1256.15 1666.55,1259.3 C1667.9,1262.45 1669.03,1267.85 1670.6,1270.1 C1672.18,1272.35 1674.43,1275.95 1676,1272.8 C1677.58,1269.65 1678.7,1259.3 1680.05,1251.2 C1681.4,1243.1 1682.75,1231.4 1684.1,1224.2 C1685.45,1217 1686.8,1206.2 1688.15,1208 C1689.5,1209.8 1690.85,1224.65 1692.2,1235 C1693.55,1245.35 1694.68,1264.48 1696.25,1270.1 C1697.83,1275.73 1699.85,1268.75 1701.65,1268.75 C1703.45,1268.75 1705.48,1268.08 1707.05,1270.1 C1708.63,1272.13 1709.98,1277.3 1711.1,1280.9 C1712.23,1284.5 1712.9,1289.9 1713.8,1291.7 C1714.7,1293.5 1716.05,1291.7 1716.5,1291.7" fill="none" stroke="#F45050" stroke-width="1.5"/>
<text x="1601.5" y="1162.6" font-size="24.5" fill="#222" text-anchor="middle">Tyrosine</text>
<defs><marker id="ah" markerWidth="10" markerHeight="8" refX="9" refY="4" orient="auto" markerUnits="userSpaceOnUse"><path d="M0,0 L10,4 L0,8 L2.5,4 Z" fill="#222"/></marker></defs>
<line x1="1619.5" y1="1356.25" x2="1578.5" y2="1327" stroke="#222" stroke-width="1.5" marker-end="url(#ah)"/>
<line x1="1718" y1="1356.25" x2="1692" y2="1329.5" stroke="#222" stroke-width="1.5" marker-end="url(#ah)"/>
<circle cx="1754.8" cy="1131" r="7.3" fill="#129412"/>
<circle cx="1754.8" cy="1154" r="7.3" fill="#FF0A0A"/>
<text x="1767.8" y="1137.8" font-size="18.5" fill="#222">Ctrl</text>
<text x="1767.8" y="1160.8" font-size="18.5" fill="#222">SMA1</text>
<circle cx="1209.2" cy="1200" r="7.8" fill="#FAD3D3" stroke="#F5B5B5" stroke-width="1.2"/>
<circle cx="1187.03" cy="1212.8" r="7.8" fill="#FAD3D3" stroke="#F5B5B5" stroke-width="1.2"/>
<circle cx="1231.37" cy="1238.4" r="7.8" fill="#FAD3D3" stroke="#F5B5B5" stroke-width="1.2"/>
<circle cx="1209.2" cy="1251.2" r="7.8" fill="#FAD3D3" stroke="#F5B5B5" stroke-width="1.2"/>
<line x1="1209.2" y1="1200" x2="1231.37" y2="1212.8" stroke="#333" stroke-width="1.9"/>
<line x1="1231.37" y1="1212.8" x2="1231.37" y2="1238.4" stroke="#333" stroke-width="1.9"/>
<line x1="1231.37" y1="1238.4" x2="1209.2" y2="1251.2" stroke="#333" stroke-width="1.9"/>
<line x1="1209.2" y1="1251.2" x2="1187.03" y2="1238.4" stroke="#333" stroke-width="1.9"/>
<line x1="1187.03" y1="1238.4" x2="1187.03" y2="1212.8" stroke="#333" stroke-width="1.9"/>
<line x1="1187.03" y1="1212.8" x2="1209.2" y2="1200" stroke="#333" stroke-width="1.9"/>
<line x1="1210.44" y1="1205.84" x2="1225.69" y2="1214.64" stroke="#333" stroke-width="1.9"/>
<line x1="1225.69" y1="1236.56" x2="1210.44" y2="1245.36" stroke="#333" stroke-width="1.9"/>
<line x1="1191.46" y1="1234.41" x2="1191.46" y2="1216.79" stroke="#333" stroke-width="1.9"/>
<line x1="1231.37" y1="1212.8" x2="1253.5" y2="1200.2" stroke="#333" stroke-width="1.9"/>
<line x1="1253.5" y1="1200.2" x2="1275.9" y2="1213.7" stroke="#333" stroke-width="1.9"/>
<line x1="1275.9" y1="1213.7" x2="1297.7" y2="1200.2" stroke="#333" stroke-width="1.9"/>
<line x1="1295.9" y1="1200.2" x2="1295.9" y2="1182.5" stroke="#333" stroke-width="1.9"/>
<line x1="1299.5" y1="1200.2" x2="1299.5" y2="1182.5" stroke="#333" stroke-width="1.9"/>
<text x="1298.2" y="1181" font-size="15" fill="#222" text-anchor="middle" stroke="#222" stroke-width="0.4">O</text>
<line x1="1297.7" y1="1200.2" x2="1313.5" y2="1209.3" stroke="#333" stroke-width="1.9"/>
<text x="1314.5" y="1220" font-size="15" fill="#222" stroke="#222" stroke-width="0.4">OH</text>
<polygon points="1275.5,1214.7 1276.3,1214.7 1278.5,1231.5 1273.3,1231.5" fill="#111"/>
<text x="1271" y="1246" font-size="15" fill="#222" stroke="#222" stroke-width="0.4">NH<tspan font-size="11" dy="3">2</tspan></text>
<line x1="1187.03" y1="1238.4" x2="1170.5" y2="1248" stroke="#333" stroke-width="1.9"/>
<text x="1147.5" y="1258.5" font-size="15" fill="#222" stroke="#222" stroke-width="0.4">HO</text>
</svg>
</body></html>
